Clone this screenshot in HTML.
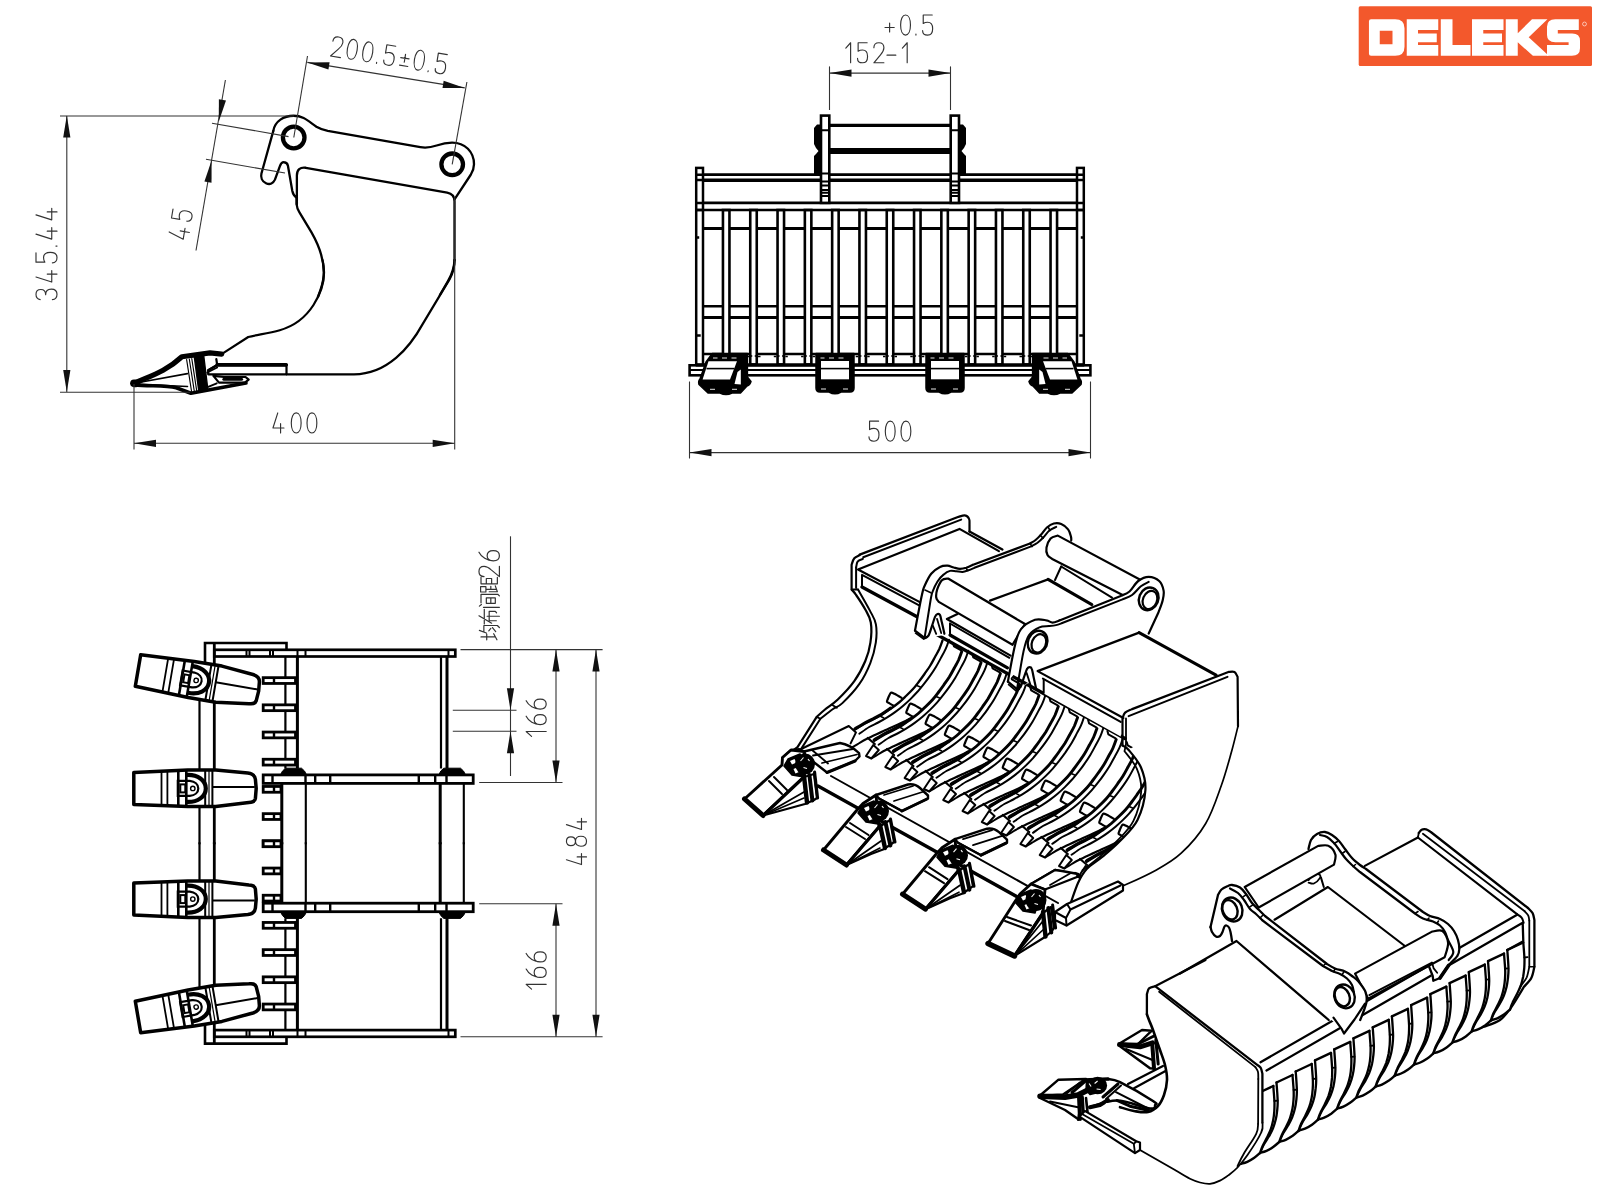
<!DOCTYPE html>
<html><head><meta charset="utf-8"><title>DELEKS drawing</title>
<style>html,body{margin:0;padding:0;background:#fff;font-family:"Liberation Sans",sans-serif;}
svg{display:block}</style></head>
<body><svg width="1600" height="1200" viewBox="0 0 1600 1200">
<rect width="1600" height="1200" fill="#fff"/>
<!-- logo -->
<g>
<rect x="1358.7" y="6.3" width="233.3" height="59.7" rx="1.5" fill="#f3582c"/>
<g transform="translate(1355,0) scale(0.15000)" fill="#fff">
<path d="M93,142 Q93,128 107,128 H268 Q330,128 330,188 V312 Q330,372 268,372 H107 Q93,372 93,358 Z M165,205 H250 V295 H165 Z" fill-rule="evenodd"/>
<path d="M345,128 H555 V200 H420 V223 H545 V281 H420 V300 H555 V372 H345 Z"/>
<path d="M572,128 H650 V300 H770 V372 H572 Z"/>
<path d="M780,128 H990 V200 H855 V223 H980 V281 H855 V300 H990 V372 H780 Z"/>
<path d="M1005,128 H1085 V222 L1180,128 H1283 L1158,248 L1292,372 H1186 L1085,282 V372 H1005 Z"/>
<path d="M1335,128 H1492 V200 H1352 V223 H1448 Q1500,223 1500,272 V322 Q1500,372 1446,372 H1280 V300 H1424 V282 H1335 Q1280,282 1280,234 V178 Q1280,128 1335,128 Z"/>
<circle cx="1530" cy="160" r="13" fill="none" stroke="#fff" stroke-width="4"/>
</g>
</g>
<!-- v1 -->
<g transform="translate(240,100) scale(0.162501)" fill="none" stroke="#000" stroke-width="14.154" stroke-linecap="round" stroke-linejoin="round" >
<path d="M205,190 C215,130 270,97 330,97 C390,97 420,130 470,165 C495,180 510,184 540,190 L1110,290 C1150,297 1180,290 1210,280 C1250,266 1280,262 1305,262 C1385,262 1440,320 1440,395 C1440,420 1432,440 1420,460 L1320,612"/>
<path d="M205,190 L132,452 C126,475 135,500 160,512 C185,524 205,512 215,490 L245,408 C252,388 262,382 272,383 C285,384 292,392 295,405 L322,560 C326,580 332,590 348,600"/>
<path d="M350,645 V465 C350,430 370,412 405,417 L1275,570 C1305,575 1320,590 1320,625 V985"/>
<path d="M348,600 V640 C350,660 355,675 365,690 L440,815 C500,920 520,1000 515,1080 C512,1120 500,1160 480,1210"/>
<path d="M1320,985 C1318,1040 1300,1080 1280,1115 L1230,1200"/>
</g>
<circle cx="293.7" cy="137.5" r="10.8" fill="none" stroke="#000" stroke-width="4.3"/>
<circle cx="452.2" cy="164.3" r="10.8" fill="none" stroke="#000" stroke-width="4.3"/>
<g transform="translate(120,260) scale(0.225002)" fill="none" stroke="#000" stroke-width="9.778" stroke-linecap="round" stroke-linejoin="round" >
<path d="M900,0 C915,60 905,130 860,200 C820,262 770,295 710,312 C660,326 610,332 570,342 L455,416"/>
<path d="M1487,0 C1487,30 1482,55 1465,85 L1345,285 C1290,385 1190,508 1040,508 H740"/>
<path d="M740,508 H392 V490 L432,467 H740 V508"/>
<path d="M432,466 H738" stroke-width="16"/>
<path d="M392,490 L432,467 L428,440"/>
<path d="M415,515 L440,545 H555 L572,532 L558,520 H462 Z"/>
<path d="M462,530 H540" stroke-width="14"/>
</g>
<circle cx="286.3" cy="364.8" r="1.6" fill="#000"/>
<g transform="translate(120,260) scale(0.225002)" fill="none" stroke="#000" stroke-width="9.778" stroke-linecap="round" stroke-linejoin="round" >
<path d="M65,548 C120,520 200,500 275,430 L400,413 L452,418" stroke-width="23"/>
<path d="M65,554 C120,562 200,556 250,568 L315,592 L560,547" stroke-width="16"/>
<path d="M65,548 L300,505 M75,552 L300,562" stroke-width="7"/>
<path d="M330,430 L372,424 L390,572 L350,582 Z" fill="#000" stroke-width="6"/>
<path d="M296,442 L318,584 M308,440 L330,582 M319,438 L341,582" stroke-width="5"/>
<path d="M388,500 L432,478 M392,564 L430,548" stroke-width="8"/>
<path d="M62,548 l10,0" stroke-width="34"/>
</g>
<g><line x1="60.00" y1="116.00" x2="294.00" y2="116.00" stroke="#333" stroke-width="1.1"/><line x1="60.00" y1="392.20" x2="190.00" y2="392.20" stroke="#333" stroke-width="1.1"/><line x1="66.80" y1="116.00" x2="66.80" y2="392.00" stroke="#333" stroke-width="1.1"/><polygon points="66.80,115.50 63.20,137.50 70.40,137.50" fill="#111"/><polygon points="66.80,392.00 70.40,370.00 63.20,370.00" fill="#111"/><line x1="134.00" y1="384.00" x2="134.00" y2="449.50" stroke="#333" stroke-width="1.1"/><line x1="454.70" y1="197.00" x2="454.70" y2="449.50" stroke="#333" stroke-width="1.1"/><line x1="134.00" y1="443.30" x2="454.70" y2="443.30" stroke="#333" stroke-width="1.1"/><polygon points="134.00,443.30 156.00,446.90 156.00,439.70" fill="#111"/><polygon points="454.70,443.30 432.70,439.70 432.70,446.90" fill="#111"/><line x1="293.80" y1="137.50" x2="307.50" y2="56.00" stroke="#333" stroke-width="1.1"/><line x1="452.20" y1="164.30" x2="466.90" y2="82.00" stroke="#333" stroke-width="1.1"/><line x1="307.30" y1="62.40" x2="464.80" y2="87.90" stroke="#333" stroke-width="1.1"/><polygon points="307.30,62.40 328.44,69.47 329.59,62.36" fill="#111"/><polygon points="464.80,87.90 443.66,80.83 442.51,87.94" fill="#111"/><line x1="212.00" y1="123.20" x2="288.50" y2="136.60" stroke="#333" stroke-width="1.1"/><line x1="206.00" y1="159.20" x2="285.00" y2="173.00" stroke="#333" stroke-width="1.1"/><line x1="225.40" y1="80.00" x2="196.00" y2="250.50" stroke="#333" stroke-width="1.1"/><polygon points="218.80,121.50 225.98,100.40 218.88,99.21" fill="#111"/><polygon points="211.60,160.50 204.42,181.60 211.52,182.79" fill="#111"/></g>
<g transform="translate(57.00,254.50) rotate(-90) scale(21.009999999999998)" fill="none" stroke="#333" stroke-width="0.0547" stroke-linecap="round" stroke-linejoin="round"><path transform="translate(-2.147,-1)" d="M0,.2 C.02,.07 .11,0 .25,0 C.4,0 .48,.08 .48,.23 C.48,.38 .4,.46 .23,.46 C.41,.46 .5,.56 .5,.73 C.5,.9 .41,1 .25,1 C.09,1 0,.92 0,.78"/><path transform="translate(-1.311,-1)" d="M.24,0 L0,.75 H.55 M.38,.535 V1"/><path transform="translate(-0.396,-1)" d="M.48,0 H.03 V.42 C.09,.38 .16,.36 .25,.36 C.42,.36 .5,.48 .5,.68 C.5,.88 .42,1 .25,1 C.09,1 0,.92 0,.78"/><path transform="translate(0.419,-1)" d="M-.02,.95 V1"/><path transform="translate(0.732,-1)" d="M.24,0 L0,.75 H.55 M.38,.535 V1"/><path transform="translate(1.647,-1)" d="M.24,0 L0,.75 H.55 M.38,.535 V1"/></g>
<g transform="translate(295.00,433.00) rotate(0) scale(20.055)" fill="none" stroke="#333" stroke-width="0.0573" stroke-linecap="round" stroke-linejoin="round"><path transform="translate(-1.099,-1)" d="M.24,0 L0,.75 H.55 M.38,.535 V1"/><path transform="translate(-0.185,-1)" d="M0,.5 C0,.2 .1,0 .245,0 C.39,0 .49,.2 .49,.5 C.49,.8 .39,1 .245,1 C.1,1 0,.8 0,.5 Z"/><path transform="translate(0.599,-1)" d="M0,.5 C0,.2 .1,0 .245,0 C.39,0 .49,.2 .49,.5 C.49,.8 .39,1 .245,1 C.1,1 0,.8 0,.5 Z"/></g>
<g transform="translate(387.50,65.20) rotate(9.2) scale(20.055)" fill="none" stroke="#333" stroke-width="0.0573" stroke-linecap="round" stroke-linejoin="round"><path transform="translate(-2.878,-1)" d="M0,.25 C0,.08 .09,0 .25,0 C.41,0 .5,.08 .5,.25 C.5,.4 .42,.5 .33,.6 L0,1 H.5"/><path transform="translate(-2.105,-1)" d="M0,.5 C0,.2 .1,0 .245,0 C.39,0 .49,.2 .49,.5 C.49,.8 .39,1 .245,1 C.1,1 0,.8 0,.5 Z"/><path transform="translate(-1.321,-1)" d="M0,.5 C0,.2 .1,0 .245,0 C.39,0 .49,.2 .49,.5 C.49,.8 .39,1 .245,1 C.1,1 0,.8 0,.5 Z"/><path transform="translate(-0.537,-1)" d="M-.02,.95 V1"/><path transform="translate(-0.224,-1)" d="M.48,0 H.03 V.42 C.09,.38 .16,.36 .25,.36 C.42,.36 .5,.48 .5,.68 C.5,.88 .42,1 .25,1 C.09,1 0,.92 0,.78"/><path transform="translate(0.591,-1)" d="M0,.52 H.42 M.21,.32 V.72 M0,.9 H.42"/><path transform="translate(1.281,-1)" d="M0,.5 C0,.2 .1,0 .245,0 C.39,0 .49,.2 .49,.5 C.49,.8 .39,1 .245,1 C.1,1 0,.8 0,.5 Z"/><path transform="translate(2.065,-1)" d="M-.02,.95 V1"/><path transform="translate(2.378,-1)" d="M.48,0 H.03 V.42 C.09,.38 .16,.36 .25,.36 C.42,.36 .5,.48 .5,.68 C.5,.88 .42,1 .25,1 C.09,1 0,.92 0,.78"/></g>
<g transform="translate(190.50,226.00) rotate(-80.5) scale(20.055)" fill="none" stroke="#333" stroke-width="0.0573" stroke-linecap="round" stroke-linejoin="round"><path transform="translate(-0.707,-1)" d="M.24,0 L0,.75 H.55 M.38,.535 V1"/><path transform="translate(0.207,-1)" d="M.48,0 H.03 V.42 C.09,.38 .16,.36 .25,.36 C.42,.36 .5,.48 .5,.68 C.5,.88 .42,1 .25,1 C.09,1 0,.92 0,.78"/></g>
<!-- v2 -->
<path d="M703,228.6 H1077 M703,317.5 H1077" stroke="#000" fill="none" stroke-width="3"/>
<path d="M703,306.2 H1077 M703,353.9 H1077" stroke="#000" fill="none" stroke-width="2.5"/>
<rect x="722.95" y="210" width="6.5" height="154.5" fill="#fff" stroke="#000" stroke-width="2.6"/>
<path d="M722.95,356 h2 M729.45,356 h-2 M719.20,356.5 h2.5 M733.20,356.5 h-2.5" stroke="#000" stroke-width="1.6"/>
<rect x="750.25" y="210" width="6.5" height="154.5" fill="#fff" stroke="#000" stroke-width="2.6"/>
<path d="M750.25,356 h2 M756.75,356 h-2 M746.50,356.5 h2.5 M760.50,356.5 h-2.5" stroke="#000" stroke-width="1.6"/>
<rect x="777.55" y="210" width="6.5" height="154.5" fill="#fff" stroke="#000" stroke-width="2.6"/>
<path d="M777.55,356 h2 M784.05,356 h-2 M773.80,356.5 h2.5 M787.80,356.5 h-2.5" stroke="#000" stroke-width="1.6"/>
<rect x="804.85" y="210" width="6.5" height="154.5" fill="#fff" stroke="#000" stroke-width="2.6"/>
<path d="M804.85,356 h2 M811.35,356 h-2 M801.10,356.5 h2.5 M815.10,356.5 h-2.5" stroke="#000" stroke-width="1.6"/>
<rect x="832.15" y="210" width="6.5" height="154.5" fill="#fff" stroke="#000" stroke-width="2.6"/>
<path d="M832.15,356 h2 M838.65,356 h-2 M828.40,356.5 h2.5 M842.40,356.5 h-2.5" stroke="#000" stroke-width="1.6"/>
<rect x="859.45" y="210" width="6.5" height="154.5" fill="#fff" stroke="#000" stroke-width="2.6"/>
<path d="M859.45,356 h2 M865.95,356 h-2 M855.70,356.5 h2.5 M869.70,356.5 h-2.5" stroke="#000" stroke-width="1.6"/>
<rect x="886.75" y="210" width="6.5" height="154.5" fill="#fff" stroke="#000" stroke-width="2.6"/>
<path d="M886.75,356 h2 M893.25,356 h-2 M883.00,356.5 h2.5 M897.00,356.5 h-2.5" stroke="#000" stroke-width="1.6"/>
<rect x="914.05" y="210" width="6.5" height="154.5" fill="#fff" stroke="#000" stroke-width="2.6"/>
<path d="M914.05,356 h2 M920.55,356 h-2 M910.30,356.5 h2.5 M924.30,356.5 h-2.5" stroke="#000" stroke-width="1.6"/>
<rect x="941.35" y="210" width="6.5" height="154.5" fill="#fff" stroke="#000" stroke-width="2.6"/>
<path d="M941.35,356 h2 M947.85,356 h-2 M937.60,356.5 h2.5 M951.60,356.5 h-2.5" stroke="#000" stroke-width="1.6"/>
<rect x="968.65" y="210" width="6.5" height="154.5" fill="#fff" stroke="#000" stroke-width="2.6"/>
<path d="M968.65,356 h2 M975.15,356 h-2 M964.90,356.5 h2.5 M978.90,356.5 h-2.5" stroke="#000" stroke-width="1.6"/>
<rect x="995.95" y="210" width="6.5" height="154.5" fill="#fff" stroke="#000" stroke-width="2.6"/>
<path d="M995.95,356 h2 M1002.45,356 h-2 M992.20,356.5 h2.5 M1006.20,356.5 h-2.5" stroke="#000" stroke-width="1.6"/>
<rect x="1023.25" y="210" width="6.5" height="154.5" fill="#fff" stroke="#000" stroke-width="2.6"/>
<path d="M1023.25,356 h2 M1029.75,356 h-2 M1019.50,356.5 h2.5 M1033.50,356.5 h-2.5" stroke="#000" stroke-width="1.6"/>
<rect x="1050.55" y="210" width="6.5" height="154.5" fill="#fff" stroke="#000" stroke-width="2.6"/>
<path d="M1050.55,356 h2 M1057.05,356 h-2 M1046.80,356.5 h2.5 M1060.80,356.5 h-2.5" stroke="#000" stroke-width="1.6"/>
<rect x="696.2" y="167.9" width="6.8" height="197" fill="#fff" stroke="#000" stroke-width="2.5"/>
<path d="M696.2,174.7 h6.8 M696.2,180 h6.8 M696.2,202.9 h6.8 M696.2,210 h6.8" stroke="#000" stroke-width="2.5"/>
<rect x="1077" y="167.9" width="6.8" height="197" fill="#fff" stroke="#000" stroke-width="2.5"/>
<path d="M1077,174.7 h6.8 M1077,180 h6.8 M1077,202.9 h6.8 M1077,210 h6.8" stroke="#000" stroke-width="2.5"/>
<path d="M696.2,237.5 h3 M696.2,335.5 h4.5 M1083.8,237.5 h-3 M1083.8,335.5 h-4.5" stroke="#000" stroke-width="2.4"/>
<path d="M703,174.7 H1077 M703,202.9 H1077 M696.2,210 H1083.8" stroke="#000" fill="none" stroke-width="2.7"/>
<path d="M703,180.2 H1077" stroke="#000" fill="none" stroke-width="3.4"/>
<path d="M829.3,125.4 H950.7" stroke="#000" fill="none" stroke-width="3.2"/>
<path d="M829.3,151 H950.7" stroke="#000" fill="none" stroke-width="6"/>
<rect x="821" y="115.6" width="8.3" height="87.3" fill="#fff" stroke="#000" stroke-width="2.6"/>
<path d="M821,130.3 h8.3 M821,173.6 h8.3 M821,181.5 h8.3 M821,185.5 h8.3 M821,190 h8.3 M821,192.8 h8.3 M821,196 h8.3" stroke="#000" stroke-width="2"/>
<path d="M821,124.6 L817,124.6 L814,128 V144 L816,148 L818.5,151 L816,154 L814,156 V174 H821 Z" fill="#000"/>
<rect x="950.7" y="115.6" width="8.3" height="87.3" fill="#fff" stroke="#000" stroke-width="2.6"/>
<path d="M950.7,130.3 h8.3 M950.7,173.6 h8.3 M950.7,181.5 h8.3 M950.7,185.5 h8.3 M950.7,190 h8.3 M950.7,192.8 h8.3 M950.7,196 h8.3" stroke="#000" stroke-width="2"/>
<path d="M959.0,124.6 L963.0,124.6 L966.0,128 V144 L964.0,148 L961.5,151 L964.0,154 L966.0,156 V174 H959.0 Z" fill="#000"/>
<path d="M696,364.9 H1084" stroke="#000" fill="none" stroke-width="3.2"/>
<rect x="689.6" y="365.3" width="400.8" height="10" fill="none" stroke="#000" stroke-width="2.6"/>
<path d="M689.6,370 H1090.4" stroke="#000" fill="none" stroke-width="2"/>
<path d="M712.3,353.5 H747.4 V377 L751,381.5 Q750,385 747,386 L740.5,393 H732 Q726,396 720,393 H708 L699,384.5 Q698,381 700,379 L706,362 Z" fill="#000" stroke="#000" stroke-width="1.5" stroke-linejoin="round"/><path d="M708.5,361.2 H737 L730,379.6 H702.6 Z" fill="#fff"/><path d="M737.5,372 L740.8,369.5 V384.5 L734.5,384 Z" fill="#fff"/><path d="M706.5,368.6 H734.5" stroke="#000" stroke-width="1.6"/><path d="M713,358 h4.5 m4.5,0 h5 m4.5,0 h5 M710,389.3 h5 m17,0 h5" stroke="#fff" stroke-width="0.9"/>
<g transform="translate(1780,0) scale(-1,1)"><path d="M712.3,353.5 H747.4 V377 L751,381.5 Q750,385 747,386 L740.5,393 H732 Q726,396 720,393 H708 L699,384.5 Q698,381 700,379 L706,362 Z" fill="#000" stroke="#000" stroke-width="1.5" stroke-linejoin="round"/><path d="M708.5,361.2 H737 L730,379.6 H702.6 Z" fill="#fff"/><path d="M737.5,372 L740.8,369.5 V384.5 L734.5,384 Z" fill="#fff"/><path d="M706.5,368.6 H734.5" stroke="#000" stroke-width="1.6"/><path d="M713,358 h4.5 m4.5,0 h5 m4.5,0 h5 M710,389.3 h5 m17,0 h5" stroke="#fff" stroke-width="0.9"/></g>
<path d="M816,353.5 H854 V388 Q854,392 850,392 H841 Q835,395.5 829,392 H820 Q816,392 816,388 Z" fill="#000" stroke="#000" stroke-width="1.5" stroke-linejoin="round"/><rect x="821" y="361" width="28" height="18.3" fill="#fff"/><path d="M821,368.6 H849" stroke="#000" stroke-width="1.6"/><path d="M820.5,358 h4 m4.5,0 h5 m4.5,0 h5 M821,389 h5 m17,0 h5 M827,362.3 h4 m8,0 h4" stroke="#fff" stroke-width="0.9"/>
<path d="M926,353.5 H964 V388 Q964,392 960,392 H951 Q945,395.5 939,392 H930 Q926,392 926,388 Z" fill="#000" stroke="#000" stroke-width="1.5" stroke-linejoin="round"/><rect x="931" y="361" width="28" height="18.3" fill="#fff"/><path d="M931,368.6 H959" stroke="#000" stroke-width="1.6"/><path d="M930.5,358 h4 m4.5,0 h5 m4.5,0 h5 M931,389 h5 m17,0 h5 M937,362.3 h4 m8,0 h4" stroke="#fff" stroke-width="0.9"/>
<line x1="689.50" y1="381.50" x2="689.50" y2="458.50" stroke="#333" stroke-width="1.1"/><line x1="1090.50" y1="381.50" x2="1090.50" y2="458.50" stroke="#333" stroke-width="1.1"/><line x1="689.50" y1="452.60" x2="1090.50" y2="452.60" stroke="#333" stroke-width="1.1"/><polygon points="689.50,452.60 711.50,456.20 711.50,449.00" fill="#111"/><polygon points="1090.50,452.60 1068.50,449.00 1068.50,456.20" fill="#111"/><line x1="829.50" y1="66.40" x2="829.50" y2="110.00" stroke="#333" stroke-width="1.1"/><line x1="950.50" y1="66.40" x2="950.50" y2="110.00" stroke="#333" stroke-width="1.1"/><line x1="829.50" y1="73.10" x2="950.50" y2="73.10" stroke="#333" stroke-width="1.1"/><polygon points="829.50,73.10 851.50,76.70 851.50,69.50" fill="#111"/><polygon points="950.50,73.10 928.50,69.50 928.50,76.70" fill="#111"/>
<g transform="translate(890.00,441.20) rotate(0) scale(20.055)" fill="none" stroke="#333" stroke-width="0.0573" stroke-linecap="round" stroke-linejoin="round"><path transform="translate(-1.049,-1)" d="M.48,0 H.03 V.42 C.09,.38 .16,.36 .25,.36 C.42,.36 .5,.48 .5,.68 C.5,.88 .42,1 .25,1 C.09,1 0,.92 0,.78"/><path transform="translate(-0.234,-1)" d="M0,.5 C0,.2 .1,0 .245,0 C.39,0 .49,.2 .49,.5 C.49,.8 .39,1 .245,1 C.1,1 0,.8 0,.5 Z"/><path transform="translate(0.549,-1)" d="M0,.5 C0,.2 .1,0 .245,0 C.39,0 .49,.2 .49,.5 C.49,.8 .39,1 .245,1 C.1,1 0,.8 0,.5 Z"/></g>
<g transform="translate(845.80,62.80) rotate(0) scale(20.055)" fill="none" stroke="#333" stroke-width="0.0573" stroke-linecap="round" stroke-linejoin="round"><path transform="translate(0.000,-1)" d="M0,.27 L.24,0 V1"/><path transform="translate(0.585,-1)" d="M.48,0 H.03 V.42 C.09,.38 .16,.36 .25,.36 C.42,.36 .5,.48 .5,.68 C.5,.88 .42,1 .25,1 C.09,1 0,.92 0,.78"/><path transform="translate(1.400,-1)" d="M0,.25 C0,.08 .09,0 .25,0 C.41,0 .5,.08 .5,.25 C.5,.4 .42,.5 .33,.6 L0,1 H.5"/><path transform="translate(2.174,-1)" d="M-.12,.62 H.32"/><path transform="translate(2.821,-1)" d="M0,.27 L.24,0 V1"/></g>
<g transform="translate(885.00,35.10) rotate(0) scale(20.055)" fill="none" stroke="#333" stroke-width="0.0573" stroke-linecap="round" stroke-linejoin="round"><path transform="translate(0.000,-1)" d="M0,.62 H.46 M.23,.4 V.84"/><path transform="translate(0.779,-1)" d="M0,.5 C0,.2 .1,0 .245,0 C.39,0 .49,.2 .49,.5 C.49,.8 .39,1 .245,1 C.1,1 0,.8 0,.5 Z"/><path transform="translate(1.562,-1)" d="M-.02,.95 V1"/><path transform="translate(1.876,-1)" d="M.48,0 H.03 V.42 C.09,.38 .16,.36 .25,.36 C.42,.36 .5,.48 .5,.68 C.5,.88 .42,1 .25,1 C.09,1 0,.92 0,.78"/></g>
<!-- v3 -->
<g transform="translate(0,1686.6) scale(1,-1)"><path d="M205,664 V643 H286.5 V649.8" fill="none" stroke="#000" stroke-width="2.6"/>
<path d="M214.3,643 V844.3" fill="none" stroke="#000" stroke-width="2.8"/>
<path d="M199.5,690 V844.3" fill="none" stroke="#000" stroke-width="2.2"/>
<rect x="214.3" y="649.8" width="241" height="6.7" fill="none" stroke="#000" stroke-width="2.7"/>
<path d="M448.5,649.8 v6.7 M246.5,649.8 v6.7 M249.5,649.8 v6.7 M270,649.8 v6.7 M273,649.8 v6.7 M297.5,649.8 v6.7 M305.5,649.8 v6.7" fill="none" stroke="#000" stroke-width="2"/>
<path d="M285.4,656.5 V768.4 M441,656.5 V768.4" fill="none" stroke="#000" stroke-width="2.2"/>
<path d="M297.4,656.5 V768.4 M447,656.5 V768.4" fill="none" stroke="#000" stroke-width="3"/>
<path d="M280.5,774.8 L282.5,771 L285.5,768.2 H301.5 L304.5,771 L306.5,774.8 Z M438.8,774.8 L440.8,771 L443.8,768.2 H460.5 L463.5,771 L465.5,774.8 Z" fill="#000" stroke="#000" stroke-width="1"/>
<rect x="263.2" y="774.9" width="210" height="8.5" fill="#fff" stroke="#000" stroke-width="2.8"/>
<path d="M272.5,775 v8.5 M305.5,775 v8.5 M315.2,775 v8.5 M330.2,775 v8.5 M418.8,775 v8.5 M435.2,775 v8.5 M446.5,775 v8.5" fill="none" stroke="#000" stroke-width="2.4"/>
<path d="M281.8,783.4 V844.3 M440.2,783.4 V844.3" fill="none" stroke="#000" stroke-width="3"/>
<path d="M305.8,783.4 V844.3 M463.8,783.4 V844.3" fill="none" stroke="#000" stroke-width="2.1"/></g>
<path d="M205,664 V643 H286.5 V649.8" fill="none" stroke="#000" stroke-width="2.6"/>
<path d="M214.3,643 V844.3" fill="none" stroke="#000" stroke-width="2.8"/>
<path d="M199.5,690 V844.3" fill="none" stroke="#000" stroke-width="2.2"/>
<rect x="214.3" y="649.8" width="241" height="6.7" fill="none" stroke="#000" stroke-width="2.7"/>
<path d="M448.5,649.8 v6.7 M246.5,649.8 v6.7 M249.5,649.8 v6.7 M270,649.8 v6.7 M273,649.8 v6.7 M297.5,649.8 v6.7 M305.5,649.8 v6.7" fill="none" stroke="#000" stroke-width="2"/>
<path d="M285.4,656.5 V768.4 M441,656.5 V768.4" fill="none" stroke="#000" stroke-width="2.2"/>
<path d="M297.4,656.5 V768.4 M447,656.5 V768.4" fill="none" stroke="#000" stroke-width="3"/>
<path d="M280.5,774.8 L282.5,771 L285.5,768.2 H301.5 L304.5,771 L306.5,774.8 Z M438.8,774.8 L440.8,771 L443.8,768.2 H460.5 L463.5,771 L465.5,774.8 Z" fill="#000" stroke="#000" stroke-width="1"/>
<rect x="263.2" y="774.9" width="210" height="8.5" fill="#fff" stroke="#000" stroke-width="2.8"/>
<path d="M272.5,775 v8.5 M305.5,775 v8.5 M315.2,775 v8.5 M330.2,775 v8.5 M418.8,775 v8.5 M435.2,775 v8.5 M446.5,775 v8.5" fill="none" stroke="#000" stroke-width="2.4"/>
<path d="M281.8,783.4 V844.3 M440.2,783.4 V844.3" fill="none" stroke="#000" stroke-width="3"/>
<path d="M305.8,783.4 V844.3 M463.8,783.4 V844.3" fill="none" stroke="#000" stroke-width="2.1"/>
<g transform="translate(0,1687.5) scale(1,-1)"><rect x="263.2" y="677.65" width="32.30" height="5.8" fill="#fff" stroke="#000" stroke-width="2.8"/>
<path d="M274,677.65 v5.8" fill="none" stroke="#000" stroke-width="2.4"/>
<rect x="263.2" y="704.85" width="32.30" height="5.8" fill="#fff" stroke="#000" stroke-width="2.8"/>
<path d="M274,704.85 v5.8" fill="none" stroke="#000" stroke-width="2.4"/>
<rect x="263.2" y="732.05" width="32.30" height="5.8" fill="#fff" stroke="#000" stroke-width="2.8"/>
<path d="M274,732.05 v5.8" fill="none" stroke="#000" stroke-width="2.4"/>
<rect x="263.2" y="759.25" width="32.30" height="5.8" fill="#fff" stroke="#000" stroke-width="2.8"/>
<path d="M274,759.25 v5.8" fill="none" stroke="#000" stroke-width="2.4"/>
<rect x="263.2" y="786.45" width="17.80" height="5.8" fill="#fff" stroke="#000" stroke-width="2.8"/>
<path d="M274,786.45 v5.8" fill="none" stroke="#000" stroke-width="2.4"/>
<rect x="263.2" y="813.65" width="17.80" height="5.8" fill="#fff" stroke="#000" stroke-width="2.8"/>
<path d="M274,813.65 v5.8" fill="none" stroke="#000" stroke-width="2.4"/>
<rect x="263.2" y="840.85" width="17.80" height="5.8" fill="#fff" stroke="#000" stroke-width="2.8"/>
<path d="M274,840.85 v5.8" fill="none" stroke="#000" stroke-width="2.4"/>
<g transform="translate(138,670.5) rotate(9.7)"><path d="M0,-16 L54,-18.3 L82,-18.5 L114,-15.4 Q121,-14.5 121.6,-9 L122.4,0 L121.6,10 Q121,13.8 115,14 L82,18.2 L54,18.2 L0,16 Z" fill="#fff" stroke="#000" stroke-width="3.5" stroke-linejoin="round" stroke-linecap="round"/><path d="M27.7,-17 V17 M33.6,-17 V17" fill="none" stroke="#000" stroke-width="1.8"/><path d="M71.4,-18 V18 M78.6,-18 V18" fill="none" stroke="#000" stroke-width="2"/><path d="M75.2,-18 V18" fill="none" stroke="#000" stroke-width="1.2"/><path d="M78.6,-1.5 H121" fill="none" stroke="#000" stroke-width="2"/><path d="M44.5,-17.5 V17.5 M52.5,-17.5 V17.5" fill="none" stroke="#000" stroke-width="2.6"/><path d="M53,-13.5 C64,-14 72,-8 72,0 C72,8 64,14 53,13.5" fill="none" stroke="#000" stroke-width="4.2"/><path d="M44,-7.5 H56 C61,-7 64.5,-4 64.5,0 C64.5,4 61,7 56,7.5 H44 Z" fill="none" stroke="#000" stroke-width="2.2"/><rect x="46.5" y="-4" width="5" height="8" fill="none" stroke="#000" stroke-width="2"/><circle cx="59" cy="0" r="2.2" fill="none" stroke="#000" stroke-width="1.4"/></g>
<g transform="translate(133.8,788.4)"><path d="M0,-16 L54,-18.3 L82,-18.5 L114,-15.4 Q121,-14.5 121.6,-9 L122.4,0 L121.6,10 Q121,13.8 115,14 L82,18.2 L54,18.2 L0,16 Z" fill="#fff" stroke="#000" stroke-width="3.5" stroke-linejoin="round" stroke-linecap="round"/><path d="M27.7,-17 V17 M33.6,-17 V17" fill="none" stroke="#000" stroke-width="1.8"/><path d="M71.4,-18 V18 M78.6,-18 V18" fill="none" stroke="#000" stroke-width="2"/><path d="M75.2,-18 V18" fill="none" stroke="#000" stroke-width="1.2"/><path d="M78.6,-1.5 H121" fill="none" stroke="#000" stroke-width="2"/><path d="M44.5,-17.5 V17.5 M52.5,-17.5 V17.5" fill="none" stroke="#000" stroke-width="2.6"/><path d="M53,-13.5 C64,-14 72,-8 72,0 C72,8 64,14 53,13.5" fill="none" stroke="#000" stroke-width="4.2"/><path d="M44,-7.5 H56 C61,-7 64.5,-4 64.5,0 C64.5,4 61,7 56,7.5 H44 Z" fill="none" stroke="#000" stroke-width="2.2"/><rect x="46.5" y="-4" width="5" height="8" fill="none" stroke="#000" stroke-width="2"/><circle cx="59" cy="0" r="2.2" fill="none" stroke="#000" stroke-width="1.4"/></g></g>
<rect x="263.2" y="677.65" width="32.30" height="5.8" fill="#fff" stroke="#000" stroke-width="2.8"/>
<path d="M274,677.65 v5.8" fill="none" stroke="#000" stroke-width="2.4"/>
<rect x="263.2" y="704.85" width="32.30" height="5.8" fill="#fff" stroke="#000" stroke-width="2.8"/>
<path d="M274,704.85 v5.8" fill="none" stroke="#000" stroke-width="2.4"/>
<rect x="263.2" y="732.05" width="32.30" height="5.8" fill="#fff" stroke="#000" stroke-width="2.8"/>
<path d="M274,732.05 v5.8" fill="none" stroke="#000" stroke-width="2.4"/>
<rect x="263.2" y="759.25" width="32.30" height="5.8" fill="#fff" stroke="#000" stroke-width="2.8"/>
<path d="M274,759.25 v5.8" fill="none" stroke="#000" stroke-width="2.4"/>
<rect x="263.2" y="786.45" width="17.80" height="5.8" fill="#fff" stroke="#000" stroke-width="2.8"/>
<path d="M274,786.45 v5.8" fill="none" stroke="#000" stroke-width="2.4"/>
<rect x="263.2" y="813.65" width="17.80" height="5.8" fill="#fff" stroke="#000" stroke-width="2.8"/>
<path d="M274,813.65 v5.8" fill="none" stroke="#000" stroke-width="2.4"/>
<rect x="263.2" y="840.85" width="17.80" height="5.8" fill="#fff" stroke="#000" stroke-width="2.8"/>
<path d="M274,840.85 v5.8" fill="none" stroke="#000" stroke-width="2.4"/>
<g transform="translate(138,670.5) rotate(9.7)"><path d="M0,-16 L54,-18.3 L82,-18.5 L114,-15.4 Q121,-14.5 121.6,-9 L122.4,0 L121.6,10 Q121,13.8 115,14 L82,18.2 L54,18.2 L0,16 Z" fill="#fff" stroke="#000" stroke-width="3.5" stroke-linejoin="round" stroke-linecap="round"/><path d="M27.7,-17 V17 M33.6,-17 V17" fill="none" stroke="#000" stroke-width="1.8"/><path d="M71.4,-18 V18 M78.6,-18 V18" fill="none" stroke="#000" stroke-width="2"/><path d="M75.2,-18 V18" fill="none" stroke="#000" stroke-width="1.2"/><path d="M78.6,-1.5 H121" fill="none" stroke="#000" stroke-width="2"/><path d="M44.5,-17.5 V17.5 M52.5,-17.5 V17.5" fill="none" stroke="#000" stroke-width="2.6"/><path d="M53,-13.5 C64,-14 72,-8 72,0 C72,8 64,14 53,13.5" fill="none" stroke="#000" stroke-width="4.2"/><path d="M44,-7.5 H56 C61,-7 64.5,-4 64.5,0 C64.5,4 61,7 56,7.5 H44 Z" fill="none" stroke="#000" stroke-width="2.2"/><rect x="46.5" y="-4" width="5" height="8" fill="none" stroke="#000" stroke-width="2"/><circle cx="59" cy="0" r="2.2" fill="none" stroke="#000" stroke-width="1.4"/></g>
<g transform="translate(133.8,788.4)"><path d="M0,-16 L54,-18.3 L82,-18.5 L114,-15.4 Q121,-14.5 121.6,-9 L122.4,0 L121.6,10 Q121,13.8 115,14 L82,18.2 L54,18.2 L0,16 Z" fill="#fff" stroke="#000" stroke-width="3.5" stroke-linejoin="round" stroke-linecap="round"/><path d="M27.7,-17 V17 M33.6,-17 V17" fill="none" stroke="#000" stroke-width="1.8"/><path d="M71.4,-18 V18 M78.6,-18 V18" fill="none" stroke="#000" stroke-width="2"/><path d="M75.2,-18 V18" fill="none" stroke="#000" stroke-width="1.2"/><path d="M78.6,-1.5 H121" fill="none" stroke="#000" stroke-width="2"/><path d="M44.5,-17.5 V17.5 M52.5,-17.5 V17.5" fill="none" stroke="#000" stroke-width="2.6"/><path d="M53,-13.5 C64,-14 72,-8 72,0 C72,8 64,14 53,13.5" fill="none" stroke="#000" stroke-width="4.2"/><path d="M44,-7.5 H56 C61,-7 64.5,-4 64.5,0 C64.5,4 61,7 56,7.5 H44 Z" fill="none" stroke="#000" stroke-width="2.2"/><rect x="46.5" y="-4" width="5" height="8" fill="none" stroke="#000" stroke-width="2"/><circle cx="59" cy="0" r="2.2" fill="none" stroke="#000" stroke-width="1.4"/></g>
<line x1="510.50" y1="536.30" x2="510.50" y2="776.00" stroke="#333" stroke-width="1.1"/><polygon points="510.50,710.20 514.10,688.20 506.90,688.20" fill="#111"/><polygon points="510.50,731.20 506.90,753.20 514.10,753.20" fill="#111"/><line x1="452.80" y1="710.20" x2="516.50" y2="710.20" stroke="#333" stroke-width="1.1"/><line x1="452.80" y1="731.20" x2="516.50" y2="731.20" stroke="#333" stroke-width="1.1"/><line x1="460.50" y1="649.60" x2="602.60" y2="649.60" stroke="#333" stroke-width="1.1"/><line x1="479.20" y1="782.50" x2="562.50" y2="782.50" stroke="#333" stroke-width="1.1"/><line x1="479.20" y1="903.80" x2="562.50" y2="903.80" stroke="#333" stroke-width="1.1"/><line x1="460.50" y1="1036.80" x2="602.60" y2="1036.80" stroke="#333" stroke-width="1.1"/><line x1="556.00" y1="649.60" x2="556.00" y2="782.50" stroke="#333" stroke-width="1.1"/><polygon points="556.00,649.60 552.40,671.60 559.60,671.60" fill="#111"/><polygon points="556.00,782.50 559.60,760.50 552.40,760.50" fill="#111"/><line x1="556.00" y1="903.80" x2="556.00" y2="1036.80" stroke="#333" stroke-width="1.1"/><polygon points="556.00,903.80 552.40,925.80 559.60,925.80" fill="#111"/><polygon points="556.00,1036.80 559.60,1014.80 552.40,1014.80" fill="#111"/><line x1="596.00" y1="649.60" x2="596.00" y2="1036.80" stroke="#333" stroke-width="1.1"/><polygon points="596.00,649.60 592.40,671.60 599.60,671.60" fill="#111"/><polygon points="596.00,1036.80 599.60,1014.80 592.40,1014.80" fill="#111"/>
<g transform="translate(546.20,717.70) rotate(-90) scale(20.055)" fill="none" stroke="#333" stroke-width="0.0573" stroke-linecap="round" stroke-linejoin="round"><path transform="translate(-0.929,-1)" d="M0,.27 L.24,0 V1"/><path transform="translate(-0.344,-1)" d="M.42,0 C.18,.12 0,.4 0,.7 C0,.9 .09,1 .25,1 C.41,1 .5,.9 .5,.7 C.5,.5 .41,.4 .25,.4 C.09,.4 0,.52 0,.7"/><path transform="translate(0.429,-1)" d="M.42,0 C.18,.12 0,.4 0,.7 C0,.9 .09,1 .25,1 C.41,1 .5,.9 .5,.7 C.5,.5 .41,.4 .25,.4 C.09,.4 0,.52 0,.7"/></g>
<g transform="translate(546.20,970.50) rotate(-90) scale(20.055)" fill="none" stroke="#333" stroke-width="0.0573" stroke-linecap="round" stroke-linejoin="round"><path transform="translate(-0.929,-1)" d="M0,.27 L.24,0 V1"/><path transform="translate(-0.344,-1)" d="M.42,0 C.18,.12 0,.4 0,.7 C0,.9 .09,1 .25,1 C.41,1 .5,.9 .5,.7 C.5,.5 .41,.4 .25,.4 C.09,.4 0,.52 0,.7"/><path transform="translate(0.429,-1)" d="M.42,0 C.18,.12 0,.4 0,.7 C0,.9 .09,1 .25,1 C.41,1 .5,.9 .5,.7 C.5,.5 .41,.4 .25,.4 C.09,.4 0,.52 0,.7"/></g>
<g transform="translate(586.50,842.00) rotate(-90) scale(20.055)" fill="none" stroke="#333" stroke-width="0.0573" stroke-linecap="round" stroke-linejoin="round"><path transform="translate(-1.125,-1)" d="M.24,0 L0,.75 H.55 M.38,.535 V1"/><path transform="translate(-0.211,-1)" d="M.25,0 C.39,0 .47,.08 .47,.22 C.47,.36 .39,.45 .25,.45 C.11,.45 .03,.36 .03,.22 C.03,.08 .11,0 .25,0 Z M.25,.45 C.41,.45 .5,.56 .5,.72 C.5,.9 .41,1 .25,1 C.09,1 0,.9 0,.72 C0,.56 .09,.45 .25,.45 Z"/><path transform="translate(0.625,-1)" d="M.24,0 L0,.75 H.55 M.38,.535 V1"/></g>
<g transform="translate(499.40,639.80) rotate(-90) scale(20.436999999999998)" fill="none" stroke="#333" stroke-width="0.0587" stroke-linecap="round" stroke-linejoin="round"><path transform="translate(0.000,-1)" d="M0,.38 H.28 M.14,.1 V.78 M0,.88 L.3,.72 M.46,.02 L.33,.36 M.4,.24 H.7 V.9 L.6,1 M.44,.48 L.56,.58 M.4,.82 L.6,.66"/><path transform="translate(0.773,-1)" d="M0,.26 H.72 M.4,0 L.04,.62 M.38,.4 V1 M.16,.85 V.5 H.62 V.8 L.55,.86"/><path transform="translate(1.547,-1)" d="M.1,.02 L.18,.12 M.04,.22 V1 M.26,.1 H.68 V.92 L.6,1 M.24,.36 H.5 V.8 H.24 Z M.24,.58 H.5"/><path transform="translate(2.320,-1)" d="M.02,.08 H.28 V.34 H.02 Z M.15,.34 V.86 M.15,.58 H.3 M.03,.5 V.9 L.32,.8 M.42,.1 H.74 M.42,.1 V.9 H.74 M.42,.36 H.68 V.62 H.42"/><path transform="translate(3.093,-1)" d="M0,.25 C0,.08 .09,0 .25,0 C.41,0 .5,.08 .5,.25 C.5,.4 .42,.5 .33,.6 L0,1 H.5"/><path transform="translate(3.866,-1)" d="M.42,0 C.18,.12 0,.4 0,.7 C0,.9 .09,1 .25,1 C.41,1 .5,.9 .5,.7 C.5,.5 .41,.4 .25,.4 C.09,.4 0,.52 0,.7"/></g>
<!-- v4 -->
<path d="M859.8,555.0 L859.8,555.0 M859.8,555.0 C858.9,555.6 855.7,556.7 854.3,558.3 C852.9,559.9 852.0,563.7 851.6,564.7 M851.6,564.7 L851.6,589.5 M851.6,589.5 C852.3,590.4 853.9,591.6 856.1,595.0 C858.4,598.3 862.9,605.1 865.3,609.6 C867.8,614.2 870.0,617.0 870.8,622.5 C871.7,628.0 871.4,636.2 870.4,642.6 C869.5,649.1 868.0,654.6 865.3,661.0 C862.6,667.4 858.9,674.7 854.3,681.1 C849.7,687.5 842.7,694.7 837.8,699.5 C832.9,704.2 828.5,706.6 825.0,709.5 C821.5,712.4 818.1,715.6 816.7,716.9 M816.7,716.9 L797.5,747.1 L790.2,752.6" fill="none" stroke="#000" stroke-width="2.2" stroke-linecap="round" stroke-linejoin="round" /><path d="M858.0,589.5 C860.0,593.0 866.9,604.8 869.9,610.6 C872.9,616.4 875.0,619.0 875.9,624.3 C876.9,629.7 876.7,636.2 875.8,642.6 C874.8,649.1 873.2,655.9 870.4,662.8 C867.7,669.7 864.1,677.2 859.4,683.9 C854.8,690.6 846.9,698.8 842.4,703.1 C837.9,707.4 836.0,706.9 832.3,709.5 C828.7,712.1 822.4,717.2 820.4,718.7 M820.4,718.7 L801.2,748.9" fill="none" stroke="#000" stroke-width="2.0" stroke-linecap="round" stroke-linejoin="round" /><path d="M856.1,588.0 L856.1,567.5" fill="none" stroke="#000" stroke-width="2.0" stroke-linecap="round" stroke-linejoin="round" /><path d="M856.1,567.5 C856.4,566.5 856.5,563.1 857.6,561.6 C858.7,560.2 862.0,559.3 862.9,558.9" fill="none" stroke="#000" stroke-width="2.0" stroke-linecap="round" stroke-linejoin="round" /><path d="M832.3,705.0 L836.9,707.7" fill="none" stroke="#000" stroke-width="1.8" stroke-linecap="round" stroke-linejoin="round" /><path d="M816.7,716.9 L820.4,718.7" fill="none" stroke="#000" stroke-width="1.8" stroke-linecap="round" stroke-linejoin="round" /><path d="M851.6,589.5 L858.0,589.5" fill="none" stroke="#000" stroke-width="1.8" stroke-linecap="round" stroke-linejoin="round" /><path d="M859.7,554.6 L958.6,516.8 M958.6,516.8 C959.7,516.6 963.3,515.0 965.1,515.4 C966.8,515.7 968.4,517.4 969.1,518.9 C969.9,520.4 969.4,523.6 969.5,524.5 L969.5,531.5" fill="none" stroke="#000" stroke-width="2.2" stroke-linecap="round" stroke-linejoin="round" /><path d="M863.2,557.2 L961.2,519.6" fill="none" stroke="#000" stroke-width="2.0" stroke-linecap="round" stroke-linejoin="round" />
<path d="M922.7,603.6 L858.0,569.5 L959.5,528.9 L998.9,551.1" fill="none" stroke="#000" stroke-width="2.2" stroke-linecap="round" stroke-linejoin="round" /><path d="M969.5,531.5 L1002.4,549.5" fill="none" stroke="#000" stroke-width="2.4" stroke-linecap="round" stroke-linejoin="round" /><path d="M920.1,605.9 L862.0,574.9 L862.0,587.1" fill="none" stroke="#000" stroke-width="2.0" stroke-linecap="round" stroke-linejoin="round" /><path d="M862.0,587.1 L917.5,616.9" fill="none" stroke="#000" stroke-width="3.4" stroke-linecap="round" stroke-linejoin="round" />
<path d="M942.5,640.5 C942.0,641.9 940.5,646.2 939.3,649.0 C938.0,651.8 936.5,654.2 935.0,657.0 C933.5,659.8 931.8,663.2 930.0,666.0 C928.2,668.8 926.3,671.4 924.5,674.0 C922.7,676.6 920.9,679.0 919.0,681.5 C917.1,684.0 915.2,686.6 913.0,689.0 C910.8,691.4 908.3,693.8 906.0,696.0 C903.7,698.2 901.5,700.4 899.0,702.5 C896.5,704.6 893.7,706.6 891.0,708.5 C888.3,710.4 885.8,712.2 883.0,714.0 C880.2,715.8 877.0,717.4 874.0,719.0 C871.0,720.6 868.2,721.8 865.0,723.5 C861.8,725.2 856.7,728.5 855.0,729.5 L854.0,734.0 L846.7,745.0 L852.0,747.5 L852.5,747.2 C853.7,746.5 857.2,744.4 859.5,743.0 C861.8,741.6 862.5,741.0 866.5,739.0 C870.5,737.0 876.7,734.2 883.5,731.0 C890.3,727.8 900.8,723.5 907.5,720.0 C914.2,716.5 919.4,713.3 923.5,710.0 C927.6,706.7 929.8,702.9 932.3,700.0 C934.8,697.1 936.4,695.0 938.3,692.5 C940.2,690.0 942.0,687.6 943.8,685.0 C945.6,682.4 947.5,679.8 949.3,677.0 C951.0,674.2 952.8,670.8 954.3,668.0 C955.8,665.2 957.3,662.8 958.6,660.0 C959.8,657.2 961.3,652.9 961.8,651.5 Z" fill="#fff" stroke="none" stroke-width="0" stroke-linecap="round" stroke-linejoin="round" /><path d="M901.5,697.8 C900.3,697.1 896.2,694.7 894.5,693.8 C892.8,692.9 892.1,692.4 891.2,692.6 C890.4,692.8 890.0,694.1 889.4,695.2 C888.8,696.3 888.2,697.9 887.8,699.0 C887.4,700.1 886.7,701.1 887.0,701.8 C887.3,702.5 888.3,702.7 889.5,703.4 C890.7,704.1 893.4,705.5 894.2,705.9" fill="#fff" stroke="#000" stroke-width="2.2" stroke-linecap="round" stroke-linejoin="round" /><path d="M942.5,640.5 C942.0,641.9 940.5,646.2 939.3,649.0 C938.0,651.8 936.5,654.2 935.0,657.0 C933.5,659.8 931.8,663.2 930.0,666.0 C928.2,668.8 926.3,671.4 924.5,674.0 C922.7,676.6 920.9,679.0 919.0,681.5 C917.1,684.0 915.2,686.6 913.0,689.0 C910.8,691.4 908.3,693.8 906.0,696.0 C903.7,698.2 901.5,700.4 899.0,702.5 C896.5,704.6 893.7,706.6 891.0,708.5 C888.3,710.4 885.8,712.2 883.0,714.0 C880.2,715.8 877.0,717.4 874.0,719.0 C871.0,720.6 868.2,721.8 865.0,723.5 C861.8,725.2 856.7,728.5 855.0,729.5" fill="none" stroke="#000" stroke-width="2.3" stroke-linecap="round" stroke-linejoin="round" /><path d="M890.7,708.0 C889.4,708.9 885.5,711.8 882.7,713.5 C879.9,715.2 876.7,716.9 873.7,718.5 C870.7,720.1 867.9,721.2 864.7,723.0 C861.5,724.8 856.4,728.0 854.7,729.0" fill="none" stroke="#000" stroke-width="3.0" stroke-linecap="round" stroke-linejoin="round" /><path d="M949.0,639.8 C948.5,641.3 947.1,645.8 945.8,648.7 C944.5,651.6 942.9,654.4 941.2,657.4 C939.6,660.4 937.7,664.0 935.9,667.0 C934.1,670.0 932.2,672.8 930.2,675.6 C928.2,678.4 926.2,681.1 924.2,683.7 C922.2,686.3 920.1,688.8 917.9,691.3 C915.6,693.8 913.1,696.5 910.7,698.9 C908.3,701.3 906.0,703.3 903.5,705.5 C901.0,707.7 898.1,709.9 895.4,711.9 C892.7,713.9 890.1,715.6 887.2,717.4 C884.3,719.2 881.2,720.9 878.2,722.5 C875.2,724.1 872.4,725.1 869.2,727.0 C866.1,728.9 860.9,732.7 859.3,733.8" fill="none" stroke="#000" stroke-width="2.0" stroke-linecap="round" stroke-linejoin="round" /><path d="M932.3,700.0 C930.8,701.7 927.6,706.7 923.5,710.0 C919.4,713.3 914.2,716.5 907.5,720.0 C900.8,723.5 890.3,727.8 883.5,731.0 C876.7,734.2 870.5,737.0 866.5,739.0 C862.5,741.0 861.8,741.6 859.5,743.0 C857.2,744.4 853.7,746.5 852.5,747.2" fill="none" stroke="#000" stroke-width="2.0" stroke-linecap="round" stroke-linejoin="round" /><path d="M916.2,685.2 L920.3,687.0" fill="none" stroke="#000" stroke-width="1.5" stroke-linecap="round" stroke-linejoin="round" /><path d="M880.0,716.0 L883.8,718.0" fill="none" stroke="#000" stroke-width="1.5" stroke-linecap="round" stroke-linejoin="round" /><path d="M801.2,749.0 L848.8,726.0 L856.0,732.4 L850.6,743.4" fill="none" stroke="#000" stroke-width="2.0" stroke-linecap="round" stroke-linejoin="round" /><path d="M953.0,643.0 L954.0,646.4 L961.2,650.4" fill="none" stroke="#000" stroke-width="2.0" stroke-linecap="round" stroke-linejoin="round" />
<path d="M961.8,651.5 C961.3,652.9 959.8,657.2 958.6,660.0 C957.3,662.8 955.8,665.2 954.3,668.0 C952.8,670.8 951.0,674.2 949.3,677.0 C947.5,679.8 945.6,682.4 943.8,685.0 C942.0,687.6 940.2,690.0 938.3,692.5 C936.4,695.0 934.5,697.6 932.3,700.0 C930.1,702.4 927.6,704.8 925.3,707.0 C923.0,709.2 920.8,711.4 918.3,713.5 C915.8,715.6 913.0,717.6 910.3,719.5 C907.6,721.4 905.1,723.2 902.3,725.0 C899.5,726.8 896.3,728.4 893.3,730.0 C890.3,731.6 887.5,732.8 884.3,734.5 C881.1,736.2 876.0,739.5 874.3,740.5 L873.3,745.0 L866.0,756.0 L871.3,758.5 L871.8,758.2 C873.0,757.5 876.5,755.4 878.8,754.0 C881.1,752.6 881.8,752.0 885.8,750.0 C889.8,748.0 896.0,745.2 902.8,742.0 C909.6,738.8 920.1,734.5 926.8,731.0 C933.5,727.5 938.7,724.3 942.8,721.0 C946.9,717.7 949.1,713.9 951.6,711.0 C954.1,708.1 955.7,706.0 957.6,703.5 C959.5,701.0 961.3,698.6 963.1,696.0 C964.9,693.4 966.9,690.8 968.6,688.0 C970.4,685.2 972.1,681.8 973.6,679.0 C975.1,676.2 976.6,673.8 977.9,671.0 C979.1,668.2 980.6,663.9 981.1,662.5 Z" fill="#fff" stroke="none" stroke-width="0" stroke-linecap="round" stroke-linejoin="round" /><path d="M920.8,708.8 C919.6,708.1 915.5,705.7 913.8,704.8 C912.1,703.9 911.4,703.4 910.5,703.6 C909.6,703.8 909.3,705.1 908.7,706.2 C908.1,707.3 907.5,708.9 907.1,710.0 C906.7,711.1 906.0,712.1 906.3,712.8 C906.6,713.5 907.6,713.7 908.8,714.4 C910.0,715.1 912.7,716.5 913.5,716.9" fill="#fff" stroke="#000" stroke-width="2.2" stroke-linecap="round" stroke-linejoin="round" /><path d="M961.8,651.5 C961.3,652.9 959.8,657.2 958.6,660.0 C957.3,662.8 955.8,665.2 954.3,668.0 C952.8,670.8 951.0,674.2 949.3,677.0 C947.5,679.8 945.6,682.4 943.8,685.0 C942.0,687.6 940.2,690.0 938.3,692.5 C936.4,695.0 934.5,697.6 932.3,700.0 C930.1,702.4 927.6,704.8 925.3,707.0 C923.0,709.2 920.8,711.4 918.3,713.5 C915.8,715.6 913.0,717.6 910.3,719.5 C907.6,721.4 905.1,723.2 902.3,725.0 C899.5,726.8 896.3,728.4 893.3,730.0 C890.3,731.6 887.5,732.8 884.3,734.5 C881.1,736.2 876.0,739.5 874.3,740.5" fill="none" stroke="#000" stroke-width="2.9" stroke-linecap="round" stroke-linejoin="round" /><path d="M910.0,719.0 C908.7,719.9 904.8,722.8 902.0,724.5 C899.2,726.2 896.0,727.9 893.0,729.5 C890.0,731.1 887.2,732.2 884.0,734.0 C880.8,735.8 875.7,739.0 874.0,740.0" fill="none" stroke="#000" stroke-width="3.0" stroke-linecap="round" stroke-linejoin="round" /><path d="M968.3,650.8 C967.8,652.3 966.4,656.8 965.1,659.7 C963.8,662.6 962.1,665.4 960.5,668.4 C958.9,671.4 957.0,675.0 955.2,678.0 C953.4,681.0 951.5,683.8 949.5,686.6 C947.5,689.4 945.5,692.1 943.5,694.7 C941.5,697.3 939.4,699.8 937.2,702.3 C934.9,704.8 932.4,707.5 930.0,709.9 C927.6,712.3 925.3,714.3 922.8,716.5 C920.2,718.7 917.4,720.9 914.7,722.9 C912.0,724.9 909.4,726.6 906.5,728.4 C903.6,730.2 900.5,731.9 897.5,733.5 C894.5,735.1 891.6,736.1 888.5,738.0 C885.4,739.9 880.2,743.7 878.6,744.8" fill="none" stroke="#000" stroke-width="2.0" stroke-linecap="round" stroke-linejoin="round" /><path d="M951.6,711.0 C950.1,712.7 946.9,717.7 942.8,721.0 C938.7,724.3 933.5,727.5 926.8,731.0 C920.1,734.5 909.6,738.8 902.8,742.0 C896.0,745.2 889.8,748.0 885.8,750.0 C881.8,752.0 881.1,752.6 878.8,754.0 C876.5,755.4 873.0,757.5 871.8,758.2" fill="none" stroke="#000" stroke-width="2.0" stroke-linecap="round" stroke-linejoin="round" /><path d="M935.5,696.2 L939.6,698.0" fill="none" stroke="#000" stroke-width="1.5" stroke-linecap="round" stroke-linejoin="round" /><path d="M899.3,727.0 L903.1,729.0" fill="none" stroke="#000" stroke-width="1.5" stroke-linecap="round" stroke-linejoin="round" /><path d="M873.3,745.0 L866.0,756.0 L871.3,758.5 L878.8,750.0 Z" fill="#fff" stroke="#000" stroke-width="2.0" stroke-linecap="round" stroke-linejoin="round" /><path d="M867.8,738.0 L874.8,744.0" fill="none" stroke="#000" stroke-width="2.2" stroke-linecap="round" stroke-linejoin="round" /><path d="M972.3,654.0 L973.3,657.4 L980.5,661.4" fill="none" stroke="#000" stroke-width="2.0" stroke-linecap="round" stroke-linejoin="round" />
<path d="M981.1,662.5 C980.6,663.9 979.1,668.2 977.9,671.0 C976.6,673.8 975.1,676.2 973.6,679.0 C972.1,681.8 970.4,685.2 968.6,688.0 C966.9,690.8 964.9,693.4 963.1,696.0 C961.3,698.6 959.5,701.0 957.6,703.5 C955.7,706.0 953.8,708.6 951.6,711.0 C949.4,713.4 946.9,715.8 944.6,718.0 C942.3,720.2 940.1,722.4 937.6,724.5 C935.1,726.6 932.3,728.6 929.6,730.5 C926.9,732.4 924.4,734.2 921.6,736.0 C918.8,737.8 915.6,739.4 912.6,741.0 C909.6,742.6 906.8,743.8 903.6,745.5 C900.4,747.2 895.3,750.5 893.6,751.5 L892.6,756.0 L885.3,767.0 L890.6,769.5 L891.1,769.2 C892.3,768.5 895.8,766.4 898.1,765.0 C900.4,763.6 901.1,763.0 905.1,761.0 C909.1,759.0 915.3,756.2 922.1,753.0 C928.9,749.8 939.4,745.5 946.1,742.0 C952.8,738.5 958.0,735.3 962.1,732.0 C966.2,728.7 968.4,724.9 970.9,722.0 C973.4,719.1 975.0,717.0 976.9,714.5 C978.8,712.0 980.6,709.6 982.4,707.0 C984.2,704.4 986.1,701.8 987.9,699.0 C989.6,696.2 991.4,692.8 992.9,690.0 C994.4,687.2 995.9,684.8 997.2,682.0 C998.4,679.2 999.9,674.9 1000.4,673.5 Z" fill="#fff" stroke="none" stroke-width="0" stroke-linecap="round" stroke-linejoin="round" /><path d="M940.1,719.8 C938.9,719.1 934.8,716.7 933.1,715.8 C931.4,714.9 930.7,714.4 929.8,714.6 C929.0,714.8 928.6,716.1 928.0,717.2 C927.4,718.3 926.8,719.9 926.4,721.0 C926.0,722.1 925.3,723.1 925.6,723.8 C925.9,724.5 926.9,724.7 928.1,725.4 C929.3,726.1 932.0,727.5 932.8,727.9" fill="#fff" stroke="#000" stroke-width="2.2" stroke-linecap="round" stroke-linejoin="round" /><path d="M981.1,662.5 C980.6,663.9 979.1,668.2 977.9,671.0 C976.6,673.8 975.1,676.2 973.6,679.0 C972.1,681.8 970.4,685.2 968.6,688.0 C966.9,690.8 964.9,693.4 963.1,696.0 C961.3,698.6 959.5,701.0 957.6,703.5 C955.7,706.0 953.8,708.6 951.6,711.0 C949.4,713.4 946.9,715.8 944.6,718.0 C942.3,720.2 940.1,722.4 937.6,724.5 C935.1,726.6 932.3,728.6 929.6,730.5 C926.9,732.4 924.4,734.2 921.6,736.0 C918.8,737.8 915.6,739.4 912.6,741.0 C909.6,742.6 906.8,743.8 903.6,745.5 C900.4,747.2 895.3,750.5 893.6,751.5" fill="none" stroke="#000" stroke-width="2.9" stroke-linecap="round" stroke-linejoin="round" /><path d="M929.3,730.0 C928.0,730.9 924.1,733.8 921.3,735.5 C918.5,737.2 915.3,738.9 912.3,740.5 C909.3,742.1 906.5,743.2 903.3,745.0 C900.1,746.8 895.0,750.0 893.3,751.0" fill="none" stroke="#000" stroke-width="3.0" stroke-linecap="round" stroke-linejoin="round" /><path d="M987.6,661.8 C987.1,663.3 985.7,667.8 984.4,670.7 C983.1,673.6 981.5,676.4 979.8,679.4 C978.2,682.4 976.3,686.0 974.5,689.0 C972.7,692.0 970.8,694.8 968.8,697.6 C966.9,700.4 964.9,703.1 962.8,705.7 C960.8,708.3 958.8,710.8 956.5,713.3 C954.2,715.8 951.7,718.5 949.3,720.9 C946.9,723.3 944.7,725.3 942.1,727.5 C939.5,729.7 936.7,731.9 934.0,733.9 C931.3,735.9 928.7,737.6 925.8,739.4 C922.9,741.2 919.8,742.9 916.8,744.5 C913.8,746.1 911.0,747.1 907.8,749.0 C904.7,750.9 899.5,754.7 897.9,755.8" fill="none" stroke="#000" stroke-width="2.0" stroke-linecap="round" stroke-linejoin="round" /><path d="M970.9,722.0 C969.4,723.7 966.2,728.7 962.1,732.0 C958.0,735.3 952.8,738.5 946.1,742.0 C939.4,745.5 928.9,749.8 922.1,753.0 C915.3,756.2 909.1,759.0 905.1,761.0 C901.1,763.0 900.4,763.6 898.1,765.0 C895.8,766.4 892.3,768.5 891.1,769.2" fill="none" stroke="#000" stroke-width="2.0" stroke-linecap="round" stroke-linejoin="round" /><path d="M954.8,707.2 L958.9,709.0" fill="none" stroke="#000" stroke-width="1.5" stroke-linecap="round" stroke-linejoin="round" /><path d="M918.6,738.0 L922.4,740.0" fill="none" stroke="#000" stroke-width="1.5" stroke-linecap="round" stroke-linejoin="round" /><path d="M892.6,756.0 L885.3,767.0 L890.6,769.5 L898.1,761.0 Z" fill="#fff" stroke="#000" stroke-width="2.0" stroke-linecap="round" stroke-linejoin="round" /><path d="M887.1,749.0 L894.1,755.0" fill="none" stroke="#000" stroke-width="2.2" stroke-linecap="round" stroke-linejoin="round" /><path d="M991.6,665.0 L992.6,668.4 L999.8,672.4" fill="none" stroke="#000" stroke-width="2.0" stroke-linecap="round" stroke-linejoin="round" />
<path d="M1000.4,673.5 C999.9,674.9 998.4,679.2 997.2,682.0 C995.9,684.8 994.4,687.2 992.9,690.0 C991.4,692.8 989.6,696.2 987.9,699.0 C986.1,701.8 984.2,704.4 982.4,707.0 C980.6,709.6 978.8,712.0 976.9,714.5 C975.0,717.0 973.1,719.6 970.9,722.0 C968.7,724.4 966.2,726.8 963.9,729.0 C961.6,731.2 959.4,733.4 956.9,735.5 C954.4,737.6 951.6,739.6 948.9,741.5 C946.2,743.4 943.7,745.2 940.9,747.0 C938.1,748.8 934.9,750.4 931.9,752.0 C928.9,753.6 926.1,754.8 922.9,756.5 C919.7,758.2 914.6,761.5 912.9,762.5 L911.9,767.0 L904.6,778.0 L909.9,780.5 L910.4,780.2 C911.6,779.5 915.1,777.4 917.4,776.0 C919.7,774.6 920.4,774.0 924.4,772.0 C928.4,770.0 934.6,767.2 941.4,764.0 C948.2,760.8 958.7,756.5 965.4,753.0 C972.1,749.5 977.3,746.3 981.4,743.0 C985.5,739.7 987.7,735.9 990.2,733.0 C992.7,730.1 994.3,728.0 996.2,725.5 C998.1,723.0 999.9,720.6 1001.7,718.0 C1003.5,715.4 1005.5,712.8 1007.2,710.0 C1009.0,707.2 1010.7,703.8 1012.2,701.0 C1013.8,698.2 1015.2,695.8 1016.5,693.0 C1017.8,690.2 1019.2,685.9 1019.7,684.5 Z" fill="#fff" stroke="none" stroke-width="0" stroke-linecap="round" stroke-linejoin="round" /><path d="M959.4,730.8 C958.2,730.1 954.1,727.7 952.4,726.8 C950.7,725.9 950.0,725.4 949.1,725.6 C948.2,725.8 947.9,727.1 947.3,728.2 C946.7,729.3 946.1,730.9 945.7,732.0 C945.3,733.1 944.6,734.1 944.9,734.8 C945.2,735.5 946.2,735.7 947.4,736.4 C948.6,737.1 951.3,738.5 952.1,738.9" fill="#fff" stroke="#000" stroke-width="2.2" stroke-linecap="round" stroke-linejoin="round" /><path d="M1000.4,673.5 C999.9,674.9 998.4,679.2 997.2,682.0 C995.9,684.8 994.4,687.2 992.9,690.0 C991.4,692.8 989.6,696.2 987.9,699.0 C986.1,701.8 984.2,704.4 982.4,707.0 C980.6,709.6 978.8,712.0 976.9,714.5 C975.0,717.0 973.1,719.6 970.9,722.0 C968.7,724.4 966.2,726.8 963.9,729.0 C961.6,731.2 959.4,733.4 956.9,735.5 C954.4,737.6 951.6,739.6 948.9,741.5 C946.2,743.4 943.7,745.2 940.9,747.0 C938.1,748.8 934.9,750.4 931.9,752.0 C928.9,753.6 926.1,754.8 922.9,756.5 C919.7,758.2 914.6,761.5 912.9,762.5" fill="none" stroke="#000" stroke-width="2.9" stroke-linecap="round" stroke-linejoin="round" /><path d="M948.6,741.0 C947.3,741.9 943.4,744.8 940.6,746.5 C937.8,748.2 934.6,749.9 931.6,751.5 C928.6,753.1 925.8,754.2 922.6,756.0 C919.4,757.8 914.3,761.0 912.6,762.0" fill="none" stroke="#000" stroke-width="3.0" stroke-linecap="round" stroke-linejoin="round" /><path d="M1006.9,672.8 C1006.4,674.3 1005.0,678.8 1003.7,681.7 C1002.4,684.6 1000.8,687.4 999.1,690.4 C997.5,693.4 995.6,697.0 993.8,700.0 C992.0,703.0 990.0,705.8 988.1,708.6 C986.2,711.4 984.2,714.1 982.1,716.7 C980.0,719.3 978.0,721.8 975.8,724.3 C973.5,726.8 971.0,729.5 968.6,731.9 C966.2,734.3 964.0,736.3 961.4,738.5 C958.8,740.7 956.0,742.9 953.3,744.9 C950.6,746.9 948.0,748.6 945.1,750.4 C942.2,752.2 939.1,753.9 936.1,755.5 C933.1,757.1 930.2,758.1 927.1,760.0 C924.0,761.9 918.8,765.7 917.2,766.8" fill="none" stroke="#000" stroke-width="2.0" stroke-linecap="round" stroke-linejoin="round" /><path d="M990.2,733.0 C988.7,734.7 985.5,739.7 981.4,743.0 C977.3,746.3 972.1,749.5 965.4,753.0 C958.7,756.5 948.2,760.8 941.4,764.0 C934.6,767.2 928.4,770.0 924.4,772.0 C920.4,774.0 919.7,774.6 917.4,776.0 C915.1,777.4 911.6,779.5 910.4,780.2" fill="none" stroke="#000" stroke-width="2.0" stroke-linecap="round" stroke-linejoin="round" /><path d="M974.1,718.2 L978.2,720.0" fill="none" stroke="#000" stroke-width="1.5" stroke-linecap="round" stroke-linejoin="round" /><path d="M937.9,749.0 L941.7,751.0" fill="none" stroke="#000" stroke-width="1.5" stroke-linecap="round" stroke-linejoin="round" /><path d="M911.9,767.0 L904.6,778.0 L909.9,780.5 L917.4,772.0 Z" fill="#fff" stroke="#000" stroke-width="2.0" stroke-linecap="round" stroke-linejoin="round" /><path d="M906.4,760.0 L913.4,766.0" fill="none" stroke="#000" stroke-width="2.2" stroke-linecap="round" stroke-linejoin="round" /><path d="M1010.9,676.0 L1011.9,679.4 L1019.1,683.4" fill="none" stroke="#000" stroke-width="2.0" stroke-linecap="round" stroke-linejoin="round" />
<path d="M1019.7,684.5 C1019.2,685.9 1017.8,690.2 1016.5,693.0 C1015.2,695.8 1013.8,698.2 1012.2,701.0 C1010.7,703.8 1009.0,707.2 1007.2,710.0 C1005.5,712.8 1003.5,715.4 1001.7,718.0 C999.9,720.6 998.1,723.0 996.2,725.5 C994.3,728.0 992.4,730.6 990.2,733.0 C988.0,735.4 985.5,737.8 983.2,740.0 C980.9,742.2 978.7,744.4 976.2,746.5 C973.7,748.6 970.9,750.6 968.2,752.5 C965.5,754.4 963.0,756.2 960.2,758.0 C957.4,759.8 954.2,761.4 951.2,763.0 C948.2,764.6 945.4,765.8 942.2,767.5 C939.0,769.2 933.9,772.5 932.2,773.5 L931.2,778.0 L923.9,789.0 L929.2,791.5 L929.7,791.2 C930.9,790.5 934.4,788.4 936.7,787.0 C939.0,785.6 939.7,785.0 943.7,783.0 C947.7,781.0 953.9,778.2 960.7,775.0 C967.5,771.8 978.0,767.5 984.7,764.0 C991.4,760.5 996.6,757.3 1000.7,754.0 C1004.8,750.7 1007.0,746.9 1009.5,744.0 C1012.0,741.1 1013.6,739.0 1015.5,736.5 C1017.4,734.0 1019.2,731.6 1021.0,729.0 C1022.8,726.4 1024.8,723.8 1026.5,721.0 C1028.2,718.2 1030.0,714.8 1031.5,712.0 C1033.0,709.2 1034.5,706.8 1035.8,704.0 C1037.0,701.2 1038.5,696.9 1039.0,695.5 Z" fill="#fff" stroke="none" stroke-width="0" stroke-linecap="round" stroke-linejoin="round" /><path d="M978.7,741.8 C977.5,741.1 973.4,738.7 971.7,737.8 C970.0,736.9 969.3,736.4 968.4,736.6 C967.6,736.8 967.2,738.1 966.6,739.2 C966.0,740.3 965.4,741.9 965.0,743.0 C964.6,744.1 963.9,745.1 964.2,745.8 C964.5,746.5 965.5,746.7 966.7,747.4 C967.9,748.1 970.6,749.5 971.4,749.9" fill="#fff" stroke="#000" stroke-width="2.2" stroke-linecap="round" stroke-linejoin="round" /><path d="M1019.7,684.5 C1019.2,685.9 1017.8,690.2 1016.5,693.0 C1015.2,695.8 1013.8,698.2 1012.2,701.0 C1010.7,703.8 1009.0,707.2 1007.2,710.0 C1005.5,712.8 1003.5,715.4 1001.7,718.0 C999.9,720.6 998.1,723.0 996.2,725.5 C994.3,728.0 992.4,730.6 990.2,733.0 C988.0,735.4 985.5,737.8 983.2,740.0 C980.9,742.2 978.7,744.4 976.2,746.5 C973.7,748.6 970.9,750.6 968.2,752.5 C965.5,754.4 963.0,756.2 960.2,758.0 C957.4,759.8 954.2,761.4 951.2,763.0 C948.2,764.6 945.4,765.8 942.2,767.5 C939.0,769.2 933.9,772.5 932.2,773.5" fill="none" stroke="#000" stroke-width="2.9" stroke-linecap="round" stroke-linejoin="round" /><path d="M967.9,752.0 C966.6,752.9 962.7,755.8 959.9,757.5 C957.1,759.2 953.9,760.9 950.9,762.5 C947.9,764.1 945.1,765.2 941.9,767.0 C938.7,768.8 933.6,772.0 931.9,773.0" fill="none" stroke="#000" stroke-width="3.0" stroke-linecap="round" stroke-linejoin="round" /><path d="M1026.2,683.8 C1025.7,685.3 1024.3,689.8 1023.0,692.7 C1021.7,695.6 1020.1,698.4 1018.4,701.4 C1016.8,704.4 1014.9,708.0 1013.1,711.0 C1011.3,714.0 1009.4,716.8 1007.4,719.6 C1005.5,722.4 1003.5,725.1 1001.4,727.7 C999.4,730.3 997.4,732.8 995.1,735.3 C992.9,737.8 990.3,740.5 987.9,742.9 C985.5,745.3 983.2,747.3 980.7,749.5 C978.2,751.7 975.3,753.9 972.6,755.9 C969.9,757.9 967.3,759.6 964.4,761.4 C961.5,763.2 958.4,764.9 955.4,766.5 C952.4,768.1 949.6,769.1 946.4,771.0 C943.3,772.9 938.1,776.7 936.5,777.8" fill="none" stroke="#000" stroke-width="2.0" stroke-linecap="round" stroke-linejoin="round" /><path d="M1009.5,744.0 C1008.0,745.7 1004.8,750.7 1000.7,754.0 C996.6,757.3 991.4,760.5 984.7,764.0 C978.0,767.5 967.5,771.8 960.7,775.0 C953.9,778.2 947.7,781.0 943.7,783.0 C939.7,785.0 939.0,785.6 936.7,787.0 C934.4,788.4 930.9,790.5 929.7,791.2" fill="none" stroke="#000" stroke-width="2.0" stroke-linecap="round" stroke-linejoin="round" /><path d="M993.4,729.2 L997.5,731.0" fill="none" stroke="#000" stroke-width="1.5" stroke-linecap="round" stroke-linejoin="round" /><path d="M957.2,760.0 L961.0,762.0" fill="none" stroke="#000" stroke-width="1.5" stroke-linecap="round" stroke-linejoin="round" /><path d="M931.2,778.0 L923.9,789.0 L929.2,791.5 L936.7,783.0 Z" fill="#fff" stroke="#000" stroke-width="2.0" stroke-linecap="round" stroke-linejoin="round" /><path d="M925.7,771.0 L932.7,777.0" fill="none" stroke="#000" stroke-width="2.2" stroke-linecap="round" stroke-linejoin="round" /><path d="M1030.2,687.0 L1031.2,690.4 L1038.4,694.4" fill="none" stroke="#000" stroke-width="2.0" stroke-linecap="round" stroke-linejoin="round" />
<path d="M1039.0,695.5 C1038.5,696.9 1037.0,701.2 1035.8,704.0 C1034.5,706.8 1033.0,709.2 1031.5,712.0 C1030.0,714.8 1028.2,718.2 1026.5,721.0 C1024.8,723.8 1022.8,726.4 1021.0,729.0 C1019.2,731.6 1017.4,734.0 1015.5,736.5 C1013.6,739.0 1011.7,741.6 1009.5,744.0 C1007.3,746.4 1004.8,748.8 1002.5,751.0 C1000.2,753.2 998.0,755.4 995.5,757.5 C993.0,759.6 990.2,761.6 987.5,763.5 C984.8,765.4 982.3,767.2 979.5,769.0 C976.7,770.8 973.5,772.4 970.5,774.0 C967.5,775.6 964.7,776.8 961.5,778.5 C958.3,780.2 953.2,783.5 951.5,784.5 L950.5,789.0 L943.2,800.0 L948.5,802.5 L949.0,802.2 C950.2,801.5 953.7,799.4 956.0,798.0 C958.3,796.6 959.0,796.0 963.0,794.0 C967.0,792.0 973.2,789.2 980.0,786.0 C986.8,782.8 997.3,778.5 1004.0,775.0 C1010.7,771.5 1015.9,768.3 1020.0,765.0 C1024.1,761.7 1026.3,757.9 1028.8,755.0 C1031.3,752.1 1032.9,750.0 1034.8,747.5 C1036.7,745.0 1038.5,742.6 1040.3,740.0 C1042.1,737.4 1044.0,734.8 1045.8,732.0 C1047.5,729.2 1049.2,725.8 1050.8,723.0 C1052.3,720.2 1053.8,717.8 1055.1,715.0 C1056.3,712.2 1057.8,707.9 1058.3,706.5 Z" fill="#fff" stroke="none" stroke-width="0" stroke-linecap="round" stroke-linejoin="round" /><path d="M998.0,752.8 C996.8,752.1 992.7,749.7 991.0,748.8 C989.3,747.9 988.6,747.4 987.7,747.6 C986.9,747.8 986.5,749.1 985.9,750.2 C985.3,751.3 984.7,752.9 984.3,754.0 C983.9,755.1 983.2,756.1 983.5,756.8 C983.8,757.5 984.8,757.7 986.0,758.4 C987.2,759.1 989.9,760.5 990.7,760.9" fill="#fff" stroke="#000" stroke-width="2.2" stroke-linecap="round" stroke-linejoin="round" /><path d="M1039.0,695.5 C1038.5,696.9 1037.0,701.2 1035.8,704.0 C1034.5,706.8 1033.0,709.2 1031.5,712.0 C1030.0,714.8 1028.2,718.2 1026.5,721.0 C1024.8,723.8 1022.8,726.4 1021.0,729.0 C1019.2,731.6 1017.4,734.0 1015.5,736.5 C1013.6,739.0 1011.7,741.6 1009.5,744.0 C1007.3,746.4 1004.8,748.8 1002.5,751.0 C1000.2,753.2 998.0,755.4 995.5,757.5 C993.0,759.6 990.2,761.6 987.5,763.5 C984.8,765.4 982.3,767.2 979.5,769.0 C976.7,770.8 973.5,772.4 970.5,774.0 C967.5,775.6 964.7,776.8 961.5,778.5 C958.3,780.2 953.2,783.5 951.5,784.5" fill="none" stroke="#000" stroke-width="2.9" stroke-linecap="round" stroke-linejoin="round" /><path d="M987.2,763.0 C985.9,763.9 982.0,766.8 979.2,768.5 C976.4,770.2 973.2,771.9 970.2,773.5 C967.2,775.1 964.4,776.2 961.2,778.0 C958.0,779.8 952.9,783.0 951.2,784.0" fill="none" stroke="#000" stroke-width="3.0" stroke-linecap="round" stroke-linejoin="round" /><path d="M1045.5,694.8 C1045.0,696.3 1043.6,700.8 1042.3,703.7 C1041.0,706.6 1039.3,709.4 1037.7,712.4 C1036.1,715.4 1034.2,719.0 1032.4,722.0 C1030.6,725.0 1028.7,727.8 1026.7,730.6 C1024.8,733.4 1022.8,736.1 1020.7,738.7 C1018.7,741.3 1016.6,743.8 1014.4,746.3 C1012.1,748.8 1009.6,751.5 1007.2,753.9 C1004.8,756.3 1002.5,758.3 1000.0,760.5 C997.5,762.7 994.6,764.9 991.9,766.9 C989.2,768.9 986.6,770.6 983.7,772.4 C980.8,774.2 977.7,775.9 974.7,777.5 C971.7,779.1 968.9,780.1 965.7,782.0 C962.6,783.9 957.4,787.7 955.8,788.8" fill="none" stroke="#000" stroke-width="2.0" stroke-linecap="round" stroke-linejoin="round" /><path d="M1028.8,755.0 C1027.3,756.7 1024.1,761.7 1020.0,765.0 C1015.9,768.3 1010.7,771.5 1004.0,775.0 C997.3,778.5 986.8,782.8 980.0,786.0 C973.2,789.2 967.0,792.0 963.0,794.0 C959.0,796.0 958.3,796.6 956.0,798.0 C953.7,799.4 950.2,801.5 949.0,802.2" fill="none" stroke="#000" stroke-width="2.0" stroke-linecap="round" stroke-linejoin="round" /><path d="M1012.7,740.2 L1016.8,742.0" fill="none" stroke="#000" stroke-width="1.5" stroke-linecap="round" stroke-linejoin="round" /><path d="M976.5,771.0 L980.3,773.0" fill="none" stroke="#000" stroke-width="1.5" stroke-linecap="round" stroke-linejoin="round" /><path d="M950.5,789.0 L943.2,800.0 L948.5,802.5 L956.0,794.0 Z" fill="#fff" stroke="#000" stroke-width="2.0" stroke-linecap="round" stroke-linejoin="round" /><path d="M945.0,782.0 L952.0,788.0" fill="none" stroke="#000" stroke-width="2.2" stroke-linecap="round" stroke-linejoin="round" /><path d="M1049.5,698.0 L1050.5,701.4 L1057.7,705.4" fill="none" stroke="#000" stroke-width="2.0" stroke-linecap="round" stroke-linejoin="round" />
<path d="M1058.3,706.5 C1057.8,707.9 1056.3,712.2 1055.1,715.0 C1053.8,717.8 1052.3,720.2 1050.8,723.0 C1049.2,725.8 1047.5,729.2 1045.8,732.0 C1044.0,734.8 1042.1,737.4 1040.3,740.0 C1038.5,742.6 1036.7,745.0 1034.8,747.5 C1032.9,750.0 1031.0,752.6 1028.8,755.0 C1026.6,757.4 1024.1,759.8 1021.8,762.0 C1019.5,764.2 1017.3,766.4 1014.8,768.5 C1012.3,770.6 1009.5,772.6 1006.8,774.5 C1004.1,776.4 1001.6,778.2 998.8,780.0 C996.0,781.8 992.8,783.4 989.8,785.0 C986.8,786.6 984.0,787.8 980.8,789.5 C977.6,791.2 972.5,794.5 970.8,795.5 L969.8,800.0 L962.5,811.0 L967.8,813.5 L968.3,813.2 C969.5,812.5 973.0,810.4 975.3,809.0 C977.6,807.6 978.3,807.0 982.3,805.0 C986.3,803.0 992.5,800.2 999.3,797.0 C1006.1,793.8 1016.6,789.5 1023.3,786.0 C1030.0,782.5 1035.2,779.3 1039.3,776.0 C1043.4,772.7 1045.6,768.9 1048.1,766.0 C1050.6,763.1 1052.2,761.0 1054.1,758.5 C1056.0,756.0 1057.8,753.6 1059.6,751.0 C1061.4,748.4 1063.3,745.8 1065.1,743.0 C1066.8,740.2 1068.5,736.8 1070.1,734.0 C1071.6,731.2 1073.1,728.8 1074.4,726.0 C1075.6,723.2 1077.1,718.9 1077.6,717.5 Z" fill="#fff" stroke="none" stroke-width="0" stroke-linecap="round" stroke-linejoin="round" /><path d="M1017.3,763.8 C1016.1,763.1 1012.0,760.7 1010.3,759.8 C1008.6,758.9 1007.9,758.4 1007.0,758.6 C1006.1,758.8 1005.8,760.1 1005.2,761.2 C1004.6,762.3 1004.0,763.9 1003.6,765.0 C1003.2,766.1 1002.5,767.1 1002.8,767.8 C1003.1,768.5 1004.1,768.7 1005.3,769.4 C1006.5,770.1 1009.2,771.5 1010.0,771.9" fill="#fff" stroke="#000" stroke-width="2.2" stroke-linecap="round" stroke-linejoin="round" /><path d="M1058.3,706.5 C1057.8,707.9 1056.3,712.2 1055.1,715.0 C1053.8,717.8 1052.3,720.2 1050.8,723.0 C1049.2,725.8 1047.5,729.2 1045.8,732.0 C1044.0,734.8 1042.1,737.4 1040.3,740.0 C1038.5,742.6 1036.7,745.0 1034.8,747.5 C1032.9,750.0 1031.0,752.6 1028.8,755.0 C1026.6,757.4 1024.1,759.8 1021.8,762.0 C1019.5,764.2 1017.3,766.4 1014.8,768.5 C1012.3,770.6 1009.5,772.6 1006.8,774.5 C1004.1,776.4 1001.6,778.2 998.8,780.0 C996.0,781.8 992.8,783.4 989.8,785.0 C986.8,786.6 984.0,787.8 980.8,789.5 C977.6,791.2 972.5,794.5 970.8,795.5" fill="none" stroke="#000" stroke-width="2.9" stroke-linecap="round" stroke-linejoin="round" /><path d="M1006.5,774.0 C1005.2,774.9 1001.3,777.8 998.5,779.5 C995.7,781.2 992.5,782.9 989.5,784.5 C986.5,786.1 983.7,787.2 980.5,789.0 C977.3,790.8 972.2,794.0 970.5,795.0" fill="none" stroke="#000" stroke-width="3.0" stroke-linecap="round" stroke-linejoin="round" /><path d="M1064.8,705.8 C1064.3,707.3 1062.9,711.8 1061.6,714.7 C1060.3,717.6 1058.7,720.4 1057.0,723.4 C1055.3,726.4 1053.5,730.0 1051.7,733.0 C1049.9,736.0 1048.0,738.8 1046.0,741.6 C1044.0,744.4 1042.0,747.1 1040.0,749.7 C1038.0,752.3 1036.0,754.8 1033.7,757.3 C1031.5,759.8 1028.9,762.5 1026.5,764.9 C1024.1,767.3 1021.8,769.3 1019.3,771.5 C1016.8,773.7 1013.9,775.9 1011.2,777.9 C1008.5,779.9 1005.9,781.6 1003.0,783.4 C1000.1,785.2 997.0,786.9 994.0,788.5 C991.0,790.1 988.1,791.1 985.0,793.0 C981.9,794.9 976.7,798.7 975.1,799.8" fill="none" stroke="#000" stroke-width="2.0" stroke-linecap="round" stroke-linejoin="round" /><path d="M1048.1,766.0 C1046.6,767.7 1043.4,772.7 1039.3,776.0 C1035.2,779.3 1030.0,782.5 1023.3,786.0 C1016.6,789.5 1006.1,793.8 999.3,797.0 C992.5,800.2 986.3,803.0 982.3,805.0 C978.3,807.0 977.6,807.6 975.3,809.0 C973.0,810.4 969.5,812.5 968.3,813.2" fill="none" stroke="#000" stroke-width="2.0" stroke-linecap="round" stroke-linejoin="round" /><path d="M1032.0,751.2 L1036.1,753.0" fill="none" stroke="#000" stroke-width="1.5" stroke-linecap="round" stroke-linejoin="round" /><path d="M995.8,782.0 L999.6,784.0" fill="none" stroke="#000" stroke-width="1.5" stroke-linecap="round" stroke-linejoin="round" /><path d="M969.8,800.0 L962.5,811.0 L967.8,813.5 L975.3,805.0 Z" fill="#fff" stroke="#000" stroke-width="2.0" stroke-linecap="round" stroke-linejoin="round" /><path d="M964.3,793.0 L971.3,799.0" fill="none" stroke="#000" stroke-width="2.2" stroke-linecap="round" stroke-linejoin="round" /><path d="M1068.8,709.0 L1069.8,712.4 L1077.0,716.4" fill="none" stroke="#000" stroke-width="2.0" stroke-linecap="round" stroke-linejoin="round" />
<path d="M1077.6,717.5 C1077.1,718.9 1075.6,723.2 1074.4,726.0 C1073.1,728.8 1071.6,731.2 1070.1,734.0 C1068.5,736.8 1066.8,740.2 1065.1,743.0 C1063.3,745.8 1061.4,748.4 1059.6,751.0 C1057.8,753.6 1056.0,756.0 1054.1,758.5 C1052.2,761.0 1050.3,763.6 1048.1,766.0 C1045.9,768.4 1043.4,770.8 1041.1,773.0 C1038.8,775.2 1036.6,777.4 1034.1,779.5 C1031.6,781.6 1028.8,783.6 1026.1,785.5 C1023.4,787.4 1020.9,789.2 1018.1,791.0 C1015.3,792.8 1012.1,794.4 1009.1,796.0 C1006.1,797.6 1003.3,798.8 1000.1,800.5 C996.9,802.2 991.8,805.5 990.1,806.5 L989.1,811.0 L981.8,822.0 L987.1,824.5 L987.6,824.2 C988.8,823.5 992.3,821.4 994.6,820.0 C996.9,818.6 997.6,818.0 1001.6,816.0 C1005.6,814.0 1011.8,811.2 1018.6,808.0 C1025.4,804.8 1035.9,800.5 1042.6,797.0 C1049.3,793.5 1054.5,790.3 1058.6,787.0 C1062.7,783.7 1064.9,779.9 1067.4,777.0 C1069.9,774.1 1071.5,772.0 1073.4,769.5 C1075.3,767.0 1077.1,764.6 1078.9,762.0 C1080.7,759.4 1082.7,756.8 1084.4,754.0 C1086.2,751.2 1087.9,747.8 1089.4,745.0 C1091.0,742.2 1092.5,739.8 1093.7,737.0 C1095.0,734.2 1096.4,729.9 1096.9,728.5 Z" fill="#fff" stroke="none" stroke-width="0" stroke-linecap="round" stroke-linejoin="round" /><path d="M1036.6,774.8 C1035.4,774.1 1031.3,771.7 1029.6,770.8 C1027.9,769.9 1027.1,769.4 1026.3,769.6 C1025.5,769.8 1025.1,771.1 1024.5,772.2 C1023.9,773.3 1023.3,774.9 1022.9,776.0 C1022.5,777.1 1021.8,778.1 1022.1,778.8 C1022.4,779.5 1023.4,779.7 1024.6,780.4 C1025.8,781.1 1028.5,782.5 1029.3,782.9" fill="#fff" stroke="#000" stroke-width="2.2" stroke-linecap="round" stroke-linejoin="round" /><path d="M1077.6,717.5 C1077.1,718.9 1075.6,723.2 1074.4,726.0 C1073.1,728.8 1071.6,731.2 1070.1,734.0 C1068.5,736.8 1066.8,740.2 1065.1,743.0 C1063.3,745.8 1061.4,748.4 1059.6,751.0 C1057.8,753.6 1056.0,756.0 1054.1,758.5 C1052.2,761.0 1050.3,763.6 1048.1,766.0 C1045.9,768.4 1043.4,770.8 1041.1,773.0 C1038.8,775.2 1036.6,777.4 1034.1,779.5 C1031.6,781.6 1028.8,783.6 1026.1,785.5 C1023.4,787.4 1020.9,789.2 1018.1,791.0 C1015.3,792.8 1012.1,794.4 1009.1,796.0 C1006.1,797.6 1003.3,798.8 1000.1,800.5 C996.9,802.2 991.8,805.5 990.1,806.5" fill="none" stroke="#000" stroke-width="2.9" stroke-linecap="round" stroke-linejoin="round" /><path d="M1025.8,785.0 C1024.5,785.9 1020.6,788.8 1017.8,790.5 C1015.0,792.2 1011.8,793.9 1008.8,795.5 C1005.8,797.1 1003.0,798.2 999.8,800.0 C996.6,801.8 991.5,805.0 989.8,806.0" fill="none" stroke="#000" stroke-width="3.0" stroke-linecap="round" stroke-linejoin="round" /><path d="M1084.1,716.8 C1083.6,718.3 1082.2,722.8 1080.9,725.7 C1079.6,728.6 1077.9,731.4 1076.3,734.4 C1074.7,737.4 1072.8,741.0 1071.0,744.0 C1069.2,747.0 1067.2,749.8 1065.3,752.6 C1063.3,755.4 1061.3,758.1 1059.3,760.7 C1057.2,763.3 1055.2,765.8 1053.0,768.3 C1050.8,770.8 1048.2,773.5 1045.8,775.9 C1043.4,778.3 1041.1,780.3 1038.6,782.5 C1036.0,784.7 1033.2,786.9 1030.5,788.9 C1027.8,790.9 1025.2,792.6 1022.3,794.4 C1019.4,796.2 1016.3,797.9 1013.3,799.5 C1010.3,801.1 1007.5,802.1 1004.3,804.0 C1001.2,805.9 996.0,809.7 994.4,810.8" fill="none" stroke="#000" stroke-width="2.0" stroke-linecap="round" stroke-linejoin="round" /><path d="M1067.4,777.0 C1065.9,778.7 1062.7,783.7 1058.6,787.0 C1054.5,790.3 1049.3,793.5 1042.6,797.0 C1035.9,800.5 1025.4,804.8 1018.6,808.0 C1011.8,811.2 1005.6,814.0 1001.6,816.0 C997.6,818.0 996.9,818.6 994.6,820.0 C992.3,821.4 988.8,823.5 987.6,824.2" fill="none" stroke="#000" stroke-width="2.0" stroke-linecap="round" stroke-linejoin="round" /><path d="M1051.3,762.2 L1055.4,764.0" fill="none" stroke="#000" stroke-width="1.5" stroke-linecap="round" stroke-linejoin="round" /><path d="M1015.1,793.0 L1018.9,795.0" fill="none" stroke="#000" stroke-width="1.5" stroke-linecap="round" stroke-linejoin="round" /><path d="M989.1,811.0 L981.8,822.0 L987.1,824.5 L994.6,816.0 Z" fill="#fff" stroke="#000" stroke-width="2.0" stroke-linecap="round" stroke-linejoin="round" /><path d="M983.6,804.0 L990.6,810.0" fill="none" stroke="#000" stroke-width="2.2" stroke-linecap="round" stroke-linejoin="round" /><path d="M1088.1,720.0 L1089.1,723.4 L1096.3,727.4" fill="none" stroke="#000" stroke-width="2.0" stroke-linecap="round" stroke-linejoin="round" />
<path d="M1096.9,728.5 C1096.4,729.9 1095.0,734.2 1093.7,737.0 C1092.5,739.8 1091.0,742.2 1089.4,745.0 C1087.9,747.8 1086.2,751.2 1084.4,754.0 C1082.7,756.8 1080.7,759.4 1078.9,762.0 C1077.1,764.6 1075.3,767.0 1073.4,769.5 C1071.5,772.0 1069.6,774.6 1067.4,777.0 C1065.2,779.4 1062.7,781.8 1060.4,784.0 C1058.1,786.2 1055.9,788.4 1053.4,790.5 C1050.9,792.6 1048.1,794.6 1045.4,796.5 C1042.7,798.4 1040.2,800.2 1037.4,802.0 C1034.6,803.8 1031.4,805.4 1028.4,807.0 C1025.4,808.6 1022.6,809.8 1019.4,811.5 C1016.2,813.2 1011.1,816.5 1009.4,817.5 L1008.4,822.0 L1001.1,833.0 L1006.4,835.5 L1006.9,835.2 C1008.1,834.5 1011.6,832.4 1013.9,831.0 C1016.2,829.6 1016.9,829.0 1020.9,827.0 C1024.9,825.0 1031.1,822.2 1037.9,819.0 C1044.7,815.8 1055.2,811.5 1061.9,808.0 C1068.6,804.5 1073.8,801.3 1077.9,798.0 C1082.0,794.7 1084.2,790.9 1086.7,788.0 C1089.2,785.1 1090.8,783.0 1092.7,780.5 C1094.6,778.0 1096.4,775.6 1098.2,773.0 C1100.0,770.4 1102.0,767.8 1103.7,765.0 C1105.5,762.2 1107.2,758.8 1108.7,756.0 C1110.2,753.2 1111.8,750.8 1113.0,748.0 C1114.2,745.2 1115.7,740.9 1116.2,739.5 Z" fill="#fff" stroke="none" stroke-width="0" stroke-linecap="round" stroke-linejoin="round" /><path d="M1055.9,785.8 C1054.7,785.1 1050.6,782.7 1048.9,781.8 C1047.2,780.9 1046.5,780.4 1045.6,780.6 C1044.8,780.8 1044.4,782.1 1043.8,783.2 C1043.2,784.3 1042.6,785.9 1042.2,787.0 C1041.8,788.1 1041.1,789.1 1041.4,789.8 C1041.7,790.5 1042.7,790.7 1043.9,791.4 C1045.1,792.1 1047.8,793.5 1048.6,793.9" fill="#fff" stroke="#000" stroke-width="2.2" stroke-linecap="round" stroke-linejoin="round" /><path d="M1096.9,728.5 C1096.4,729.9 1095.0,734.2 1093.7,737.0 C1092.5,739.8 1091.0,742.2 1089.4,745.0 C1087.9,747.8 1086.2,751.2 1084.4,754.0 C1082.7,756.8 1080.7,759.4 1078.9,762.0 C1077.1,764.6 1075.3,767.0 1073.4,769.5 C1071.5,772.0 1069.6,774.6 1067.4,777.0 C1065.2,779.4 1062.7,781.8 1060.4,784.0 C1058.1,786.2 1055.9,788.4 1053.4,790.5 C1050.9,792.6 1048.1,794.6 1045.4,796.5 C1042.7,798.4 1040.2,800.2 1037.4,802.0 C1034.6,803.8 1031.4,805.4 1028.4,807.0 C1025.4,808.6 1022.6,809.8 1019.4,811.5 C1016.2,813.2 1011.1,816.5 1009.4,817.5" fill="none" stroke="#000" stroke-width="2.9" stroke-linecap="round" stroke-linejoin="round" /><path d="M1045.1,796.0 C1043.8,796.9 1039.9,799.8 1037.1,801.5 C1034.3,803.2 1031.1,804.9 1028.1,806.5 C1025.1,808.1 1022.3,809.2 1019.1,811.0 C1015.9,812.8 1010.8,816.0 1009.1,817.0" fill="none" stroke="#000" stroke-width="3.0" stroke-linecap="round" stroke-linejoin="round" /><path d="M1103.4,727.8 C1102.9,729.3 1101.5,733.8 1100.2,736.7 C1098.9,739.6 1097.3,742.4 1095.6,745.4 C1094.0,748.4 1092.1,752.0 1090.3,755.0 C1088.5,758.0 1086.6,760.8 1084.6,763.6 C1082.7,766.4 1080.7,769.1 1078.6,771.7 C1076.6,774.3 1074.5,776.8 1072.3,779.3 C1070.0,781.8 1067.5,784.5 1065.1,786.9 C1062.7,789.3 1060.5,791.3 1057.9,793.5 C1055.4,795.7 1052.5,797.9 1049.8,799.9 C1047.1,801.9 1044.5,803.6 1041.6,805.4 C1038.7,807.2 1035.6,808.9 1032.6,810.5 C1029.6,812.1 1026.8,813.1 1023.6,815.0 C1020.5,816.9 1015.3,820.7 1013.7,821.8" fill="none" stroke="#000" stroke-width="2.0" stroke-linecap="round" stroke-linejoin="round" /><path d="M1086.7,788.0 C1085.2,789.7 1082.0,794.7 1077.9,798.0 C1073.8,801.3 1068.6,804.5 1061.9,808.0 C1055.2,811.5 1044.7,815.8 1037.9,819.0 C1031.1,822.2 1024.9,825.0 1020.9,827.0 C1016.9,829.0 1016.2,829.6 1013.9,831.0 C1011.6,832.4 1008.1,834.5 1006.9,835.2" fill="none" stroke="#000" stroke-width="2.0" stroke-linecap="round" stroke-linejoin="round" /><path d="M1070.6,773.2 L1074.7,775.0" fill="none" stroke="#000" stroke-width="1.5" stroke-linecap="round" stroke-linejoin="round" /><path d="M1034.4,804.0 L1038.2,806.0" fill="none" stroke="#000" stroke-width="1.5" stroke-linecap="round" stroke-linejoin="round" /><path d="M1008.4,822.0 L1001.1,833.0 L1006.4,835.5 L1013.9,827.0 Z" fill="#fff" stroke="#000" stroke-width="2.0" stroke-linecap="round" stroke-linejoin="round" /><path d="M1002.9,815.0 L1009.9,821.0" fill="none" stroke="#000" stroke-width="2.2" stroke-linecap="round" stroke-linejoin="round" /><path d="M1107.4,731.0 L1108.4,734.4 L1115.6,738.4" fill="none" stroke="#000" stroke-width="2.0" stroke-linecap="round" stroke-linejoin="round" />
<path d="M1116.2,739.5 C1115.7,740.9 1114.2,745.2 1113.0,748.0 C1111.8,750.8 1110.2,753.2 1108.7,756.0 C1107.2,758.8 1105.5,762.2 1103.7,765.0 C1102.0,767.8 1100.0,770.4 1098.2,773.0 C1096.4,775.6 1094.6,778.0 1092.7,780.5 C1090.8,783.0 1088.9,785.6 1086.7,788.0 C1084.5,790.4 1082.0,792.8 1079.7,795.0 C1077.4,797.2 1075.2,799.4 1072.7,801.5 C1070.2,803.6 1067.4,805.6 1064.7,807.5 C1062.0,809.4 1059.5,811.2 1056.7,813.0 C1053.9,814.8 1050.7,816.4 1047.7,818.0 C1044.7,819.6 1041.9,820.8 1038.7,822.5 C1035.5,824.2 1030.4,827.5 1028.7,828.5 L1027.7,833.0 L1020.4,844.0 L1025.7,846.5 L1026.2,846.2 C1027.4,845.5 1030.9,843.4 1033.2,842.0 C1035.5,840.6 1036.2,840.0 1040.2,838.0 C1044.2,836.0 1050.4,833.2 1057.2,830.0 C1064.0,826.8 1074.5,822.5 1081.2,819.0 C1087.9,815.5 1093.1,812.3 1097.2,809.0 C1101.3,805.7 1103.5,801.9 1106.0,799.0 C1108.5,796.1 1110.1,794.0 1112.0,791.5 C1113.9,789.0 1115.7,786.6 1117.5,784.0 C1119.3,781.4 1121.2,778.8 1123.0,776.0 C1124.8,773.2 1126.5,769.8 1128.0,767.0 C1129.5,764.2 1131.0,761.8 1132.3,759.0 C1133.5,756.2 1135.0,751.9 1135.5,750.5 Z" fill="#fff" stroke="none" stroke-width="0" stroke-linecap="round" stroke-linejoin="round" /><path d="M1075.2,796.8 C1074.0,796.1 1069.9,793.7 1068.2,792.8 C1066.5,791.9 1065.8,791.4 1064.9,791.6 C1064.1,791.8 1063.7,793.1 1063.1,794.2 C1062.5,795.3 1061.9,796.9 1061.5,798.0 C1061.1,799.1 1060.4,800.1 1060.7,800.8 C1061.0,801.5 1062.0,801.7 1063.2,802.4 C1064.4,803.1 1067.1,804.5 1067.9,804.9" fill="#fff" stroke="#000" stroke-width="2.2" stroke-linecap="round" stroke-linejoin="round" /><path d="M1116.2,739.5 C1115.7,740.9 1114.2,745.2 1113.0,748.0 C1111.8,750.8 1110.2,753.2 1108.7,756.0 C1107.2,758.8 1105.5,762.2 1103.7,765.0 C1102.0,767.8 1100.0,770.4 1098.2,773.0 C1096.4,775.6 1094.6,778.0 1092.7,780.5 C1090.8,783.0 1088.9,785.6 1086.7,788.0 C1084.5,790.4 1082.0,792.8 1079.7,795.0 C1077.4,797.2 1075.2,799.4 1072.7,801.5 C1070.2,803.6 1067.4,805.6 1064.7,807.5 C1062.0,809.4 1059.5,811.2 1056.7,813.0 C1053.9,814.8 1050.7,816.4 1047.7,818.0 C1044.7,819.6 1041.9,820.8 1038.7,822.5 C1035.5,824.2 1030.4,827.5 1028.7,828.5" fill="none" stroke="#000" stroke-width="2.9" stroke-linecap="round" stroke-linejoin="round" /><path d="M1064.4,807.0 C1063.1,807.9 1059.2,810.8 1056.4,812.5 C1053.6,814.2 1050.4,815.9 1047.4,817.5 C1044.4,819.1 1041.6,820.2 1038.4,822.0 C1035.2,823.8 1030.1,827.0 1028.4,828.0" fill="none" stroke="#000" stroke-width="3.0" stroke-linecap="round" stroke-linejoin="round" /><path d="M1122.7,738.8 C1122.2,740.3 1120.8,744.8 1119.5,747.7 C1118.2,750.6 1116.6,753.4 1114.9,756.4 C1113.2,759.4 1111.4,763.0 1109.6,766.0 C1107.8,769.0 1105.9,771.8 1103.9,774.6 C1102.0,777.4 1100.0,780.1 1097.9,782.7 C1095.9,785.3 1093.8,787.8 1091.6,790.3 C1089.3,792.8 1086.8,795.5 1084.4,797.9 C1082.0,800.3 1079.8,802.3 1077.2,804.5 C1074.7,806.7 1071.8,808.9 1069.1,810.9 C1066.4,812.9 1063.8,814.6 1060.9,816.4 C1058.0,818.2 1054.9,819.9 1051.9,821.5 C1048.9,823.1 1046.1,824.1 1042.9,826.0 C1039.8,827.9 1034.7,831.7 1033.0,832.8" fill="none" stroke="#000" stroke-width="2.0" stroke-linecap="round" stroke-linejoin="round" /><path d="M1106.0,799.0 C1104.5,800.7 1101.3,805.7 1097.2,809.0 C1093.1,812.3 1087.9,815.5 1081.2,819.0 C1074.5,822.5 1064.0,826.8 1057.2,830.0 C1050.4,833.2 1044.2,836.0 1040.2,838.0 C1036.2,840.0 1035.5,840.6 1033.2,842.0 C1030.9,843.4 1027.4,845.5 1026.2,846.2" fill="none" stroke="#000" stroke-width="2.0" stroke-linecap="round" stroke-linejoin="round" /><path d="M1089.9,784.2 L1094.0,786.0" fill="none" stroke="#000" stroke-width="1.5" stroke-linecap="round" stroke-linejoin="round" /><path d="M1053.7,815.0 L1057.5,817.0" fill="none" stroke="#000" stroke-width="1.5" stroke-linecap="round" stroke-linejoin="round" /><path d="M1027.7,833.0 L1020.4,844.0 L1025.7,846.5 L1033.2,838.0 Z" fill="#fff" stroke="#000" stroke-width="2.0" stroke-linecap="round" stroke-linejoin="round" /><path d="M1022.2,826.0 L1029.2,832.0" fill="none" stroke="#000" stroke-width="2.2" stroke-linecap="round" stroke-linejoin="round" /><path d="M1126.7,742.0 L1127.7,745.4 L1134.9,749.4" fill="none" stroke="#000" stroke-width="2.0" stroke-linecap="round" stroke-linejoin="round" />
<path d="M1135.5,750.5 C1135.0,751.9 1133.5,756.2 1132.3,759.0 C1131.0,761.8 1129.5,764.2 1128.0,767.0 C1126.5,769.8 1124.8,773.2 1123.0,776.0 C1121.2,778.8 1119.3,781.4 1117.5,784.0 C1115.7,786.6 1113.9,789.0 1112.0,791.5 C1110.1,794.0 1108.2,796.6 1106.0,799.0 C1103.8,801.4 1101.3,803.8 1099.0,806.0 C1096.7,808.2 1094.5,810.4 1092.0,812.5 C1089.5,814.6 1086.7,816.6 1084.0,818.5 C1081.3,820.4 1078.8,822.2 1076.0,824.0 C1073.2,825.8 1070.0,827.4 1067.0,829.0 C1064.0,830.6 1061.2,831.8 1058.0,833.5 C1054.8,835.2 1049.7,838.5 1048.0,839.5 L1047.0,844.0 L1039.7,855.0 L1045.0,857.5 L1045.5,857.2 C1046.7,856.5 1050.2,854.4 1052.5,853.0 C1054.8,851.6 1055.5,851.0 1059.5,849.0 C1063.5,847.0 1069.7,844.2 1076.5,841.0 C1083.3,837.8 1093.8,833.5 1100.5,830.0 C1107.2,826.5 1112.4,823.3 1116.5,820.0 C1120.6,816.7 1122.8,812.9 1125.3,810.0 C1127.8,807.1 1129.4,805.0 1131.3,802.5 C1133.2,800.0 1135.0,797.6 1136.8,795.0 C1138.6,792.4 1140.5,789.8 1142.3,787.0 C1144.0,784.2 1145.8,780.8 1147.3,778.0 C1148.8,775.2 1150.3,772.8 1151.6,770.0 C1152.8,767.2 1154.3,762.9 1154.8,761.5 Z" fill="#fff" stroke="none" stroke-width="0" stroke-linecap="round" stroke-linejoin="round" /><path d="M1094.5,807.8 C1093.3,807.1 1089.2,804.7 1087.5,803.8 C1085.8,802.9 1085.0,802.4 1084.2,802.6 C1083.4,802.8 1083.0,804.1 1082.4,805.2 C1081.8,806.3 1081.2,807.9 1080.8,809.0 C1080.4,810.1 1079.7,811.1 1080.0,811.8 C1080.3,812.5 1081.3,812.7 1082.5,813.4 C1083.7,814.1 1086.4,815.5 1087.2,815.9" fill="#fff" stroke="#000" stroke-width="2.2" stroke-linecap="round" stroke-linejoin="round" /><path d="M1135.5,750.5 C1135.0,751.9 1133.5,756.2 1132.3,759.0 C1131.0,761.8 1129.5,764.2 1128.0,767.0 C1126.5,769.8 1124.8,773.2 1123.0,776.0 C1121.2,778.8 1119.3,781.4 1117.5,784.0 C1115.7,786.6 1113.9,789.0 1112.0,791.5 C1110.1,794.0 1108.2,796.6 1106.0,799.0 C1103.8,801.4 1101.3,803.8 1099.0,806.0 C1096.7,808.2 1094.5,810.4 1092.0,812.5 C1089.5,814.6 1086.7,816.6 1084.0,818.5 C1081.3,820.4 1078.8,822.2 1076.0,824.0 C1073.2,825.8 1070.0,827.4 1067.0,829.0 C1064.0,830.6 1061.2,831.8 1058.0,833.5 C1054.8,835.2 1049.7,838.5 1048.0,839.5" fill="none" stroke="#000" stroke-width="2.9" stroke-linecap="round" stroke-linejoin="round" /><path d="M1083.7,818.0 C1082.4,818.9 1078.5,821.8 1075.7,823.5 C1072.9,825.2 1069.7,826.9 1066.7,828.5 C1063.7,830.1 1060.9,831.2 1057.7,833.0 C1054.5,834.8 1049.4,838.0 1047.7,839.0" fill="none" stroke="#000" stroke-width="3.0" stroke-linecap="round" stroke-linejoin="round" /><path d="M1142.0,749.8 C1141.5,751.3 1140.1,755.8 1138.8,758.7 C1137.5,761.6 1135.8,764.4 1134.2,767.4 C1132.6,770.4 1130.7,774.0 1128.9,777.0 C1127.1,780.0 1125.2,782.8 1123.2,785.6 C1121.2,788.4 1119.2,791.1 1117.2,793.7 C1115.2,796.3 1113.2,798.8 1110.9,801.3 C1108.7,803.8 1106.1,806.5 1103.7,808.9 C1101.3,811.3 1099.0,813.3 1096.5,815.5 C1094.0,817.7 1091.1,819.9 1088.4,821.9 C1085.7,823.9 1083.1,825.6 1080.2,827.4 C1077.3,829.2 1074.2,830.9 1071.2,832.5 C1068.2,834.1 1065.4,835.1 1062.2,837.0 C1059.0,838.9 1054.0,842.7 1052.3,843.8" fill="none" stroke="#000" stroke-width="2.0" stroke-linecap="round" stroke-linejoin="round" /><path d="M1125.3,810.0 C1123.8,811.7 1120.6,816.7 1116.5,820.0 C1112.4,823.3 1107.2,826.5 1100.5,830.0 C1093.8,833.5 1083.3,837.8 1076.5,841.0 C1069.7,844.2 1063.5,847.0 1059.5,849.0 C1055.5,851.0 1054.8,851.6 1052.5,853.0 C1050.2,854.4 1046.7,856.5 1045.5,857.2" fill="none" stroke="#000" stroke-width="2.0" stroke-linecap="round" stroke-linejoin="round" /><path d="M1109.2,795.2 L1113.3,797.0" fill="none" stroke="#000" stroke-width="1.5" stroke-linecap="round" stroke-linejoin="round" /><path d="M1073.0,826.0 L1076.8,828.0" fill="none" stroke="#000" stroke-width="1.5" stroke-linecap="round" stroke-linejoin="round" /><path d="M1047.0,844.0 L1039.7,855.0 L1045.0,857.5 L1052.5,849.0 Z" fill="#fff" stroke="#000" stroke-width="2.0" stroke-linecap="round" stroke-linejoin="round" /><path d="M1041.5,837.0 L1048.5,843.0" fill="none" stroke="#000" stroke-width="2.2" stroke-linecap="round" stroke-linejoin="round" /><path d="M1146.0,753.0 L1147.0,756.4 L1154.2,760.4" fill="none" stroke="#000" stroke-width="2.0" stroke-linecap="round" stroke-linejoin="round" />
<path d="M1154.8,761.5 C1154.3,762.9 1152.8,767.2 1151.6,770.0 C1150.3,772.8 1148.8,775.2 1147.3,778.0 C1145.8,780.8 1144.0,784.2 1142.3,787.0 C1140.5,789.8 1138.6,792.4 1136.8,795.0 C1135.0,797.6 1133.2,800.0 1131.3,802.5 C1129.4,805.0 1127.5,807.6 1125.3,810.0 C1123.1,812.4 1120.6,814.8 1118.3,817.0 C1116.0,819.2 1113.8,821.4 1111.3,823.5 C1108.8,825.6 1106.0,827.6 1103.3,829.5 C1100.6,831.4 1098.1,833.2 1095.3,835.0 C1092.5,836.8 1089.3,838.4 1086.3,840.0 C1083.3,841.6 1080.5,842.8 1077.3,844.5 C1074.1,846.2 1069.0,849.5 1067.3,850.5 L1066.3,855.0 L1059.0,866.0 L1064.3,868.5 L1064.8,868.2 C1066.0,867.5 1069.5,865.4 1071.8,864.0 C1074.1,862.6 1074.8,862.0 1078.8,860.0 C1082.8,858.0 1089.0,855.2 1095.8,852.0 C1102.6,848.8 1113.1,844.5 1119.8,841.0 C1126.5,837.5 1131.7,834.3 1135.8,831.0 C1139.9,827.7 1142.1,823.9 1144.6,821.0 C1147.1,818.1 1148.7,816.0 1150.6,813.5 C1152.5,811.0 1154.3,808.6 1156.1,806.0 C1157.9,803.4 1159.8,800.8 1161.6,798.0 C1163.3,795.2 1165.0,791.8 1166.6,789.0 C1168.1,786.2 1169.7,783.8 1170.9,781.0 C1172.2,778.2 1173.6,773.9 1174.1,772.5 Z" fill="#fff" stroke="none" stroke-width="0" stroke-linecap="round" stroke-linejoin="round" /><path d="M1113.8,818.8 C1112.6,818.1 1108.5,815.7 1106.8,814.8 C1105.1,813.9 1104.3,813.4 1103.5,813.6 C1102.7,813.8 1102.3,815.1 1101.7,816.2 C1101.1,817.3 1100.5,818.9 1100.1,820.0 C1099.7,821.1 1099.0,822.1 1099.3,822.8 C1099.6,823.5 1100.6,823.7 1101.8,824.4 C1103.0,825.1 1105.7,826.5 1106.5,826.9" fill="#fff" stroke="#000" stroke-width="2.2" stroke-linecap="round" stroke-linejoin="round" /><path d="M1154.8,761.5 C1154.3,762.9 1152.8,767.2 1151.6,770.0 C1150.3,772.8 1148.8,775.2 1147.3,778.0 C1145.8,780.8 1144.0,784.2 1142.3,787.0 C1140.5,789.8 1138.6,792.4 1136.8,795.0 C1135.0,797.6 1133.2,800.0 1131.3,802.5 C1129.4,805.0 1127.5,807.6 1125.3,810.0 C1123.1,812.4 1120.6,814.8 1118.3,817.0 C1116.0,819.2 1113.8,821.4 1111.3,823.5 C1108.8,825.6 1106.0,827.6 1103.3,829.5 C1100.6,831.4 1098.1,833.2 1095.3,835.0 C1092.5,836.8 1089.3,838.4 1086.3,840.0 C1083.3,841.6 1080.5,842.8 1077.3,844.5 C1074.1,846.2 1069.0,849.5 1067.3,850.5" fill="none" stroke="#000" stroke-width="2.9" stroke-linecap="round" stroke-linejoin="round" /><path d="M1103.0,829.0 C1101.7,829.9 1097.8,832.8 1095.0,834.5 C1092.2,836.2 1089.0,837.9 1086.0,839.5 C1083.0,841.1 1080.2,842.2 1077.0,844.0 C1073.8,845.8 1068.7,849.0 1067.0,850.0" fill="none" stroke="#000" stroke-width="3.0" stroke-linecap="round" stroke-linejoin="round" /><path d="M1161.3,760.8 C1160.8,762.3 1159.4,766.8 1158.1,769.7 C1156.8,772.6 1155.2,775.4 1153.5,778.4 C1151.8,781.4 1150.0,785.0 1148.2,788.0 C1146.4,791.0 1144.5,793.8 1142.5,796.6 C1140.5,799.4 1138.5,802.1 1136.5,804.7 C1134.5,807.3 1132.5,809.8 1130.2,812.3 C1128.0,814.8 1125.4,817.5 1123.0,819.9 C1120.6,822.3 1118.3,824.3 1115.8,826.5 C1113.2,828.7 1110.4,830.9 1107.7,832.9 C1105.0,834.9 1102.4,836.6 1099.5,838.4 C1096.6,840.2 1093.5,841.9 1090.5,843.5 C1087.5,845.1 1084.7,846.1 1081.5,848.0 C1078.3,849.9 1073.2,853.7 1071.6,854.8" fill="none" stroke="#000" stroke-width="2.0" stroke-linecap="round" stroke-linejoin="round" /><path d="M1144.6,821.0 C1143.1,822.7 1139.9,827.7 1135.8,831.0 C1131.7,834.3 1126.5,837.5 1119.8,841.0 C1113.1,844.5 1102.6,848.8 1095.8,852.0 C1089.0,855.2 1082.8,858.0 1078.8,860.0 C1074.8,862.0 1074.1,862.6 1071.8,864.0 C1069.5,865.4 1066.0,867.5 1064.8,868.2" fill="none" stroke="#000" stroke-width="2.0" stroke-linecap="round" stroke-linejoin="round" /><path d="M1128.5,806.2 L1132.6,808.0" fill="none" stroke="#000" stroke-width="1.5" stroke-linecap="round" stroke-linejoin="round" /><path d="M1092.3,837.0 L1096.1,839.0" fill="none" stroke="#000" stroke-width="1.5" stroke-linecap="round" stroke-linejoin="round" /><path d="M1066.3,855.0 L1059.0,866.0 L1064.3,868.5 L1071.8,860.0 Z" fill="#fff" stroke="#000" stroke-width="2.0" stroke-linecap="round" stroke-linejoin="round" /><path d="M1060.8,848.0 L1067.8,854.0" fill="none" stroke="#000" stroke-width="2.2" stroke-linecap="round" stroke-linejoin="round" /><path d="M1165.3,764.0 L1166.3,767.4 L1173.5,771.4" fill="none" stroke="#000" stroke-width="2.0" stroke-linecap="round" stroke-linejoin="round" />
<path d="M1174.1,772.5 C1173.6,773.9 1172.2,778.2 1170.9,781.0 C1169.7,783.8 1168.1,786.2 1166.6,789.0 C1165.0,791.8 1163.3,795.2 1161.6,798.0 C1159.8,800.8 1157.9,803.4 1156.1,806.0 C1154.3,808.6 1152.5,811.0 1150.6,813.5 C1148.7,816.0 1146.8,818.6 1144.6,821.0 C1142.4,823.4 1139.9,825.8 1137.6,828.0 C1135.3,830.2 1133.1,832.4 1130.6,834.5 C1128.1,836.6 1125.3,838.6 1122.6,840.5 C1119.9,842.4 1117.4,844.2 1114.6,846.0 C1111.8,847.8 1108.6,849.4 1105.6,851.0 C1102.6,852.6 1099.8,853.8 1096.6,855.5 C1093.4,857.2 1088.3,860.5 1086.6,861.5 L1085.6,866.0 L1078.3,877.0 L1083.6,879.5 L1084.1,879.2 C1085.3,878.5 1088.8,876.4 1091.1,875.0 C1093.4,873.6 1094.1,873.0 1098.1,871.0 C1102.1,869.0 1108.3,866.2 1115.1,863.0 C1121.9,859.8 1132.4,855.5 1139.1,852.0 C1145.8,848.5 1151.0,845.3 1155.1,842.0 C1159.2,838.7 1161.4,834.9 1163.9,832.0 C1166.4,829.1 1168.0,827.0 1169.9,824.5 C1171.8,822.0 1173.6,819.6 1175.4,817.0 C1177.2,814.4 1179.2,811.8 1180.9,809.0 C1182.7,806.2 1184.4,802.8 1185.9,800.0 C1187.5,797.2 1189.0,794.8 1190.2,792.0 C1191.5,789.2 1192.9,784.9 1193.4,783.5 Z" fill="#fff" stroke="none" stroke-width="0" stroke-linecap="round" stroke-linejoin="round" /><path d="M1133.1,829.8 C1131.9,829.1 1127.8,826.7 1126.1,825.8 C1124.4,824.9 1123.7,824.4 1122.8,824.6 C1122.0,824.8 1121.6,826.1 1121.0,827.2 C1120.4,828.3 1119.8,829.9 1119.4,831.0 C1119.0,832.1 1118.3,833.1 1118.6,833.8 C1118.9,834.5 1119.9,834.7 1121.1,835.4 C1122.3,836.1 1125.0,837.5 1125.8,837.9" fill="#fff" stroke="#000" stroke-width="2.2" stroke-linecap="round" stroke-linejoin="round" /><path d="M1174.1,772.5 C1173.6,773.9 1172.2,778.2 1170.9,781.0 C1169.7,783.8 1168.1,786.2 1166.6,789.0 C1165.0,791.8 1163.3,795.2 1161.6,798.0 C1159.8,800.8 1157.9,803.4 1156.1,806.0 C1154.3,808.6 1152.5,811.0 1150.6,813.5 C1148.7,816.0 1146.8,818.6 1144.6,821.0 C1142.4,823.4 1139.9,825.8 1137.6,828.0 C1135.3,830.2 1133.1,832.4 1130.6,834.5 C1128.1,836.6 1125.3,838.6 1122.6,840.5 C1119.9,842.4 1117.4,844.2 1114.6,846.0 C1111.8,847.8 1108.6,849.4 1105.6,851.0 C1102.6,852.6 1099.8,853.8 1096.6,855.5 C1093.4,857.2 1088.3,860.5 1086.6,861.5" fill="none" stroke="#000" stroke-width="2.9" stroke-linecap="round" stroke-linejoin="round" /><path d="M1122.3,840.0 C1121.0,840.9 1117.1,843.8 1114.3,845.5 C1111.5,847.2 1108.3,848.9 1105.3,850.5 C1102.3,852.1 1099.5,853.2 1096.3,855.0 C1093.1,856.8 1088.0,860.0 1086.3,861.0" fill="none" stroke="#000" stroke-width="3.0" stroke-linecap="round" stroke-linejoin="round" /><path d="M1180.6,771.8 C1180.1,773.3 1178.7,777.8 1177.4,780.7 C1176.1,783.6 1174.5,786.4 1172.8,789.4 C1171.2,792.4 1169.3,796.0 1167.5,799.0 C1165.7,802.0 1163.8,804.8 1161.8,807.6 C1159.9,810.4 1157.9,813.1 1155.8,815.7 C1153.8,818.3 1151.8,820.8 1149.5,823.3 C1147.2,825.8 1144.7,828.5 1142.3,830.9 C1139.9,833.3 1137.6,835.3 1135.1,837.5 C1132.5,839.7 1129.7,841.9 1127.0,843.9 C1124.3,845.9 1121.7,847.6 1118.8,849.4 C1115.9,851.2 1112.8,852.9 1109.8,854.5 C1106.8,856.1 1104.0,857.1 1100.8,859.0 C1097.7,860.9 1092.6,864.7 1090.9,865.8" fill="none" stroke="#000" stroke-width="2.0" stroke-linecap="round" stroke-linejoin="round" /><path d="M1163.9,832.0 C1162.4,833.7 1159.2,838.7 1155.1,842.0 C1151.0,845.3 1145.8,848.5 1139.1,852.0 C1132.4,855.5 1121.9,859.8 1115.1,863.0 C1108.3,866.2 1102.1,869.0 1098.1,871.0 C1094.1,873.0 1093.4,873.6 1091.1,875.0 C1088.8,876.4 1085.3,878.5 1084.1,879.2" fill="none" stroke="#000" stroke-width="2.0" stroke-linecap="round" stroke-linejoin="round" /><path d="M1147.8,817.2 L1151.9,819.0" fill="none" stroke="#000" stroke-width="1.5" stroke-linecap="round" stroke-linejoin="round" /><path d="M1111.6,848.0 L1115.4,850.0" fill="none" stroke="#000" stroke-width="1.5" stroke-linecap="round" stroke-linejoin="round" /><path d="M1085.6,866.0 L1078.3,877.0 L1083.6,879.5 L1091.1,871.0 Z" fill="#fff" stroke="#000" stroke-width="2.0" stroke-linecap="round" stroke-linejoin="round" /><path d="M1080.1,859.0 L1087.1,865.0" fill="none" stroke="#000" stroke-width="2.2" stroke-linecap="round" stroke-linejoin="round" /><path d="M1184.6,775.0 L1185.6,778.4 L1192.8,782.4" fill="none" stroke="#000" stroke-width="2.0" stroke-linecap="round" stroke-linejoin="round" />
<path d="M934.0,633.0 L1125.0,738.5" fill="none" stroke="#000" stroke-width="3.4" stroke-linecap="round" stroke-linejoin="round" />
<path d="M818.0,786.0 L831.0,776.0 L1060.0,904.0 L1045.0,912.0 Z" fill="#fff" stroke="none" stroke-width="0" stroke-linecap="round" stroke-linejoin="round" /><path d="M831.0,776.0 L1058.0,903.0" fill="none" stroke="#000" stroke-width="2.0" stroke-linecap="round" stroke-linejoin="round" /><path d="M818.0,786.0 L1040.0,909.5" fill="none" stroke="#000" stroke-width="3.4" stroke-linecap="round" stroke-linejoin="round" />
<path d="M915.0,630.6 C916.1,624.7 920.2,602.6 921.9,595.0 C923.5,587.4 923.4,588.5 925.0,585.0 C926.6,581.5 928.8,576.8 931.2,573.8 C933.8,570.7 937.3,568.2 940.0,566.9 C942.7,565.5 945.2,565.5 947.5,565.6 C949.8,565.7 951.7,567.0 953.8,567.5 C955.8,568.0 957.9,568.7 960.0,568.8 C962.1,568.8 964.2,568.4 966.2,567.8 C968.3,567.1 971.5,565.5 972.5,565.0 M972.5,565.0 L1030.0,543.5 M1030.0,543.5 C1030.9,542.9 1033.8,541.5 1035.6,540.0 C1037.5,538.5 1039.4,536.5 1041.2,534.4 C1043.1,532.3 1044.8,529.3 1046.9,527.5 C1049.0,525.7 1051.4,524.1 1053.8,523.5 C1056.1,522.9 1058.9,523.0 1061.2,524.0 C1063.6,525.0 1066.5,527.2 1068.1,529.4 C1069.8,531.5 1070.5,535.0 1071.0,536.9 C1071.5,538.8 1071.2,540.0 1071.2,540.6 L1071.2,562.5 L987.5,597.5 L945.0,635.0 L924.4,638.1 Z" fill="#fff" stroke="none" stroke-width="0" stroke-linecap="round" stroke-linejoin="round" /><path d="M915.0,630.6 C916.1,624.7 920.2,602.6 921.9,595.0 C923.5,587.4 923.4,588.5 925.0,585.0 C926.6,581.5 928.8,576.8 931.2,573.8 C933.8,570.7 937.3,568.2 940.0,566.9 C942.7,565.5 945.2,565.5 947.5,565.6 C949.8,565.7 951.7,567.0 953.8,567.5 C955.8,568.0 957.9,568.7 960.0,568.8 C962.1,568.8 964.2,568.4 966.2,567.8 C968.3,567.1 971.5,565.5 972.5,565.0 M972.5,565.0 L1030.0,543.5 M1030.0,543.5 C1030.9,542.9 1033.8,541.5 1035.6,540.0 C1037.5,538.5 1039.4,536.5 1041.2,534.4 C1043.1,532.3 1044.8,529.3 1046.9,527.5 C1049.0,525.7 1051.4,524.1 1053.8,523.5 C1056.1,522.9 1058.9,523.0 1061.2,524.0 C1063.6,525.0 1066.5,527.2 1068.1,529.4 C1069.8,531.5 1070.5,535.0 1071.0,536.9 C1071.5,538.8 1071.2,540.0 1071.2,540.6" fill="none" stroke="#000" stroke-width="2.2" stroke-linecap="round" stroke-linejoin="round" /><path d="M924.6,637.8 C925.6,631.5 929.3,607.8 930.6,600.0 C932.0,592.2 931.6,594.3 932.8,591.2 C933.9,588.2 935.7,584.3 937.5,581.5 C939.3,578.7 941.7,576.1 943.8,574.4 C945.8,572.6 947.9,571.4 950.0,570.9 C952.1,570.4 954.2,571.1 956.2,571.2 C958.3,571.4 960.5,572.0 962.5,571.9 C964.5,571.7 966.5,570.9 968.5,570.2 C970.5,569.6 973.4,568.2 974.4,567.8 M974.4,567.8 L1031.2,546.4 M1031.2,546.4 C1032.3,545.8 1035.5,544.2 1037.5,542.8 C1039.5,541.3 1041.1,539.8 1043.1,537.8 C1045.1,535.7 1047.2,532.4 1049.4,530.6 C1051.6,528.8 1055.1,527.5 1056.2,526.9" fill="none" stroke="#000" stroke-width="2.0" stroke-linecap="round" stroke-linejoin="round" /><path d="M915.0,630.6 L924.6,637.8" fill="none" stroke="#000" stroke-width="2.2" stroke-linecap="round" stroke-linejoin="round" /><path d="M915.6,633.1 L923.8,639.0 L926.9,637.5" fill="none" stroke="#000" stroke-width="1.8" stroke-linecap="round" stroke-linejoin="round" /><path d="M925.0,590.0 L930.9,592.8" fill="none" stroke="#000" stroke-width="1.6" stroke-linecap="round" stroke-linejoin="round" /><path d="M1030.0,543.5 L1032.2,546.5" fill="none" stroke="#000" stroke-width="1.6" stroke-linecap="round" stroke-linejoin="round" /><path d="M1040.2,535.4 L1043.2,538.2" fill="none" stroke="#000" stroke-width="1.6" stroke-linecap="round" stroke-linejoin="round" /><path d="M1048.1,526.9 L1050.0,530.6" fill="none" stroke="#000" stroke-width="1.6" stroke-linecap="round" stroke-linejoin="round" /><path d="M966.0,567.8 L967.5,570.5" fill="none" stroke="#000" stroke-width="1.6" stroke-linecap="round" stroke-linejoin="round" /><path d="M924.6,637.8 C925.3,637.4 927.3,637.5 928.5,635.6 C929.7,633.7 930.8,629.4 931.9,626.2 C933.0,623.1 934.1,618.9 935.0,616.9 C935.9,614.8 936.7,614.3 937.5,614.0 C938.3,613.7 939.3,613.6 940.0,615.0 C940.7,616.4 941.1,619.4 941.9,622.5 C942.6,625.6 944.0,631.9 944.4,633.8" fill="none" stroke="#000" stroke-width="2.2" stroke-linecap="round" stroke-linejoin="round" /><path d="M937.0,618.8 L941.2,633.1" fill="none" stroke="#000" stroke-width="1.8" stroke-linecap="round" stroke-linejoin="round" /><path d="M932.8,625.6 L936.2,633.8" fill="none" stroke="#000" stroke-width="1.8" stroke-linecap="round" stroke-linejoin="round" />
<path d="M1057.8,535.6 C1056.6,536.1 1052.5,536.5 1050.6,538.5 C1048.8,540.5 1047.0,544.8 1046.5,547.5 C1046.0,550.2 1046.5,553.1 1047.5,555.0 C1048.5,556.9 1051.5,558.3 1052.2,559.0 L1126.0,596.7 L1142.6,581.0 Z" fill="#fff" stroke="#000" stroke-width="2.2" stroke-linecap="round" stroke-linejoin="round" /><path d="M1061.2,566.5 L1112.0,597.6" fill="none" stroke="#000" stroke-width="2.0" stroke-linecap="round" stroke-linejoin="round" />
<path d="M946.9,619.0 L957.5,614.0 L990.0,600.6 L1048.1,579.4 L1091.2,604.4 L1100.0,608.8 L1100.0,660.0 L1012.5,660.0 Z" fill="#fff" stroke="none" stroke-width="0" stroke-linecap="round" stroke-linejoin="round" /><path d="M990.0,600.6 L1048.1,579.4" fill="none" stroke="#000" stroke-width="2.2" stroke-linecap="round" stroke-linejoin="round" /><path d="M1048.1,579.4 L1091.9,604.6" fill="none" stroke="#000" stroke-width="3.0" stroke-linecap="round" stroke-linejoin="round" /><path d="M1055.0,580.0 L1061.2,566.5" fill="none" stroke="#000" stroke-width="2.0" stroke-linecap="round" stroke-linejoin="round" /><path d="M957.5,614.0 L946.9,619.0 L1010.6,655.6" fill="none" stroke="#000" stroke-width="2.2" stroke-linecap="round" stroke-linejoin="round" /><path d="M950.0,623.5 L1009.4,657.8" fill="none" stroke="#000" stroke-width="2.0" stroke-linecap="round" stroke-linejoin="round" /><path d="M950.0,623.5 L950.0,635.0" fill="none" stroke="#000" stroke-width="2.0" stroke-linecap="round" stroke-linejoin="round" /><path d="M950.0,635.0 L1007.5,667.8" fill="none" stroke="#000" stroke-width="3.2" stroke-linecap="round" stroke-linejoin="round" />
<path d="M948.1,578.5 C947.1,578.8 943.7,578.4 941.9,580.2 C940.1,582.1 938.2,586.5 937.2,589.4 C936.3,592.2 936.0,595.4 936.2,597.5 C936.5,599.6 938.3,601.1 938.8,601.9 L1012.5,644.8 L1025.0,624.0 Z" fill="#fff" stroke="#000" stroke-width="2.2" stroke-linecap="round" stroke-linejoin="round" />
<path d="M1007.9,681.6 C1009.0,675.6 1012.7,654.5 1014.9,645.7 C1017.1,637.0 1017.6,633.4 1021.0,629.1 C1024.4,624.8 1030.8,621.3 1035.0,619.8 C1039.2,618.4 1043.5,619.9 1046.4,620.4 C1049.3,620.8 1050.3,622.6 1052.5,622.6 C1054.7,622.6 1058.3,620.8 1059.5,620.4 M1059.5,620.4 L1120.7,595.9 M1120.7,595.9 C1122.2,595.1 1126.6,594.0 1129.5,591.5 C1132.4,589.0 1135.0,583.4 1138.2,581.0 C1141.5,578.5 1145.2,576.8 1148.7,576.8 C1152.2,576.8 1156.8,578.7 1159.2,581.0 C1161.7,583.3 1163.0,587.4 1163.6,590.6 C1164.2,593.8 1163.6,596.6 1162.7,600.2 C1161.9,603.9 1159.1,610.5 1158.4,612.5 M1158.4,612.5 L1148.7,633.5 L1037.6,671.1 L1034.1,679.0 L1016.6,689.5 Z" fill="#fff" stroke="none" stroke-width="0" stroke-linecap="round" stroke-linejoin="round" /><path d="M1007.9,681.6 C1009.0,675.6 1012.7,654.5 1014.9,645.7 C1017.1,637.0 1017.6,633.4 1021.0,629.1 C1024.4,624.8 1030.8,621.3 1035.0,619.8 C1039.2,618.4 1043.5,619.9 1046.4,620.4 C1049.3,620.8 1050.3,622.6 1052.5,622.6 C1054.7,622.6 1058.3,620.8 1059.5,620.4 M1059.5,620.4 L1120.7,595.9 M1120.7,595.9 C1122.2,595.1 1126.6,594.0 1129.5,591.5 C1132.4,589.0 1135.0,583.4 1138.2,581.0 C1141.5,578.5 1145.2,576.8 1148.7,576.8 C1152.2,576.8 1156.8,578.7 1159.2,581.0 C1161.7,583.3 1163.0,587.4 1163.6,590.6 C1164.2,593.8 1163.6,596.6 1162.7,600.2 C1161.9,603.9 1159.1,610.5 1158.4,612.5 M1158.4,612.5 L1148.7,633.5" fill="none" stroke="#000" stroke-width="2.2" stroke-linecap="round" stroke-linejoin="round" /><path d="M1017.0,689.1 C1018.1,682.8 1021.6,660.0 1023.6,651.0 C1025.6,642.0 1026.2,639.2 1028.9,635.2 C1031.5,631.3 1036.0,628.9 1039.4,627.4 C1042.7,625.9 1046.2,626.5 1049.0,626.1 C1051.8,625.8 1053.9,625.6 1056.0,625.1 C1058.1,624.6 1060.7,623.6 1061.6,623.3 M1061.6,623.3 L1122.5,599.4 M1122.5,599.4 C1124.1,598.6 1129.1,597.2 1132.1,595.0 C1135.2,592.8 1138.1,588.4 1140.9,586.2 C1143.6,584.1 1147.4,582.6 1148.7,581.9" fill="none" stroke="#000" stroke-width="2.0" stroke-linecap="round" stroke-linejoin="round" /><path d="M1007.9,681.6 L1017.0,689.1" fill="none" stroke="#000" stroke-width="2.2" stroke-linecap="round" stroke-linejoin="round" /><path d="M1008.7,684.6 L1016.1,690.9 L1019.2,689.1" fill="none" stroke="#000" stroke-width="1.8" stroke-linecap="round" stroke-linejoin="round" /><path d="M1017.0,689.1 C1017.6,688.8 1019.5,688.9 1020.6,686.9 C1021.8,684.8 1023.1,679.9 1024.1,676.9 C1025.2,673.9 1026.2,670.5 1027.1,668.8 C1028.1,667.2 1029.0,667.1 1029.7,667.1 C1030.5,667.1 1031.2,667.2 1031.8,668.8 C1032.5,670.5 1032.9,673.7 1033.6,676.9 C1034.3,680.0 1035.5,685.9 1035.9,687.7" fill="none" stroke="#000" stroke-width="2.2" stroke-linecap="round" stroke-linejoin="round" /><path d="M1026.6,672.9 L1031.1,686.9" fill="none" stroke="#000" stroke-width="1.8" stroke-linecap="round" stroke-linejoin="round" /><ellipse cx="1037.6" cy="642.2" rx="9.6" ry="11.6" transform="rotate(22 1037.6 642.2)" fill="#fff" stroke="#000" stroke-width="2.4"/><ellipse cx="1039.2" cy="642.8" rx="7" ry="9.4" transform="rotate(22 1037.6 642.2)" fill="#fff" stroke="#000" stroke-width="2.2"/><ellipse cx="1148.7" cy="598.8" rx="9.6" ry="11.6" transform="rotate(22 1148.7 598.8)" fill="#fff" stroke="#000" stroke-width="2.4"/><ellipse cx="1150.3" cy="599.4" rx="7" ry="9.4" transform="rotate(22 1148.7 598.8)" fill="#fff" stroke="#000" stroke-width="2.2"/>
<path d="M1037.6,671.1 L1139.1,632.6 L1216.1,675.1 L1123.4,718.0 L1120.7,736.4 L1043.7,693.5 Z" fill="#fff" stroke="none" stroke-width="0" stroke-linecap="round" stroke-linejoin="round" /><path d="M1123.4,718.0 L1037.6,671.1 L1139.1,632.6" fill="none" stroke="#000" stroke-width="2.2" stroke-linecap="round" stroke-linejoin="round" /><path d="M1139.1,632.6 L1216.1,675.1" fill="none" stroke="#000" stroke-width="3.0" stroke-linecap="round" stroke-linejoin="round" /><path d="M1042.9,678.6 L1120.7,721.9" fill="none" stroke="#000" stroke-width="2.0" stroke-linecap="round" stroke-linejoin="round" /><path d="M1043.7,679.9 L1043.7,693.0" fill="none" stroke="#000" stroke-width="2.0" stroke-linecap="round" stroke-linejoin="round" />
<path d="M1122.5,745.5 L1122.5,718.4 M1122.5,718.4 C1122.9,717.4 1123.5,714.1 1125.1,712.6 C1126.7,711.1 1131.0,709.7 1132.1,709.1 M1132.1,709.1 L1228.4,672.0 M1228.4,672.0 C1229.4,672.0 1233.0,671.2 1234.5,672.0 C1236.0,672.8 1237.1,676.1 1237.6,676.9 M1237.6,676.9 L1238.0,726.2 L1238.0,726.2 C1237.0,730.2 1234.7,740.2 1232.0,750.0 C1229.2,759.8 1225.9,772.7 1221.5,785.0 C1217.1,797.2 1212.5,812.1 1205.7,823.5 C1199.0,834.9 1189.7,845.4 1181.2,853.2 C1172.8,861.1 1164.9,865.2 1155.0,870.7 C1145.1,876.3 1127.3,883.9 1121.7,886.5 L1069.2,907.5 L1069.2,907.5 C1070.7,903.4 1075.1,889.4 1078.0,883.0 C1080.9,876.6 1082.7,873.4 1086.7,869.0 C1090.8,864.6 1097.0,861.4 1102.5,856.7 C1108.0,852.1 1114.2,847.1 1120.0,841.0 C1125.8,834.9 1133.3,828.5 1137.5,820.0 C1141.7,811.5 1144.8,799.0 1145.4,790.2 C1146.0,781.5 1143.8,774.2 1141.0,767.5 C1138.2,760.8 1130.8,752.9 1128.7,750.0 Z" fill="#fff" stroke="none" stroke-width="0" stroke-linecap="round" stroke-linejoin="round" /><path d="M1122.5,745.5 L1122.5,718.4 M1122.5,718.4 C1122.9,717.4 1123.5,714.1 1125.1,712.6 C1126.7,711.1 1131.0,709.7 1132.1,709.1 M1132.1,709.1 L1228.4,672.0 M1228.4,672.0 C1229.4,672.0 1233.0,671.2 1234.5,672.0 C1236.0,672.8 1237.1,676.1 1237.6,676.9 M1237.6,676.9 L1238.0,726.2" fill="none" stroke="#000" stroke-width="2.2" stroke-linecap="round" stroke-linejoin="round" /><path d="M1238.0,726.2 C1237.0,730.2 1234.7,740.2 1232.0,750.0 C1229.2,759.8 1225.9,772.7 1221.5,785.0 C1217.1,797.2 1212.5,812.1 1205.7,823.5 C1199.0,834.9 1189.7,845.4 1181.2,853.2 C1172.8,861.1 1164.9,865.2 1155.0,870.7 C1145.1,876.3 1127.3,883.9 1121.7,886.5" fill="none" stroke="#000" stroke-width="1.7" stroke-linecap="round" stroke-linejoin="round" /><path d="M1122.5,745.5 C1123.5,746.2 1125.7,746.3 1128.7,750.0 C1131.8,753.7 1138.2,760.8 1141.0,767.5 C1143.8,774.2 1146.0,781.5 1145.4,790.2 C1144.8,799.0 1141.7,811.5 1137.5,820.0 C1133.3,828.5 1125.8,834.9 1120.0,841.0 C1114.2,847.1 1108.0,852.1 1102.5,856.7 C1097.0,861.4 1090.8,864.6 1086.7,869.0 C1082.7,873.4 1080.9,876.6 1078.0,883.0 C1075.1,889.4 1070.7,903.4 1069.2,907.5" fill="none" stroke="#000" stroke-width="2.2" stroke-linecap="round" stroke-linejoin="round" /><path d="M1128.6,716.1 L1227.5,676.9" fill="none" stroke="#000" stroke-width="2.0" stroke-linecap="round" stroke-linejoin="round" /><path d="M1126.0,718.4 L1126.0,743.7 L1124.5,751.2 C1126.6,754.1 1134.0,762.0 1136.8,768.7 C1139.6,775.4 1141.8,782.7 1141.2,791.4 C1140.6,800.2 1137.5,812.7 1133.3,821.2 C1129.1,829.7 1121.6,836.1 1115.8,842.2 C1110.0,848.3 1103.8,853.3 1098.3,857.9 C1092.8,862.6 1085.2,868.2 1082.5,870.2" fill="none" stroke="#000" stroke-width="1.8" stroke-linecap="round" stroke-linejoin="round" />
<path d="M1067.0,904.0 L1118.0,881.5 L1123.0,885.0 L1123.0,890.5 L1066.5,925.5 L1055.0,920.0 L1055.0,912.0 Z" fill="#fff" stroke="#000" stroke-width="2.2" stroke-linecap="round" stroke-linejoin="round" /><path d="M1055.0,912.0 L1066.0,918.0 L1070.5,909.5 L1120.5,885.5" fill="none" stroke="#000" stroke-width="2.0" stroke-linecap="round" stroke-linejoin="round" /><path d="M1066.0,918.0 L1066.5,925.5" fill="none" stroke="#000" stroke-width="2.0" stroke-linecap="round" stroke-linejoin="round" /><path d="M1067.0,904.0 L1070.5,909.5" fill="none" stroke="#000" stroke-width="2.0" stroke-linecap="round" stroke-linejoin="round" />
<path d="M782.5,757.5 L791.0,750.0 L799.0,749.0 L804.0,751.5" fill="none" stroke="#000" stroke-width="2.2" stroke-linecap="round" stroke-linejoin="round" /><path d="M782.5,757.5 L790.0,762.0 L796.0,756.0 L791.0,750.0" fill="none" stroke="#000" stroke-width="2.0" stroke-linecap="round" stroke-linejoin="round" /><path d="M804,751.5 L840,743 Q850,744.5 859,753 L859.5,756.5 L855,761 L827,772.5 L806,756 Z" fill="#fff" stroke="#000" stroke-width="2.4" stroke-linecap="round" stroke-linejoin="round" /><path d="M812.0,750.0 L828.0,763.5" fill="none" stroke="#000" stroke-width="1.8" stroke-linecap="round" stroke-linejoin="round" /><path d="M813.0,755.5 L853.0,749.0" fill="none" stroke="#000" stroke-width="1.8" stroke-linecap="round" stroke-linejoin="round" /><path d="M822.0,763.0 L857.0,754.5" fill="none" stroke="#000" stroke-width="1.8" stroke-linecap="round" stroke-linejoin="round" /><path d="M827.0,772.5 L855.0,761.0" fill="none" stroke="#000" stroke-width="3.0" stroke-linecap="round" stroke-linejoin="round" /><path d="M744.5,799.0 L763.0,815.5 L804.0,777.0 L804.0,751.5 L791.0,750.0 L782.5,757.5 L782.0,765.0 Z" fill="#fff" stroke="#000" stroke-width="2.9" stroke-linecap="round" stroke-linejoin="round" /><path d="M763.0,815.5 L805.0,804.0 L814.0,800.0 L817.0,798.0 L814.0,774.0 L804.0,777.0 Z" fill="#fff" stroke="#000" stroke-width="2.2" stroke-linecap="round" stroke-linejoin="round" /><path d="M763.0,815.5 L804.0,792.0" fill="none" stroke="#000" stroke-width="1.8" stroke-linecap="round" stroke-linejoin="round" /><path d="M763.0,815.5 L804.0,798.0" fill="none" stroke="#000" stroke-width="1.6" stroke-linecap="round" stroke-linejoin="round" /><path d="M763.0,815.5 L804.0,777.0" fill="none" stroke="#000" stroke-width="3.2" stroke-linecap="round" stroke-linejoin="round" /><path d="M769.0,781.0 L782.0,794.0" fill="none" stroke="#000" stroke-width="2.0" stroke-linecap="round" stroke-linejoin="round" /><path d="M774.0,777.0 L787.0,790.0" fill="none" stroke="#000" stroke-width="2.0" stroke-linecap="round" stroke-linejoin="round" /><path d="M804.0,776.0 L807.0,802.5" fill="none" stroke="#000" stroke-width="4.4" stroke-linecap="round" stroke-linejoin="round" /><path d="M809.4,775.0 L812.4,800.5" fill="none" stroke="#000" stroke-width="4.0" stroke-linecap="round" stroke-linejoin="round" /><path d="M814.6,772.0 L817.6,798.0" fill="none" stroke="#000" stroke-width="3.0" stroke-linecap="round" stroke-linejoin="round" /><path d="M788.0,759.0 L800.0,754.0 L808.0,765.0 L804.0,777.0 L792.0,775.0 L784.0,766.0 Z" fill="#000" stroke="#000" stroke-width="1.5" stroke-linecap="round" stroke-linejoin="round" /><path d="M790.0,761.0 L794.5,759.0 L796.5,762.5 L792.0,764.5 Z" fill="#fff" stroke="none" stroke-width="0" stroke-linecap="round" stroke-linejoin="round" /><path d="M793.5,769.0 L798.0,767.0 L800.0,771.5 L795.5,773.5 Z" fill="#fff" stroke="none" stroke-width="0" stroke-linecap="round" stroke-linejoin="round" /><ellipse cx="805" cy="764" rx="10" ry="10.5" fill="#000"/><path d="M800.5,761.0 l3,-3.5 M803.5,767.5 l3.5,1 M808.0,759.0 l1.5,2" stroke="#fff" stroke-width="1.1" fill="none"/><path d="M744.5,799.0 L763.0,815.5" fill="none" stroke="#000" stroke-width="5" stroke-linecap="round" stroke-linejoin="round" />
<path d="M876.0,795.0 L908.0,784.5 Q915.0,783.5 920.0,788.0 L928.0,795.5 L928.0,798.5 L902.0,811.0 L879.0,798.5 Z" fill="#fff" stroke="#000" stroke-width="2.4" stroke-linecap="round" stroke-linejoin="round" /><path d="M879.0,798.5 L902.0,811.0" fill="none" stroke="#000" stroke-width="2.0" stroke-linecap="round" stroke-linejoin="round" /><path d="M884.0,795.0 L913.0,786.0" fill="none" stroke="#000" stroke-width="1.8" stroke-linecap="round" stroke-linejoin="round" /><path d="M894.0,801.0 L924.0,791.5" fill="none" stroke="#000" stroke-width="1.8" stroke-linecap="round" stroke-linejoin="round" /><path d="M902.0,811.0 L927.0,799.0" fill="none" stroke="#000" stroke-width="3.0" stroke-linecap="round" stroke-linejoin="round" /><path d="M823.5,850.0 L846.5,865.0 L879.0,827.0 L876.0,795.0 L863.0,803.5 L857.0,810.0 Z" fill="#fff" stroke="#000" stroke-width="2.9" stroke-linecap="round" stroke-linejoin="round" /><path d="M846.5,865.0 L871.0,854.0 L883.0,849.5 L890.0,845.0 L894.0,842.0 L890.0,820.0 L879.0,827.0 Z" fill="#fff" stroke="#000" stroke-width="2.2" stroke-linecap="round" stroke-linejoin="round" /><path d="M846.5,865.0 L881.0,841.0" fill="none" stroke="#000" stroke-width="1.8" stroke-linecap="round" stroke-linejoin="round" /><path d="M846.5,865.0 L880.0,848.0" fill="none" stroke="#000" stroke-width="1.6" stroke-linecap="round" stroke-linejoin="round" /><path d="M846.5,865.0 L879.0,827.0" fill="none" stroke="#000" stroke-width="3.2" stroke-linecap="round" stroke-linejoin="round" /><path d="M846.0,827.0 L865.0,839.0" fill="none" stroke="#000" stroke-width="2.0" stroke-linecap="round" stroke-linejoin="round" /><path d="M850.0,823.0 L868.5,835.0" fill="none" stroke="#000" stroke-width="2.0" stroke-linecap="round" stroke-linejoin="round" /><path d="M880.0,825.0 L885.0,848.0" fill="none" stroke="#000" stroke-width="4.4" stroke-linecap="round" stroke-linejoin="round" /><path d="M885.4,822.0 L890.4,845.5" fill="none" stroke="#000" stroke-width="4.0" stroke-linecap="round" stroke-linejoin="round" /><path d="M890.5,819.0 L895.0,842.0" fill="none" stroke="#000" stroke-width="3.0" stroke-linecap="round" stroke-linejoin="round" /><path d="M862.0,806.0 L874.0,801.0 L882.0,812.0 L878.0,824.0 L866.0,822.0 L858.0,813.0 Z" fill="#000" stroke="#000" stroke-width="1.5" stroke-linecap="round" stroke-linejoin="round" /><path d="M864.0,808.0 L868.5,806.0 L870.5,809.5 L866.0,811.5 Z" fill="#fff" stroke="none" stroke-width="0" stroke-linecap="round" stroke-linejoin="round" /><path d="M867.5,816.0 L872.0,814.0 L874.0,818.5 L869.5,820.5 Z" fill="#fff" stroke="none" stroke-width="0" stroke-linecap="round" stroke-linejoin="round" /><ellipse cx="879" cy="811" rx="10" ry="10.5" fill="#000"/><path d="M874.5,808.0 l3,-3.5 M877.5,814.5 l3.5,1 M882.0,806.0 l1.5,2" stroke="#fff" stroke-width="1.1" fill="none"/><path d="M823.5,850.0 L846.5,865.0" fill="none" stroke="#000" stroke-width="5" stroke-linecap="round" stroke-linejoin="round" />
<path d="M955.0,839.2 L987.0,828.7 Q994.0,827.7 999.0,832.2 L1007.0,839.7 L1007.0,842.7 L981.0,855.2 L958.0,842.7 Z" fill="#fff" stroke="#000" stroke-width="2.4" stroke-linecap="round" stroke-linejoin="round" /><path d="M958.0,842.7 L981.0,855.2" fill="none" stroke="#000" stroke-width="2.0" stroke-linecap="round" stroke-linejoin="round" /><path d="M963.0,839.2 L992.0,830.2" fill="none" stroke="#000" stroke-width="1.8" stroke-linecap="round" stroke-linejoin="round" /><path d="M973.0,845.2 L1003.0,835.7" fill="none" stroke="#000" stroke-width="1.8" stroke-linecap="round" stroke-linejoin="round" /><path d="M981.0,855.2 L1006.0,843.2" fill="none" stroke="#000" stroke-width="3.0" stroke-linecap="round" stroke-linejoin="round" /><path d="M902.5,894.2 L925.5,909.2 L958.0,871.2 L955.0,839.2 L942.0,847.7 L936.0,854.2 Z" fill="#fff" stroke="#000" stroke-width="2.9" stroke-linecap="round" stroke-linejoin="round" /><path d="M925.5,909.2 L950.0,898.2 L962.0,893.7 L969.0,889.2 L973.0,886.2 L969.0,864.2 L958.0,871.2 Z" fill="#fff" stroke="#000" stroke-width="2.2" stroke-linecap="round" stroke-linejoin="round" /><path d="M925.5,909.2 L960.0,885.2" fill="none" stroke="#000" stroke-width="1.8" stroke-linecap="round" stroke-linejoin="round" /><path d="M925.5,909.2 L959.0,892.2" fill="none" stroke="#000" stroke-width="1.6" stroke-linecap="round" stroke-linejoin="round" /><path d="M925.5,909.2 L958.0,871.2" fill="none" stroke="#000" stroke-width="3.2" stroke-linecap="round" stroke-linejoin="round" /><path d="M925.0,871.2 L944.0,883.2" fill="none" stroke="#000" stroke-width="2.0" stroke-linecap="round" stroke-linejoin="round" /><path d="M929.0,867.2 L947.5,879.2" fill="none" stroke="#000" stroke-width="2.0" stroke-linecap="round" stroke-linejoin="round" /><path d="M959.0,869.2 L964.0,892.2" fill="none" stroke="#000" stroke-width="4.4" stroke-linecap="round" stroke-linejoin="round" /><path d="M964.4,866.2 L969.4,889.7" fill="none" stroke="#000" stroke-width="4.0" stroke-linecap="round" stroke-linejoin="round" /><path d="M969.5,863.2 L974.0,886.2" fill="none" stroke="#000" stroke-width="3.0" stroke-linecap="round" stroke-linejoin="round" /><path d="M941.0,850.2 L953.0,845.2 L961.0,856.2 L957.0,868.2 L945.0,866.2 L937.0,857.2 Z" fill="#000" stroke="#000" stroke-width="1.5" stroke-linecap="round" stroke-linejoin="round" /><path d="M943.0,852.2 L947.5,850.2 L949.5,853.7 L945.0,855.7 Z" fill="#fff" stroke="none" stroke-width="0" stroke-linecap="round" stroke-linejoin="round" /><path d="M946.5,860.2 L951.0,858.2 L953.0,862.7 L948.5,864.7 Z" fill="#fff" stroke="none" stroke-width="0" stroke-linecap="round" stroke-linejoin="round" /><ellipse cx="958" cy="855.2" rx="10" ry="10.5" fill="#000"/><path d="M953.5,852.2 l3,-3.5 M956.5,858.7 l3.5,1 M961.0,850.2 l1.5,2" stroke="#fff" stroke-width="1.1" fill="none"/><path d="M902.5,894.2 L925.5,909.2" fill="none" stroke="#000" stroke-width="5" stroke-linecap="round" stroke-linejoin="round" />
<path d="M1031.0,884.0 L1055.0,870.0 L1081.0,876.0 L1075.0,873.0 L1045.0,889.0 Z" fill="#fff" stroke="#000" stroke-width="2.4" stroke-linecap="round" stroke-linejoin="round" /><path d="M1031.0,884.0 L1055.0,870.0 L1062.0,871.0 L1078.0,874.0 L1077.0,877.0 L1045.0,889.5 Z" fill="#fff" stroke="#000" stroke-width="2.4" stroke-linecap="round" stroke-linejoin="round" /><path d="M1050.0,885.0 L1070.0,873.5" fill="none" stroke="#000" stroke-width="1.8" stroke-linecap="round" stroke-linejoin="round" /><path d="M1035.0,886.0 L1045.0,889.5" fill="none" stroke="#000" stroke-width="2" stroke-linecap="round" stroke-linejoin="round" /><path d="M988.0,943.5 L1014.5,956.0 L1043.0,913.0 L1045.0,889.5 L1031.0,884.0 L1020.0,894.0 L1015.0,901.5 Z" fill="#fff" stroke="#000" stroke-width="2.9" stroke-linecap="round" stroke-linejoin="round" /><path d="M1014.5,956.0 L1045.0,937.0 L1051.0,932.0 L1054.0,928.0 L1051.0,907.0 L1043.0,913.0 Z" fill="#fff" stroke="#000" stroke-width="2.2" stroke-linecap="round" stroke-linejoin="round" /><path d="M1014.5,956.0 L1043.0,921.0" fill="none" stroke="#000" stroke-width="1.8" stroke-linecap="round" stroke-linejoin="round" /><path d="M1014.5,956.0 L1044.0,929.0" fill="none" stroke="#000" stroke-width="1.6" stroke-linecap="round" stroke-linejoin="round" /><path d="M1014.5,956.0 L1043.0,913.0" fill="none" stroke="#000" stroke-width="3.4" stroke-linecap="round" stroke-linejoin="round" /><path d="M1007.0,917.0 L1031.0,925.5" fill="none" stroke="#000" stroke-width="2.0" stroke-linecap="round" stroke-linejoin="round" /><path d="M1005.0,921.0 L1029.0,930.0" fill="none" stroke="#000" stroke-width="2.0" stroke-linecap="round" stroke-linejoin="round" /><path d="M1043.0,912.0 L1045.5,936.5" fill="none" stroke="#000" stroke-width="4.4" stroke-linecap="round" stroke-linejoin="round" /><path d="M1048.3,908.0 L1051.3,932.5" fill="none" stroke="#000" stroke-width="4.0" stroke-linecap="round" stroke-linejoin="round" /><path d="M1052.6,905.0 L1055.6,928.0" fill="none" stroke="#000" stroke-width="3.0" stroke-linecap="round" stroke-linejoin="round" /><path d="M1019.0,895.0 L1031.0,890.0 L1039.0,901.0 L1035.0,913.0 L1023.0,911.0 L1015.0,902.0 Z" fill="#000" stroke="#000" stroke-width="1.5" stroke-linecap="round" stroke-linejoin="round" /><path d="M1021.0,897.0 L1025.5,895.0 L1027.5,898.5 L1023.0,900.5 Z" fill="#fff" stroke="none" stroke-width="0" stroke-linecap="round" stroke-linejoin="round" /><path d="M1024.5,905.0 L1029.0,903.0 L1031.0,907.5 L1026.5,909.5 Z" fill="#fff" stroke="none" stroke-width="0" stroke-linecap="round" stroke-linejoin="round" /><ellipse cx="1036" cy="900" rx="10.5" ry="11" fill="#000"/><path d="M1031.5,897.0 l3,-3.5 M1034.5,903.5 l3.5,1 M1039.0,895.0 l1.5,2" stroke="#fff" stroke-width="1.1" fill="none"/><path d="M988.0,943.5 L1014.5,956.0" fill="none" stroke="#000" stroke-width="5.4" stroke-linecap="round" stroke-linejoin="round" />
<!-- v5 -->
<path d="M1418.8,832.9 C1419.3,832.4 1420.4,830.4 1421.6,829.8 C1422.8,829.2 1424.6,829.1 1426.2,829.4 C1427.7,829.8 1430.0,831.6 1430.8,832.0 M1430.8,832.0 L1528.0,908.0 M1528.0,908.0 C1528.8,908.9 1531.6,911.3 1532.7,913.3 C1533.7,915.3 1534.1,918.9 1534.4,920.0 M1534.4,920.0 L1534.4,966.7 M1534.4,966.7 C1533.9,968.6 1533.1,974.7 1531.3,978.0 C1529.6,981.3 1525.2,985.2 1524.0,986.7 M1524.0,986.7 C1521.8,990.2 1514.7,1002.4 1510.7,1008.0 C1506.7,1013.6 1504.4,1016.9 1500.0,1020.0 C1495.6,1023.1 1488.4,1025.1 1484.0,1026.7 C1479.6,1028.2 1475.1,1028.9 1473.3,1029.3" fill="none" stroke="#000" stroke-width="2.3" stroke-linecap="round" stroke-linejoin="round" />
<path d="M1422.9,833.8 L1524.7,911.3" fill="none" stroke="#000" stroke-width="1.8" stroke-linecap="round" stroke-linejoin="round" />
<path d="M1417.9,837.5 L1517.3,914.4" fill="none" stroke="#000" stroke-width="2.1" stroke-linecap="round" stroke-linejoin="round" />
<path d="M1524.7,911.3 C1525.3,912.1 1527.5,914.2 1528.3,915.7 C1529.0,917.3 1529.2,919.8 1529.3,920.7" fill="none" stroke="#000" stroke-width="1.8" stroke-linecap="round" stroke-linejoin="round" />
<path d="M1529.3,920.7 L1529.3,966.7" fill="none" stroke="#000" stroke-width="1.8" stroke-linecap="round" stroke-linejoin="round" />
<path d="M1529.3,966.7 C1528.9,968.4 1528.0,974.2 1526.7,977.3 C1525.3,980.4 1522.2,984.0 1521.3,985.3" fill="none" stroke="#000" stroke-width="1.8" stroke-linecap="round" stroke-linejoin="round" />
<path d="M1517.3,914.4 C1518.0,914.9 1520.5,916.2 1521.6,917.6 C1522.7,919.0 1523.4,922.0 1523.7,922.9" fill="none" stroke="#000" stroke-width="2.0" stroke-linecap="round" stroke-linejoin="round" />
<path d="M1521.3,985.3 L1508.7,1006.0 L1498.7,1018.0" fill="none" stroke="#000" stroke-width="1.8" stroke-linecap="round" stroke-linejoin="round" />
<path d="M1530.0,966.7 L1534.7,966.7" fill="none" stroke="#000" stroke-width="1.6" stroke-linecap="round" stroke-linejoin="round" />
<path d="M1418.8,832.9 L1417.9,837.5" fill="none" stroke="#000" stroke-width="1.8" stroke-linecap="round" stroke-linejoin="round" />
<path d="M1364.8,865.9 L1417.9,837.5" fill="none" stroke="#000" stroke-width="2.2" stroke-linecap="round" stroke-linejoin="round" />
<path d="M1507.3,950.0 C1507.4,951.6 1507.8,956.2 1508.0,959.5 C1508.2,962.8 1508.5,966.8 1508.5,969.8 C1508.5,972.9 1508.3,975.0 1508.0,977.8 C1507.6,980.7 1507.3,983.8 1506.6,986.8 C1505.9,989.8 1504.9,993.0 1503.8,995.8 C1502.6,998.7 1501.3,1001.2 1499.8,1003.8 C1498.3,1006.5 1496.3,1009.1 1494.8,1011.8 C1493.3,1014.6 1491.4,1018.9 1490.8,1020.3 L1490.8,1020.3 C1491.8,1020.0 1495.0,1019.3 1497.3,1018.3 C1499.5,1017.3 1502.1,1015.8 1504.3,1014.3 C1506.4,1012.9 1509.0,1010.3 1510.0,1009.5 L1510.0,1009.5 C1510.4,1008.4 1511.4,1005.1 1512.6,1002.5 C1513.7,999.9 1515.6,996.9 1517.0,994.0 C1518.3,991.2 1519.7,988.4 1520.8,985.5 C1521.8,982.6 1522.6,979.5 1523.2,976.5 C1523.7,973.5 1524.0,970.4 1524.3,967.5 C1524.5,964.7 1524.5,962.2 1524.5,959.5 C1524.4,956.9 1524.2,954.4 1524.0,951.5 C1523.8,948.7 1523.4,944.0 1523.3,942.5 Z" fill="#fff" stroke="none" stroke-width="0" stroke-linecap="round" stroke-linejoin="round" /><path d="M1507.3,950.0 C1507.4,951.6 1507.8,956.2 1508.0,959.5 C1508.2,962.8 1508.5,966.8 1508.5,969.8 C1508.5,972.9 1508.3,975.0 1508.0,977.8 C1507.6,980.7 1507.3,983.8 1506.6,986.8 C1505.9,989.8 1504.9,993.0 1503.8,995.8 C1502.6,998.7 1501.3,1001.2 1499.8,1003.8 C1498.3,1006.5 1496.3,1009.1 1494.8,1011.8 C1493.3,1014.6 1491.4,1018.9 1490.8,1020.3" fill="none" stroke="#000" stroke-width="2.3" stroke-linecap="round" stroke-linejoin="round" /><path d="M1523.3,942.5 C1523.4,944.0 1523.8,948.7 1524.0,951.5 C1524.2,954.4 1524.4,956.9 1524.5,959.5 C1524.5,962.2 1524.5,964.7 1524.3,967.5 C1524.0,970.4 1523.7,973.5 1523.2,976.5 C1522.6,979.5 1521.8,982.6 1520.8,985.5 C1519.7,988.4 1518.3,991.2 1517.0,994.0 C1515.6,996.9 1513.7,999.9 1512.6,1002.5 C1511.4,1005.1 1510.4,1008.4 1510.0,1009.5" fill="none" stroke="#000" stroke-width="2.3" stroke-linecap="round" stroke-linejoin="round" /><path d="M1490.8,1020.3 C1491.8,1020.0 1495.0,1019.3 1497.3,1018.3 C1499.5,1017.3 1502.1,1015.8 1504.3,1014.3 C1506.4,1012.9 1509.0,1010.3 1510.0,1009.5" fill="none" stroke="#000" stroke-width="2.4" stroke-linecap="round" stroke-linejoin="round" /><path d="M1507.3,950.0 L1523.3,942.5" fill="none" stroke="#000" stroke-width="2.4" stroke-linecap="round" stroke-linejoin="round" /><path d="M1524.3,957.5 L1527.6,957.2" fill="none" stroke="#000" stroke-width="1.8" stroke-linecap="round" stroke-linejoin="round" />
<path d="M1488.0,961.1 C1488.1,962.6 1488.5,967.3 1488.7,970.6 C1488.9,973.9 1489.2,977.8 1489.2,980.9 C1489.2,983.9 1489.0,986.0 1488.7,988.9 C1488.4,991.7 1488.0,994.9 1487.3,997.9 C1486.6,1000.9 1485.7,1004.0 1484.5,1006.9 C1483.4,1009.7 1482.0,1012.2 1480.5,1014.9 C1479.0,1017.5 1477.0,1020.1 1475.5,1022.9 C1474.0,1025.6 1472.2,1029.9 1471.5,1031.4 L1471.5,1031.4 C1472.6,1031.0 1475.8,1030.4 1478.0,1029.4 C1480.3,1028.4 1482.9,1026.8 1485.0,1025.4 C1487.1,1023.9 1489.8,1021.4 1490.7,1020.6 L1490.7,1020.6 C1491.2,1019.4 1492.2,1016.1 1493.3,1013.6 C1494.5,1011.0 1496.4,1007.9 1497.7,1005.1 C1499.1,1002.2 1500.5,999.5 1501.5,996.6 C1502.6,993.6 1503.3,990.6 1503.9,987.6 C1504.5,984.6 1504.8,981.4 1505.0,978.6 C1505.2,975.7 1505.3,973.2 1505.2,970.6 C1505.2,967.9 1504.9,965.4 1504.7,962.6 C1504.5,959.7 1504.1,955.1 1504.0,953.6 Z" fill="#fff" stroke="none" stroke-width="0" stroke-linecap="round" stroke-linejoin="round" /><path d="M1488.0,961.1 C1488.1,962.6 1488.5,967.3 1488.7,970.6 C1488.9,973.9 1489.2,977.8 1489.2,980.9 C1489.2,983.9 1489.0,986.0 1488.7,988.9 C1488.4,991.7 1488.0,994.9 1487.3,997.9 C1486.6,1000.9 1485.7,1004.0 1484.5,1006.9 C1483.4,1009.7 1482.0,1012.2 1480.5,1014.9 C1479.0,1017.5 1477.0,1020.1 1475.5,1022.9 C1474.0,1025.6 1472.2,1029.9 1471.5,1031.4" fill="none" stroke="#000" stroke-width="2.3" stroke-linecap="round" stroke-linejoin="round" /><path d="M1504.0,953.6 C1504.1,955.1 1504.5,959.7 1504.7,962.6 C1504.9,965.4 1505.2,967.9 1505.2,970.6 C1505.3,973.2 1505.2,975.7 1505.0,978.6 C1504.8,981.4 1504.5,984.6 1503.9,987.6 C1503.3,990.6 1502.6,993.6 1501.5,996.6 C1500.5,999.5 1499.1,1002.2 1497.7,1005.1 C1496.4,1007.9 1494.5,1011.0 1493.3,1013.6 C1492.2,1016.1 1491.2,1019.4 1490.7,1020.6" fill="none" stroke="#000" stroke-width="2.3" stroke-linecap="round" stroke-linejoin="round" /><path d="M1471.5,1031.4 C1472.6,1031.0 1475.8,1030.4 1478.0,1029.4 C1480.3,1028.4 1482.9,1026.8 1485.0,1025.4 C1487.1,1023.9 1489.8,1021.4 1490.7,1020.6" fill="none" stroke="#000" stroke-width="2.4" stroke-linecap="round" stroke-linejoin="round" /><path d="M1488.0,961.1 L1504.0,953.6" fill="none" stroke="#000" stroke-width="2.4" stroke-linecap="round" stroke-linejoin="round" /><path d="M1505.0,968.6 L1508.3,968.3" fill="none" stroke="#000" stroke-width="1.8" stroke-linecap="round" stroke-linejoin="round" />
<path d="M1468.8,972.1 C1468.9,973.7 1469.3,978.3 1469.5,981.6 C1469.7,984.9 1470.0,988.9 1470.0,991.9 C1470.0,994.9 1469.8,997.1 1469.5,999.9 C1469.2,1002.7 1468.8,1005.9 1468.1,1008.9 C1467.4,1011.9 1466.4,1015.1 1465.3,1017.9 C1464.2,1020.7 1462.8,1023.2 1461.3,1025.9 C1459.8,1028.6 1457.8,1031.1 1456.3,1033.9 C1454.8,1036.6 1453.0,1041.0 1452.3,1042.4 L1452.3,1042.4 C1453.4,1042.1 1456.5,1041.4 1458.8,1040.4 C1461.0,1039.4 1463.7,1037.9 1465.8,1036.4 C1467.9,1034.9 1470.5,1032.4 1471.5,1031.6 L1471.5,1031.6 C1471.9,1030.4 1472.9,1027.2 1474.1,1024.6 C1475.3,1022.0 1477.1,1018.9 1478.5,1016.1 C1479.9,1013.3 1481.3,1010.5 1482.3,1007.6 C1483.3,1004.7 1484.1,1001.6 1484.7,998.6 C1485.3,995.6 1485.6,992.4 1485.8,989.6 C1486.0,986.8 1486.0,984.3 1486.0,981.6 C1486.0,978.9 1485.7,976.4 1485.5,973.6 C1485.3,970.8 1484.9,966.1 1484.8,964.6 Z" fill="#fff" stroke="none" stroke-width="0" stroke-linecap="round" stroke-linejoin="round" /><path d="M1468.8,972.1 C1468.9,973.7 1469.3,978.3 1469.5,981.6 C1469.7,984.9 1470.0,988.9 1470.0,991.9 C1470.0,994.9 1469.8,997.1 1469.5,999.9 C1469.2,1002.7 1468.8,1005.9 1468.1,1008.9 C1467.4,1011.9 1466.4,1015.1 1465.3,1017.9 C1464.2,1020.7 1462.8,1023.2 1461.3,1025.9 C1459.8,1028.6 1457.8,1031.1 1456.3,1033.9 C1454.8,1036.6 1453.0,1041.0 1452.3,1042.4" fill="none" stroke="#000" stroke-width="2.3" stroke-linecap="round" stroke-linejoin="round" /><path d="M1484.8,964.6 C1484.9,966.1 1485.3,970.8 1485.5,973.6 C1485.7,976.4 1486.0,978.9 1486.0,981.6 C1486.0,984.3 1486.0,986.8 1485.8,989.6 C1485.6,992.4 1485.3,995.6 1484.7,998.6 C1484.1,1001.6 1483.3,1004.7 1482.3,1007.6 C1481.3,1010.5 1479.9,1013.3 1478.5,1016.1 C1477.1,1018.9 1475.3,1022.0 1474.1,1024.6 C1472.9,1027.2 1471.9,1030.4 1471.5,1031.6" fill="none" stroke="#000" stroke-width="2.3" stroke-linecap="round" stroke-linejoin="round" /><path d="M1452.3,1042.4 C1453.4,1042.1 1456.5,1041.4 1458.8,1040.4 C1461.0,1039.4 1463.7,1037.9 1465.8,1036.4 C1467.9,1034.9 1470.5,1032.4 1471.5,1031.6" fill="none" stroke="#000" stroke-width="2.4" stroke-linecap="round" stroke-linejoin="round" /><path d="M1468.8,972.1 L1484.8,964.6" fill="none" stroke="#000" stroke-width="2.4" stroke-linecap="round" stroke-linejoin="round" /><path d="M1485.8,979.6 L1489.1,979.3" fill="none" stroke="#000" stroke-width="1.8" stroke-linecap="round" stroke-linejoin="round" />
<path d="M1449.6,983.1 C1449.7,984.7 1450.1,989.3 1450.3,992.6 C1450.5,995.9 1450.8,999.9 1450.8,1002.9 C1450.8,1006.0 1450.6,1008.1 1450.3,1010.9 C1450.0,1013.8 1449.6,1016.9 1448.9,1019.9 C1448.2,1022.9 1447.2,1026.1 1446.1,1028.9 C1444.9,1031.8 1443.6,1034.3 1442.1,1036.9 C1440.6,1039.6 1438.6,1042.2 1437.1,1044.9 C1435.6,1047.7 1433.7,1052.0 1433.1,1053.4 L1433.1,1053.4 C1434.2,1053.1 1437.3,1052.4 1439.6,1051.4 C1441.8,1050.4 1444.5,1048.9 1446.6,1047.4 C1448.7,1046.0 1451.3,1043.4 1452.3,1042.6 L1452.3,1042.6 C1452.7,1041.5 1453.7,1038.2 1454.9,1035.6 C1456.0,1033.1 1457.9,1030.0 1459.3,1027.1 C1460.6,1024.3 1462.0,1021.6 1463.1,1018.6 C1464.1,1015.7 1464.9,1012.6 1465.5,1009.6 C1466.1,1006.6 1466.4,1003.5 1466.6,1000.6 C1466.8,997.8 1466.8,995.3 1466.8,992.6 C1466.7,990.0 1466.5,987.5 1466.3,984.6 C1466.1,981.8 1465.7,977.1 1465.6,975.6 Z" fill="#fff" stroke="none" stroke-width="0" stroke-linecap="round" stroke-linejoin="round" /><path d="M1449.6,983.1 C1449.7,984.7 1450.1,989.3 1450.3,992.6 C1450.5,995.9 1450.8,999.9 1450.8,1002.9 C1450.8,1006.0 1450.6,1008.1 1450.3,1010.9 C1450.0,1013.8 1449.6,1016.9 1448.9,1019.9 C1448.2,1022.9 1447.2,1026.1 1446.1,1028.9 C1444.9,1031.8 1443.6,1034.3 1442.1,1036.9 C1440.6,1039.6 1438.6,1042.2 1437.1,1044.9 C1435.6,1047.7 1433.7,1052.0 1433.1,1053.4" fill="none" stroke="#000" stroke-width="2.3" stroke-linecap="round" stroke-linejoin="round" /><path d="M1465.6,975.6 C1465.7,977.1 1466.1,981.8 1466.3,984.6 C1466.5,987.5 1466.7,990.0 1466.8,992.6 C1466.8,995.3 1466.8,997.8 1466.6,1000.6 C1466.4,1003.5 1466.1,1006.6 1465.5,1009.6 C1464.9,1012.6 1464.1,1015.7 1463.1,1018.6 C1462.0,1021.6 1460.6,1024.3 1459.3,1027.1 C1457.9,1030.0 1456.0,1033.1 1454.9,1035.6 C1453.7,1038.2 1452.7,1041.5 1452.3,1042.6" fill="none" stroke="#000" stroke-width="2.3" stroke-linecap="round" stroke-linejoin="round" /><path d="M1433.1,1053.4 C1434.2,1053.1 1437.3,1052.4 1439.6,1051.4 C1441.8,1050.4 1444.5,1048.9 1446.6,1047.4 C1448.7,1046.0 1451.3,1043.4 1452.3,1042.6" fill="none" stroke="#000" stroke-width="2.4" stroke-linecap="round" stroke-linejoin="round" /><path d="M1449.6,983.1 L1465.6,975.6" fill="none" stroke="#000" stroke-width="2.4" stroke-linecap="round" stroke-linejoin="round" /><path d="M1466.6,990.6 L1469.9,990.3" fill="none" stroke="#000" stroke-width="1.8" stroke-linecap="round" stroke-linejoin="round" />
<path d="M1430.3,994.2 C1430.5,995.8 1430.8,1000.4 1431.0,1003.7 C1431.2,1007.0 1431.5,1010.9 1431.5,1014.0 C1431.5,1017.0 1431.4,1019.1 1431.0,1022.0 C1430.7,1024.8 1430.3,1028.0 1429.6,1031.0 C1428.9,1034.0 1428.0,1037.1 1426.8,1040.0 C1425.7,1042.8 1424.3,1045.3 1422.8,1048.0 C1421.3,1050.6 1419.3,1053.2 1417.8,1056.0 C1416.3,1058.7 1414.5,1063.1 1413.8,1064.5 L1413.8,1064.5 C1414.9,1064.1 1418.1,1063.5 1420.3,1062.5 C1422.6,1061.5 1425.2,1059.9 1427.3,1058.5 C1429.5,1057.0 1432.1,1054.5 1433.0,1053.7 L1433.0,1053.7 C1433.5,1052.5 1434.5,1049.3 1435.6,1046.7 C1436.8,1044.1 1438.7,1041.0 1440.0,1038.2 C1441.4,1035.3 1442.8,1032.6 1443.8,1029.7 C1444.9,1026.8 1445.7,1023.7 1446.2,1020.7 C1446.8,1017.7 1447.1,1014.5 1447.3,1011.7 C1447.6,1008.8 1447.6,1006.3 1447.5,1003.7 C1447.5,1001.0 1447.2,998.5 1447.0,995.7 C1446.8,992.8 1446.5,988.2 1446.3,986.7 Z" fill="#fff" stroke="none" stroke-width="0" stroke-linecap="round" stroke-linejoin="round" /><path d="M1430.3,994.2 C1430.5,995.8 1430.8,1000.4 1431.0,1003.7 C1431.2,1007.0 1431.5,1010.9 1431.5,1014.0 C1431.5,1017.0 1431.4,1019.1 1431.0,1022.0 C1430.7,1024.8 1430.3,1028.0 1429.6,1031.0 C1428.9,1034.0 1428.0,1037.1 1426.8,1040.0 C1425.7,1042.8 1424.3,1045.3 1422.8,1048.0 C1421.3,1050.6 1419.3,1053.2 1417.8,1056.0 C1416.3,1058.7 1414.5,1063.1 1413.8,1064.5" fill="none" stroke="#000" stroke-width="2.3" stroke-linecap="round" stroke-linejoin="round" /><path d="M1446.3,986.7 C1446.5,988.2 1446.8,992.8 1447.0,995.7 C1447.2,998.5 1447.5,1001.0 1447.5,1003.7 C1447.6,1006.3 1447.6,1008.8 1447.3,1011.7 C1447.1,1014.5 1446.8,1017.7 1446.2,1020.7 C1445.7,1023.7 1444.9,1026.8 1443.8,1029.7 C1442.8,1032.6 1441.4,1035.3 1440.0,1038.2 C1438.7,1041.0 1436.8,1044.1 1435.6,1046.7 C1434.5,1049.3 1433.5,1052.5 1433.0,1053.7" fill="none" stroke="#000" stroke-width="2.3" stroke-linecap="round" stroke-linejoin="round" /><path d="M1413.8,1064.5 C1414.9,1064.1 1418.1,1063.5 1420.3,1062.5 C1422.6,1061.5 1425.2,1059.9 1427.3,1058.5 C1429.5,1057.0 1432.1,1054.5 1433.0,1053.7" fill="none" stroke="#000" stroke-width="2.4" stroke-linecap="round" stroke-linejoin="round" /><path d="M1430.3,994.2 L1446.3,986.7" fill="none" stroke="#000" stroke-width="2.4" stroke-linecap="round" stroke-linejoin="round" /><path d="M1447.3,1001.7 L1450.6,1001.4" fill="none" stroke="#000" stroke-width="1.8" stroke-linecap="round" stroke-linejoin="round" />
<path d="M1411.1,1005.2 C1411.2,1006.8 1411.6,1011.4 1411.8,1014.7 C1412.0,1018.0 1412.3,1022.0 1412.3,1025.0 C1412.3,1028.1 1412.1,1030.2 1411.8,1033.0 C1411.5,1035.9 1411.1,1039.0 1410.4,1042.0 C1409.7,1045.0 1408.7,1048.2 1407.6,1051.0 C1406.5,1053.9 1405.1,1056.4 1403.6,1059.0 C1402.1,1061.7 1400.1,1064.3 1398.6,1067.0 C1397.1,1069.8 1395.3,1074.1 1394.6,1075.5 L1394.6,1075.5 C1395.7,1075.2 1398.9,1074.5 1401.1,1073.5 C1403.4,1072.5 1406.0,1071.0 1408.1,1069.5 C1410.2,1068.1 1412.9,1065.5 1413.8,1064.7 L1413.8,1064.7 C1414.2,1063.6 1415.2,1060.3 1416.4,1057.7 C1417.6,1055.1 1419.4,1052.1 1420.8,1049.2 C1422.2,1046.4 1423.6,1043.6 1424.6,1040.7 C1425.6,1037.8 1426.4,1034.7 1427.0,1031.7 C1427.6,1028.7 1427.9,1025.6 1428.1,1022.7 C1428.3,1019.9 1428.4,1017.4 1428.3,1014.7 C1428.3,1012.1 1428.0,1009.6 1427.8,1006.7 C1427.6,1003.9 1427.2,999.2 1427.1,997.7 Z" fill="#fff" stroke="none" stroke-width="0" stroke-linecap="round" stroke-linejoin="round" /><path d="M1411.1,1005.2 C1411.2,1006.8 1411.6,1011.4 1411.8,1014.7 C1412.0,1018.0 1412.3,1022.0 1412.3,1025.0 C1412.3,1028.1 1412.1,1030.2 1411.8,1033.0 C1411.5,1035.9 1411.1,1039.0 1410.4,1042.0 C1409.7,1045.0 1408.7,1048.2 1407.6,1051.0 C1406.5,1053.9 1405.1,1056.4 1403.6,1059.0 C1402.1,1061.7 1400.1,1064.3 1398.6,1067.0 C1397.1,1069.8 1395.3,1074.1 1394.6,1075.5" fill="none" stroke="#000" stroke-width="2.3" stroke-linecap="round" stroke-linejoin="round" /><path d="M1427.1,997.7 C1427.2,999.2 1427.6,1003.9 1427.8,1006.7 C1428.0,1009.6 1428.3,1012.1 1428.3,1014.7 C1428.4,1017.4 1428.3,1019.9 1428.1,1022.7 C1427.9,1025.6 1427.6,1028.7 1427.0,1031.7 C1426.4,1034.7 1425.6,1037.8 1424.6,1040.7 C1423.6,1043.6 1422.2,1046.4 1420.8,1049.2 C1419.4,1052.1 1417.6,1055.1 1416.4,1057.7 C1415.2,1060.3 1414.2,1063.6 1413.8,1064.7" fill="none" stroke="#000" stroke-width="2.3" stroke-linecap="round" stroke-linejoin="round" /><path d="M1394.6,1075.5 C1395.7,1075.2 1398.9,1074.5 1401.1,1073.5 C1403.4,1072.5 1406.0,1071.0 1408.1,1069.5 C1410.2,1068.1 1412.9,1065.5 1413.8,1064.7" fill="none" stroke="#000" stroke-width="2.4" stroke-linecap="round" stroke-linejoin="round" /><path d="M1411.1,1005.2 L1427.1,997.7" fill="none" stroke="#000" stroke-width="2.4" stroke-linecap="round" stroke-linejoin="round" /><path d="M1428.1,1012.7 L1431.4,1012.4" fill="none" stroke="#000" stroke-width="1.8" stroke-linecap="round" stroke-linejoin="round" />
<path d="M1391.9,1016.3 C1392.0,1017.8 1392.4,1022.5 1392.6,1025.8 C1392.8,1029.1 1393.1,1033.0 1393.1,1036.1 C1393.1,1039.1 1392.9,1041.2 1392.6,1044.1 C1392.3,1046.9 1391.9,1050.1 1391.2,1053.1 C1390.5,1056.1 1389.5,1059.2 1388.4,1062.1 C1387.2,1064.9 1385.9,1067.4 1384.4,1070.1 C1382.9,1072.7 1380.9,1075.3 1379.4,1078.1 C1377.9,1080.8 1376.0,1085.1 1375.4,1086.6 L1375.4,1086.6 C1376.5,1086.2 1379.6,1085.6 1381.9,1084.6 C1384.1,1083.6 1386.8,1082.0 1388.9,1080.6 C1391.0,1079.1 1393.6,1076.6 1394.6,1075.8 L1394.6,1075.8 C1395.0,1074.6 1396.0,1071.3 1397.2,1068.8 C1398.3,1066.2 1400.2,1063.1 1401.6,1060.3 C1402.9,1057.4 1404.3,1054.7 1405.4,1051.8 C1406.4,1048.8 1407.2,1045.8 1407.8,1042.8 C1408.4,1039.8 1408.7,1036.6 1408.9,1033.8 C1409.1,1030.9 1409.1,1028.4 1409.1,1025.8 C1409.0,1023.1 1408.8,1020.6 1408.6,1017.8 C1408.4,1014.9 1408.0,1010.3 1407.9,1008.8 Z" fill="#fff" stroke="none" stroke-width="0" stroke-linecap="round" stroke-linejoin="round" /><path d="M1391.9,1016.3 C1392.0,1017.8 1392.4,1022.5 1392.6,1025.8 C1392.8,1029.1 1393.1,1033.0 1393.1,1036.1 C1393.1,1039.1 1392.9,1041.2 1392.6,1044.1 C1392.3,1046.9 1391.9,1050.1 1391.2,1053.1 C1390.5,1056.1 1389.5,1059.2 1388.4,1062.1 C1387.2,1064.9 1385.9,1067.4 1384.4,1070.1 C1382.9,1072.7 1380.9,1075.3 1379.4,1078.1 C1377.9,1080.8 1376.0,1085.1 1375.4,1086.6" fill="none" stroke="#000" stroke-width="2.3" stroke-linecap="round" stroke-linejoin="round" /><path d="M1407.9,1008.8 C1408.0,1010.3 1408.4,1014.9 1408.6,1017.8 C1408.8,1020.6 1409.0,1023.1 1409.1,1025.8 C1409.1,1028.4 1409.1,1030.9 1408.9,1033.8 C1408.7,1036.6 1408.4,1039.8 1407.8,1042.8 C1407.2,1045.8 1406.4,1048.8 1405.4,1051.8 C1404.3,1054.7 1402.9,1057.4 1401.6,1060.3 C1400.2,1063.1 1398.3,1066.2 1397.2,1068.8 C1396.0,1071.3 1395.0,1074.6 1394.6,1075.8" fill="none" stroke="#000" stroke-width="2.3" stroke-linecap="round" stroke-linejoin="round" /><path d="M1375.4,1086.6 C1376.5,1086.2 1379.6,1085.6 1381.9,1084.6 C1384.1,1083.6 1386.8,1082.0 1388.9,1080.6 C1391.0,1079.1 1393.6,1076.6 1394.6,1075.8" fill="none" stroke="#000" stroke-width="2.4" stroke-linecap="round" stroke-linejoin="round" /><path d="M1391.9,1016.3 L1407.9,1008.8" fill="none" stroke="#000" stroke-width="2.4" stroke-linecap="round" stroke-linejoin="round" /><path d="M1408.9,1023.8 L1412.2,1023.5" fill="none" stroke="#000" stroke-width="1.8" stroke-linecap="round" stroke-linejoin="round" />
<path d="M1372.7,1027.3 C1372.8,1028.9 1373.2,1033.5 1373.4,1036.8 C1373.6,1040.1 1373.9,1044.0 1373.9,1047.1 C1373.9,1050.1 1373.7,1052.3 1373.4,1055.1 C1373.0,1057.9 1372.7,1061.1 1372.0,1064.1 C1371.2,1067.1 1370.3,1070.3 1369.2,1073.1 C1368.0,1075.9 1366.7,1078.4 1365.2,1081.1 C1363.7,1083.8 1361.7,1086.3 1360.2,1089.1 C1358.7,1091.8 1356.8,1096.2 1356.2,1097.6 L1356.2,1097.6 C1357.2,1097.3 1360.4,1096.6 1362.7,1095.6 C1364.9,1094.6 1367.5,1093.1 1369.7,1091.6 C1371.8,1090.1 1374.4,1087.6 1375.4,1086.8 L1375.4,1086.8 C1375.8,1085.6 1376.8,1082.4 1378.0,1079.8 C1379.1,1077.2 1381.0,1074.1 1382.4,1071.3 C1383.7,1068.5 1385.1,1065.7 1386.2,1062.8 C1387.2,1059.9 1388.0,1056.8 1388.6,1053.8 C1389.1,1050.8 1389.4,1047.6 1389.7,1044.8 C1389.9,1042.0 1389.9,1039.5 1389.9,1036.8 C1389.8,1034.1 1389.6,1031.6 1389.4,1028.8 C1389.2,1026.0 1388.8,1021.3 1388.7,1019.8 Z" fill="#fff" stroke="none" stroke-width="0" stroke-linecap="round" stroke-linejoin="round" /><path d="M1372.7,1027.3 C1372.8,1028.9 1373.2,1033.5 1373.4,1036.8 C1373.6,1040.1 1373.9,1044.0 1373.9,1047.1 C1373.9,1050.1 1373.7,1052.3 1373.4,1055.1 C1373.0,1057.9 1372.7,1061.1 1372.0,1064.1 C1371.2,1067.1 1370.3,1070.3 1369.2,1073.1 C1368.0,1075.9 1366.7,1078.4 1365.2,1081.1 C1363.7,1083.8 1361.7,1086.3 1360.2,1089.1 C1358.7,1091.8 1356.8,1096.2 1356.2,1097.6" fill="none" stroke="#000" stroke-width="2.3" stroke-linecap="round" stroke-linejoin="round" /><path d="M1388.7,1019.8 C1388.8,1021.3 1389.2,1026.0 1389.4,1028.8 C1389.6,1031.6 1389.8,1034.1 1389.9,1036.8 C1389.9,1039.5 1389.9,1042.0 1389.7,1044.8 C1389.4,1047.6 1389.1,1050.8 1388.6,1053.8 C1388.0,1056.8 1387.2,1059.9 1386.2,1062.8 C1385.1,1065.7 1383.7,1068.5 1382.4,1071.3 C1381.0,1074.1 1379.1,1077.2 1378.0,1079.8 C1376.8,1082.4 1375.8,1085.6 1375.4,1086.8" fill="none" stroke="#000" stroke-width="2.3" stroke-linecap="round" stroke-linejoin="round" /><path d="M1356.2,1097.6 C1357.2,1097.3 1360.4,1096.6 1362.7,1095.6 C1364.9,1094.6 1367.5,1093.1 1369.7,1091.6 C1371.8,1090.1 1374.4,1087.6 1375.4,1086.8" fill="none" stroke="#000" stroke-width="2.4" stroke-linecap="round" stroke-linejoin="round" /><path d="M1372.7,1027.3 L1388.7,1019.8" fill="none" stroke="#000" stroke-width="2.4" stroke-linecap="round" stroke-linejoin="round" /><path d="M1389.7,1034.8 L1393.0,1034.5" fill="none" stroke="#000" stroke-width="1.8" stroke-linecap="round" stroke-linejoin="round" />
<path d="M1353.4,1038.3 C1353.5,1039.9 1353.9,1044.5 1354.1,1047.8 C1354.3,1051.1 1354.6,1055.1 1354.6,1058.1 C1354.6,1061.2 1354.4,1063.3 1354.1,1066.1 C1353.8,1069.0 1353.4,1072.1 1352.7,1075.1 C1352.0,1078.1 1351.1,1081.3 1349.9,1084.1 C1348.8,1087.0 1347.4,1089.5 1345.9,1092.1 C1344.4,1094.8 1342.4,1097.4 1340.9,1100.1 C1339.4,1102.9 1337.6,1107.2 1336.9,1108.6 L1336.9,1108.6 C1338.0,1108.3 1341.2,1107.6 1343.4,1106.6 C1345.7,1105.6 1348.3,1104.1 1350.4,1102.6 C1352.5,1101.2 1355.2,1098.6 1356.1,1097.8 L1356.1,1097.8 C1356.6,1096.7 1357.6,1093.4 1358.7,1090.8 C1359.9,1088.3 1361.8,1085.2 1363.1,1082.3 C1364.5,1079.5 1365.9,1076.8 1366.9,1073.8 C1368.0,1070.9 1368.7,1067.8 1369.3,1064.8 C1369.9,1061.8 1370.2,1058.7 1370.4,1055.8 C1370.6,1053.0 1370.7,1050.5 1370.6,1047.8 C1370.6,1045.2 1370.3,1042.7 1370.1,1039.8 C1369.9,1037.0 1369.5,1032.3 1369.4,1030.8 Z" fill="#fff" stroke="none" stroke-width="0" stroke-linecap="round" stroke-linejoin="round" /><path d="M1353.4,1038.3 C1353.5,1039.9 1353.9,1044.5 1354.1,1047.8 C1354.3,1051.1 1354.6,1055.1 1354.6,1058.1 C1354.6,1061.2 1354.4,1063.3 1354.1,1066.1 C1353.8,1069.0 1353.4,1072.1 1352.7,1075.1 C1352.0,1078.1 1351.1,1081.3 1349.9,1084.1 C1348.8,1087.0 1347.4,1089.5 1345.9,1092.1 C1344.4,1094.8 1342.4,1097.4 1340.9,1100.1 C1339.4,1102.9 1337.6,1107.2 1336.9,1108.6" fill="none" stroke="#000" stroke-width="2.3" stroke-linecap="round" stroke-linejoin="round" /><path d="M1369.4,1030.8 C1369.5,1032.3 1369.9,1037.0 1370.1,1039.8 C1370.3,1042.7 1370.6,1045.2 1370.6,1047.8 C1370.7,1050.5 1370.6,1053.0 1370.4,1055.8 C1370.2,1058.7 1369.9,1061.8 1369.3,1064.8 C1368.7,1067.8 1368.0,1070.9 1366.9,1073.8 C1365.9,1076.8 1364.5,1079.5 1363.1,1082.3 C1361.8,1085.2 1359.9,1088.3 1358.7,1090.8 C1357.6,1093.4 1356.6,1096.7 1356.1,1097.8" fill="none" stroke="#000" stroke-width="2.3" stroke-linecap="round" stroke-linejoin="round" /><path d="M1336.9,1108.6 C1338.0,1108.3 1341.2,1107.6 1343.4,1106.6 C1345.7,1105.6 1348.3,1104.1 1350.4,1102.6 C1352.5,1101.2 1355.2,1098.6 1356.1,1097.8" fill="none" stroke="#000" stroke-width="2.4" stroke-linecap="round" stroke-linejoin="round" /><path d="M1353.4,1038.3 L1369.4,1030.8" fill="none" stroke="#000" stroke-width="2.4" stroke-linecap="round" stroke-linejoin="round" /><path d="M1370.4,1045.8 L1373.7,1045.5" fill="none" stroke="#000" stroke-width="1.8" stroke-linecap="round" stroke-linejoin="round" />
<path d="M1334.2,1049.4 C1334.3,1051.0 1334.7,1055.6 1334.9,1058.9 C1335.1,1062.2 1335.4,1066.1 1335.4,1069.2 C1335.4,1072.2 1335.2,1074.3 1334.9,1077.2 C1334.6,1080.0 1334.2,1083.2 1333.5,1086.2 C1332.8,1089.2 1331.8,1092.3 1330.7,1095.2 C1329.6,1098.0 1328.2,1100.5 1326.7,1103.2 C1325.2,1105.8 1323.2,1108.4 1321.7,1111.2 C1320.2,1113.9 1318.4,1118.3 1317.7,1119.7 L1317.7,1119.7 C1318.8,1119.3 1321.9,1118.7 1324.2,1117.7 C1326.4,1116.7 1329.1,1115.1 1331.2,1113.7 C1333.3,1112.2 1335.9,1109.7 1336.9,1108.9 L1336.9,1108.9 C1337.3,1107.7 1338.3,1104.5 1339.5,1101.9 C1340.7,1099.3 1342.5,1096.2 1343.9,1093.4 C1345.3,1090.5 1346.7,1087.8 1347.7,1084.9 C1348.7,1082.0 1349.5,1078.9 1350.1,1075.9 C1350.7,1072.9 1351.0,1069.7 1351.2,1066.9 C1351.4,1064.0 1351.4,1061.5 1351.4,1058.9 C1351.3,1056.2 1351.1,1053.7 1350.9,1050.9 C1350.7,1048.0 1350.3,1043.4 1350.2,1041.9 Z" fill="#fff" stroke="none" stroke-width="0" stroke-linecap="round" stroke-linejoin="round" /><path d="M1334.2,1049.4 C1334.3,1051.0 1334.7,1055.6 1334.9,1058.9 C1335.1,1062.2 1335.4,1066.1 1335.4,1069.2 C1335.4,1072.2 1335.2,1074.3 1334.9,1077.2 C1334.6,1080.0 1334.2,1083.2 1333.5,1086.2 C1332.8,1089.2 1331.8,1092.3 1330.7,1095.2 C1329.6,1098.0 1328.2,1100.5 1326.7,1103.2 C1325.2,1105.8 1323.2,1108.4 1321.7,1111.2 C1320.2,1113.9 1318.4,1118.3 1317.7,1119.7" fill="none" stroke="#000" stroke-width="2.3" stroke-linecap="round" stroke-linejoin="round" /><path d="M1350.2,1041.9 C1350.3,1043.4 1350.7,1048.0 1350.9,1050.9 C1351.1,1053.7 1351.3,1056.2 1351.4,1058.9 C1351.4,1061.5 1351.4,1064.0 1351.2,1066.9 C1351.0,1069.7 1350.7,1072.9 1350.1,1075.9 C1349.5,1078.9 1348.7,1082.0 1347.7,1084.9 C1346.7,1087.8 1345.3,1090.5 1343.9,1093.4 C1342.5,1096.2 1340.7,1099.3 1339.5,1101.9 C1338.3,1104.5 1337.3,1107.7 1336.9,1108.9" fill="none" stroke="#000" stroke-width="2.3" stroke-linecap="round" stroke-linejoin="round" /><path d="M1317.7,1119.7 C1318.8,1119.3 1321.9,1118.7 1324.2,1117.7 C1326.4,1116.7 1329.1,1115.1 1331.2,1113.7 C1333.3,1112.2 1335.9,1109.7 1336.9,1108.9" fill="none" stroke="#000" stroke-width="2.4" stroke-linecap="round" stroke-linejoin="round" /><path d="M1334.2,1049.4 L1350.2,1041.9" fill="none" stroke="#000" stroke-width="2.4" stroke-linecap="round" stroke-linejoin="round" /><path d="M1351.2,1056.9 L1354.5,1056.6" fill="none" stroke="#000" stroke-width="1.8" stroke-linecap="round" stroke-linejoin="round" />
<path d="M1315.0,1060.4 C1315.1,1062.0 1315.5,1066.6 1315.7,1069.9 C1315.9,1073.2 1316.2,1077.2 1316.2,1080.2 C1316.2,1083.3 1316.0,1085.4 1315.7,1088.2 C1315.3,1091.1 1315.0,1094.2 1314.3,1097.2 C1313.6,1100.2 1312.6,1103.4 1311.5,1106.2 C1310.3,1109.1 1309.0,1111.6 1307.5,1114.2 C1306.0,1116.9 1304.0,1119.5 1302.5,1122.2 C1301.0,1125.0 1299.1,1129.3 1298.5,1130.7 L1298.5,1130.7 C1299.5,1130.4 1302.7,1129.7 1305.0,1128.7 C1307.2,1127.7 1309.8,1126.2 1312.0,1124.7 C1314.1,1123.3 1316.7,1120.7 1317.7,1119.9 L1317.7,1119.9 C1318.1,1118.8 1319.1,1115.5 1320.3,1112.9 C1321.4,1110.3 1323.3,1107.3 1324.7,1104.4 C1326.0,1101.6 1327.4,1098.8 1328.5,1095.9 C1329.5,1093.0 1330.3,1089.9 1330.9,1086.9 C1331.4,1083.9 1331.7,1080.8 1332.0,1077.9 C1332.2,1075.1 1332.2,1072.6 1332.2,1069.9 C1332.1,1067.3 1331.9,1064.8 1331.7,1061.9 C1331.5,1059.1 1331.1,1054.4 1331.0,1052.9 Z" fill="#fff" stroke="none" stroke-width="0" stroke-linecap="round" stroke-linejoin="round" /><path d="M1315.0,1060.4 C1315.1,1062.0 1315.5,1066.6 1315.7,1069.9 C1315.9,1073.2 1316.2,1077.2 1316.2,1080.2 C1316.2,1083.3 1316.0,1085.4 1315.7,1088.2 C1315.3,1091.1 1315.0,1094.2 1314.3,1097.2 C1313.6,1100.2 1312.6,1103.4 1311.5,1106.2 C1310.3,1109.1 1309.0,1111.6 1307.5,1114.2 C1306.0,1116.9 1304.0,1119.5 1302.5,1122.2 C1301.0,1125.0 1299.1,1129.3 1298.5,1130.7" fill="none" stroke="#000" stroke-width="2.3" stroke-linecap="round" stroke-linejoin="round" /><path d="M1331.0,1052.9 C1331.1,1054.4 1331.5,1059.1 1331.7,1061.9 C1331.9,1064.8 1332.1,1067.3 1332.2,1069.9 C1332.2,1072.6 1332.2,1075.1 1332.0,1077.9 C1331.7,1080.8 1331.4,1083.9 1330.9,1086.9 C1330.3,1089.9 1329.5,1093.0 1328.5,1095.9 C1327.4,1098.8 1326.0,1101.6 1324.7,1104.4 C1323.3,1107.3 1321.4,1110.3 1320.3,1112.9 C1319.1,1115.5 1318.1,1118.8 1317.7,1119.9" fill="none" stroke="#000" stroke-width="2.3" stroke-linecap="round" stroke-linejoin="round" /><path d="M1298.5,1130.7 C1299.5,1130.4 1302.7,1129.7 1305.0,1128.7 C1307.2,1127.7 1309.8,1126.2 1312.0,1124.7 C1314.1,1123.3 1316.7,1120.7 1317.7,1119.9" fill="none" stroke="#000" stroke-width="2.4" stroke-linecap="round" stroke-linejoin="round" /><path d="M1315.0,1060.4 L1331.0,1052.9" fill="none" stroke="#000" stroke-width="2.4" stroke-linecap="round" stroke-linejoin="round" /><path d="M1332.0,1067.9 L1335.3,1067.6" fill="none" stroke="#000" stroke-width="1.8" stroke-linecap="round" stroke-linejoin="round" />
<path d="M1295.7,1071.5 C1295.8,1073.0 1296.2,1077.7 1296.4,1081.0 C1296.6,1084.3 1296.9,1088.2 1296.9,1091.3 C1296.9,1094.3 1296.7,1096.4 1296.4,1099.3 C1296.1,1102.1 1295.7,1105.3 1295.0,1108.3 C1294.3,1111.3 1293.4,1114.4 1292.2,1117.3 C1291.1,1120.1 1289.7,1122.6 1288.2,1125.3 C1286.7,1127.9 1284.7,1130.5 1283.2,1133.3 C1281.7,1136.0 1279.9,1140.3 1279.2,1141.8 L1279.2,1141.8 C1280.3,1141.4 1283.5,1140.8 1285.7,1139.8 C1288.0,1138.8 1290.6,1137.2 1292.7,1135.8 C1294.8,1134.3 1297.5,1131.8 1298.4,1131.0 L1298.4,1131.0 C1298.9,1129.8 1299.9,1126.5 1301.0,1124.0 C1302.2,1121.4 1304.1,1118.3 1305.4,1115.5 C1306.8,1112.6 1308.2,1109.9 1309.2,1107.0 C1310.3,1104.0 1311.0,1101.0 1311.6,1098.0 C1312.2,1095.0 1312.5,1091.8 1312.7,1089.0 C1312.9,1086.1 1313.0,1083.6 1312.9,1081.0 C1312.9,1078.3 1312.6,1075.8 1312.4,1073.0 C1312.2,1070.1 1311.8,1065.5 1311.7,1064.0 Z" fill="#fff" stroke="none" stroke-width="0" stroke-linecap="round" stroke-linejoin="round" /><path d="M1295.7,1071.5 C1295.8,1073.0 1296.2,1077.7 1296.4,1081.0 C1296.6,1084.3 1296.9,1088.2 1296.9,1091.3 C1296.9,1094.3 1296.7,1096.4 1296.4,1099.3 C1296.1,1102.1 1295.7,1105.3 1295.0,1108.3 C1294.3,1111.3 1293.4,1114.4 1292.2,1117.3 C1291.1,1120.1 1289.7,1122.6 1288.2,1125.3 C1286.7,1127.9 1284.7,1130.5 1283.2,1133.3 C1281.7,1136.0 1279.9,1140.3 1279.2,1141.8" fill="none" stroke="#000" stroke-width="2.3" stroke-linecap="round" stroke-linejoin="round" /><path d="M1311.7,1064.0 C1311.8,1065.5 1312.2,1070.1 1312.4,1073.0 C1312.6,1075.8 1312.9,1078.3 1312.9,1081.0 C1313.0,1083.6 1312.9,1086.1 1312.7,1089.0 C1312.5,1091.8 1312.2,1095.0 1311.6,1098.0 C1311.0,1101.0 1310.3,1104.0 1309.2,1107.0 C1308.2,1109.9 1306.8,1112.6 1305.4,1115.5 C1304.1,1118.3 1302.2,1121.4 1301.0,1124.0 C1299.9,1126.5 1298.9,1129.8 1298.4,1131.0" fill="none" stroke="#000" stroke-width="2.3" stroke-linecap="round" stroke-linejoin="round" /><path d="M1279.2,1141.8 C1280.3,1141.4 1283.5,1140.8 1285.7,1139.8 C1288.0,1138.8 1290.6,1137.2 1292.7,1135.8 C1294.8,1134.3 1297.5,1131.8 1298.4,1131.0" fill="none" stroke="#000" stroke-width="2.4" stroke-linecap="round" stroke-linejoin="round" /><path d="M1295.7,1071.5 L1311.7,1064.0" fill="none" stroke="#000" stroke-width="2.4" stroke-linecap="round" stroke-linejoin="round" /><path d="M1312.7,1079.0 L1316.0,1078.7" fill="none" stroke="#000" stroke-width="1.8" stroke-linecap="round" stroke-linejoin="round" />
<path d="M1276.5,1082.5 C1276.6,1084.1 1277.0,1088.7 1277.2,1092.0 C1277.4,1095.3 1277.7,1099.2 1277.7,1102.3 C1277.7,1105.3 1277.5,1107.5 1277.2,1110.3 C1276.9,1113.1 1276.5,1116.3 1275.8,1119.3 C1275.1,1122.3 1274.1,1125.5 1273.0,1128.3 C1271.9,1131.1 1270.5,1133.6 1269.0,1136.3 C1267.5,1139.0 1265.5,1141.5 1264.0,1144.3 C1262.5,1147.0 1260.7,1151.4 1260.0,1152.8 L1260.0,1152.8 C1261.1,1152.5 1264.2,1151.8 1266.5,1150.8 C1268.8,1149.8 1271.4,1148.3 1273.5,1146.8 C1275.6,1145.3 1278.2,1142.8 1279.2,1142.0 L1279.2,1142.0 C1279.6,1140.8 1280.6,1137.6 1281.8,1135.0 C1283.0,1132.4 1284.8,1129.3 1286.2,1126.5 C1287.6,1123.7 1289.0,1120.9 1290.0,1118.0 C1291.0,1115.1 1291.8,1112.0 1292.4,1109.0 C1293.0,1106.0 1293.3,1102.8 1293.5,1100.0 C1293.7,1097.2 1293.8,1094.7 1293.7,1092.0 C1293.7,1089.3 1293.4,1086.8 1293.2,1084.0 C1293.0,1081.2 1292.6,1076.5 1292.5,1075.0 Z" fill="#fff" stroke="none" stroke-width="0" stroke-linecap="round" stroke-linejoin="round" /><path d="M1276.5,1082.5 C1276.6,1084.1 1277.0,1088.7 1277.2,1092.0 C1277.4,1095.3 1277.7,1099.2 1277.7,1102.3 C1277.7,1105.3 1277.5,1107.5 1277.2,1110.3 C1276.9,1113.1 1276.5,1116.3 1275.8,1119.3 C1275.1,1122.3 1274.1,1125.5 1273.0,1128.3 C1271.9,1131.1 1270.5,1133.6 1269.0,1136.3 C1267.5,1139.0 1265.5,1141.5 1264.0,1144.3 C1262.5,1147.0 1260.7,1151.4 1260.0,1152.8" fill="none" stroke="#000" stroke-width="2.3" stroke-linecap="round" stroke-linejoin="round" /><path d="M1292.5,1075.0 C1292.6,1076.5 1293.0,1081.2 1293.2,1084.0 C1293.4,1086.8 1293.7,1089.3 1293.7,1092.0 C1293.8,1094.7 1293.7,1097.2 1293.5,1100.0 C1293.3,1102.8 1293.0,1106.0 1292.4,1109.0 C1291.8,1112.0 1291.0,1115.1 1290.0,1118.0 C1289.0,1120.9 1287.6,1123.7 1286.2,1126.5 C1284.8,1129.3 1283.0,1132.4 1281.8,1135.0 C1280.6,1137.6 1279.6,1140.8 1279.2,1142.0" fill="none" stroke="#000" stroke-width="2.3" stroke-linecap="round" stroke-linejoin="round" /><path d="M1260.0,1152.8 C1261.1,1152.5 1264.2,1151.8 1266.5,1150.8 C1268.8,1149.8 1271.4,1148.3 1273.5,1146.8 C1275.6,1145.3 1278.2,1142.8 1279.2,1142.0" fill="none" stroke="#000" stroke-width="2.4" stroke-linecap="round" stroke-linejoin="round" /><path d="M1276.5,1082.5 L1292.5,1075.0" fill="none" stroke="#000" stroke-width="2.4" stroke-linecap="round" stroke-linejoin="round" /><path d="M1293.5,1090.0 L1296.8,1089.7" fill="none" stroke="#000" stroke-width="1.8" stroke-linecap="round" stroke-linejoin="round" />
<path d="M1257.3,1093.5 C1257.4,1095.1 1257.8,1099.7 1258.0,1103.0 C1258.2,1106.3 1258.5,1110.3 1258.5,1113.3 C1258.5,1116.4 1258.3,1118.5 1258.0,1121.3 C1257.7,1124.2 1257.3,1127.3 1256.6,1130.3 C1255.9,1133.3 1254.9,1136.5 1253.8,1139.3 C1252.6,1142.2 1251.3,1144.7 1249.8,1147.3 C1248.3,1150.0 1246.3,1152.6 1244.8,1155.3 C1243.3,1158.1 1241.4,1162.4 1240.8,1163.8 L1240.8,1163.8 C1241.9,1163.5 1245.0,1162.8 1247.3,1161.8 C1249.5,1160.8 1252.2,1159.3 1254.3,1157.8 C1256.4,1156.4 1259.0,1153.8 1260.0,1153.0 L1260.0,1153.0 C1260.4,1151.9 1261.4,1148.6 1262.6,1146.0 C1263.7,1143.5 1265.6,1140.4 1267.0,1137.5 C1268.3,1134.7 1269.7,1132.0 1270.8,1129.0 C1271.8,1126.1 1272.6,1123.0 1273.2,1120.0 C1273.8,1117.0 1274.1,1113.9 1274.3,1111.0 C1274.5,1108.2 1274.5,1105.7 1274.5,1103.0 C1274.4,1100.4 1274.2,1097.9 1274.0,1095.0 C1273.8,1092.2 1273.4,1087.5 1273.3,1086.0 Z" fill="#fff" stroke="none" stroke-width="0" stroke-linecap="round" stroke-linejoin="round" /><path d="M1257.3,1093.5 C1257.4,1095.1 1257.8,1099.7 1258.0,1103.0 C1258.2,1106.3 1258.5,1110.3 1258.5,1113.3 C1258.5,1116.4 1258.3,1118.5 1258.0,1121.3 C1257.7,1124.2 1257.3,1127.3 1256.6,1130.3 C1255.9,1133.3 1254.9,1136.5 1253.8,1139.3 C1252.6,1142.2 1251.3,1144.7 1249.8,1147.3 C1248.3,1150.0 1246.3,1152.6 1244.8,1155.3 C1243.3,1158.1 1241.4,1162.4 1240.8,1163.8" fill="none" stroke="#000" stroke-width="2.3" stroke-linecap="round" stroke-linejoin="round" /><path d="M1273.3,1086.0 C1273.4,1087.5 1273.8,1092.2 1274.0,1095.0 C1274.2,1097.9 1274.4,1100.4 1274.5,1103.0 C1274.5,1105.7 1274.5,1108.2 1274.3,1111.0 C1274.1,1113.9 1273.8,1117.0 1273.2,1120.0 C1272.6,1123.0 1271.8,1126.1 1270.8,1129.0 C1269.7,1132.0 1268.3,1134.7 1267.0,1137.5 C1265.6,1140.4 1263.7,1143.5 1262.6,1146.0 C1261.4,1148.6 1260.4,1151.9 1260.0,1153.0" fill="none" stroke="#000" stroke-width="2.3" stroke-linecap="round" stroke-linejoin="round" /><path d="M1240.8,1163.8 C1241.9,1163.5 1245.0,1162.8 1247.3,1161.8 C1249.5,1160.8 1252.2,1159.3 1254.3,1157.8 C1256.4,1156.4 1259.0,1153.8 1260.0,1153.0" fill="none" stroke="#000" stroke-width="2.4" stroke-linecap="round" stroke-linejoin="round" /><path d="M1257.3,1093.5 L1273.3,1086.0" fill="none" stroke="#000" stroke-width="2.4" stroke-linecap="round" stroke-linejoin="round" /><path d="M1274.3,1101.0 L1277.6,1100.7" fill="none" stroke="#000" stroke-width="1.8" stroke-linecap="round" stroke-linejoin="round" />
<path d="M1260.5,1062.2 L1516.7,914.9" fill="none" stroke="#000" stroke-width="2.3" stroke-linecap="round" stroke-linejoin="round" />
<path d="M1266.5,1070.5 L1522.7,922.7 L1523.3,941.3 L1507.3,950.0" fill="none" stroke="#000" stroke-width="2.3" stroke-linecap="round" stroke-linejoin="round" />
<path d="M1308.5,849.0 C1308.9,847.5 1309.6,842.5 1311.0,840.0 C1312.4,837.5 1314.7,835.3 1317.0,834.0 C1319.3,832.7 1322.5,831.8 1325.0,832.0 C1327.5,832.2 1329.7,833.5 1332.0,835.0 C1334.3,836.5 1336.8,838.7 1339.0,841.0 C1341.2,843.3 1342.8,846.2 1345.0,849.0 C1347.2,851.8 1349.5,855.3 1352.0,858.0 C1354.5,860.7 1357.7,863.2 1360.0,865.0 C1362.3,866.8 1365.0,868.3 1366.0,869.0 L1423.0,912.0 L1423.0,912.0 C1424.2,912.7 1427.2,914.8 1430.0,916.0 C1432.8,917.2 1437.0,917.7 1440.0,919.0 C1443.0,920.3 1445.7,922.0 1448.0,924.0 C1450.3,926.0 1452.3,928.3 1454.0,931.0 C1455.7,933.7 1457.1,936.9 1458.0,940.0 C1458.9,943.1 1459.4,946.7 1459.3,949.3 C1459.2,952.0 1459.1,953.3 1457.3,956.0 C1455.6,958.7 1451.6,961.7 1448.7,965.3 C1445.8,969.0 1441.4,975.9 1440.0,978.0 L1433.3,980.7 L1428.0,965.3 L1320.0,880.0 Z" fill="#fff" stroke="none" stroke-width="0" stroke-linecap="round" stroke-linejoin="round" />
<path d="M1308.5,849.0 C1308.9,847.5 1309.6,842.5 1311.0,840.0 C1312.4,837.5 1314.7,835.3 1317.0,834.0 C1319.3,832.7 1322.5,831.8 1325.0,832.0 C1327.5,832.2 1329.7,833.5 1332.0,835.0 C1334.3,836.5 1336.8,838.7 1339.0,841.0 C1341.2,843.3 1342.8,846.2 1345.0,849.0 C1347.2,851.8 1349.5,855.3 1352.0,858.0 C1354.5,860.7 1357.7,863.2 1360.0,865.0 C1362.3,866.8 1365.0,868.3 1366.0,869.0 L1423.0,912.0 L1423.0,912.0 C1424.2,912.7 1427.2,914.8 1430.0,916.0 C1432.8,917.2 1437.0,917.7 1440.0,919.0 C1443.0,920.3 1445.7,922.0 1448.0,924.0 C1450.3,926.0 1452.3,928.3 1454.0,931.0 C1455.7,933.7 1457.1,936.9 1458.0,940.0 C1458.9,943.1 1459.4,946.7 1459.3,949.3 C1459.2,952.0 1459.1,953.3 1457.3,956.0 C1455.6,958.7 1451.6,961.7 1448.7,965.3 C1445.8,969.0 1441.4,975.9 1440.0,978.0" fill="none" stroke="#000" stroke-width="2.3" stroke-linecap="round" stroke-linejoin="round" />
<path d="M1320.0,835.0 C1321.2,835.3 1324.7,835.7 1327.0,837.0 C1329.3,838.3 1331.8,840.7 1334.0,843.0 C1336.2,845.3 1338.0,848.3 1340.0,851.0 C1342.0,853.7 1343.8,856.5 1346.0,859.0 C1348.2,861.5 1350.7,863.8 1353.0,866.0 C1355.3,868.2 1358.8,871.0 1360.0,872.0 L1415.0,913.5 L1415.0,913.5 C1416.3,914.3 1420.0,917.2 1423.0,918.5 C1426.0,919.8 1430.2,920.3 1433.0,921.5 C1435.8,922.7 1438.0,923.8 1440.0,925.5 C1442.0,927.2 1443.7,929.6 1445.0,932.0 C1446.3,934.4 1446.6,936.7 1448.0,940.0 C1449.4,943.3 1453.2,948.7 1453.3,952.0 C1453.4,955.3 1449.4,958.7 1448.7,960.0" fill="none" stroke="#000" stroke-width="2.2" stroke-linecap="round" stroke-linejoin="round" />
<path d="M1334.0,843.5 L1337.5,841.5" fill="none" stroke="#000" stroke-width="1.6" stroke-linecap="round" stroke-linejoin="round" />
<path d="M1342.0,853.5 L1345.0,851.5" fill="none" stroke="#000" stroke-width="1.6" stroke-linecap="round" stroke-linejoin="round" />
<path d="M1353.0,866.5 L1355.5,864.5" fill="none" stroke="#000" stroke-width="1.6" stroke-linecap="round" stroke-linejoin="round" />
<path d="M1415.0,913.5 L1418.0,911.5" fill="none" stroke="#000" stroke-width="1.6" stroke-linecap="round" stroke-linejoin="round" />
<path d="M1427.0,920.0 L1429.0,918.0" fill="none" stroke="#000" stroke-width="1.6" stroke-linecap="round" stroke-linejoin="round" />
<path d="M1437.0,923.2 L1438.5,921.0" fill="none" stroke="#000" stroke-width="1.6" stroke-linecap="round" stroke-linejoin="round" />
<path d="M1448.7,965.3 L1440.0,978.0 L1433.3,980.7 L1432.7,976.0 L1428.7,965.6 L1426.0,963.3" fill="none" stroke="#000" stroke-width="2.3" stroke-linecap="round" stroke-linejoin="round" />
<path d="M1448.7,965.3 L1440.0,978.0" fill="none" stroke="#000" stroke-width="3.6" stroke-linecap="round" stroke-linejoin="round" />
<path d="M1274.5,919.7 L1327.9,887.0 L1404.9,946.0" fill="none" stroke="#000" stroke-width="2.2" stroke-linecap="round" stroke-linejoin="round" />
<path d="M1320.9,877.4 L1323.8,887.0" fill="none" stroke="#000" stroke-width="2.0" stroke-linecap="round" stroke-linejoin="round" />
<path d="M1308.6,880.0 C1309.4,879.2 1311.2,876.0 1313.0,875.1 C1314.7,874.2 1318.0,873.9 1319.1,874.4 C1320.3,874.9 1320.9,876.4 1320.0,877.9 C1319.1,879.4 1315.8,882.7 1313.9,883.5 C1312.0,884.3 1309.5,882.8 1308.6,882.6" fill="none" stroke="#000" stroke-width="1.8" stroke-linecap="round" stroke-linejoin="round" />
<path d="M1244.7,887.0 L1318.2,845.9 L1318.2,845.9 C1320.0,845.9 1325.9,844.4 1328.7,845.9 C1331.6,847.3 1334.5,851.5 1335.4,854.6 C1336.3,857.7 1334.2,862.9 1334.0,864.6 L1258.7,907.5 Z" fill="#fff" stroke="#000" stroke-width="2.2" stroke-linecap="round" stroke-linejoin="round" />
<path d="M1355.0,973.6 L1432.0,931.6 L1432.0,931.6 C1433.7,931.5 1439.8,929.2 1442.5,931.1 C1445.2,933.0 1447.7,938.6 1448.1,943.0 C1448.4,947.4 1445.2,955.0 1444.6,957.3 L1368.1,998.6 Z" fill="#fff" stroke="#000" stroke-width="2.2" stroke-linecap="round" stroke-linejoin="round" />
<path d="M1369.3,995.1 L1432.0,962.6" fill="none" stroke="#000" stroke-width="1.8" stroke-linecap="round" stroke-linejoin="round" />
<path d="M1432.0,962.6 L1433.7,968.4 L1437.2,972.7" fill="none" stroke="#000" stroke-width="1.8" stroke-linecap="round" stroke-linejoin="round" />
<path d="M1210.5,927.0 L1218.0,895.0 M1218.0,895.0 C1218.6,894.1 1219.8,891.0 1221.5,889.5 C1223.2,888.0 1226.2,886.8 1228.0,886.0 C1229.8,885.2 1230.0,884.8 1232.0,885.0 C1234.0,885.2 1237.7,886.0 1240.0,887.5 C1242.3,889.0 1244.0,891.4 1246.0,894.0 C1248.0,896.6 1249.8,900.3 1252.0,903.0 C1254.2,905.7 1256.8,907.8 1259.0,910.0 C1261.2,912.2 1264.0,915.0 1265.0,916.0 L1327.0,964.0 L1327.0,964.0 C1328.3,964.8 1332.0,967.2 1335.0,968.5 C1338.0,969.8 1342.2,970.2 1345.0,971.5 C1347.8,972.8 1349.8,974.3 1352.0,976.0 C1354.2,977.7 1356.2,978.8 1358.5,981.5 C1360.7,984.2 1364.2,988.5 1365.5,992.0 C1366.8,995.5 1367.2,997.8 1366.4,1002.5 C1365.5,1007.2 1361.3,1017.1 1360.2,1020.0 L1344.0,1033.5 L1341.4,1028.2 L1236.5,941.2 L1232.0,941.0 C1231.8,939.5 1231.0,934.2 1230.5,932.0 C1230.0,929.8 1229.7,928.6 1229.0,927.5 C1228.3,926.4 1227.2,925.7 1226.5,925.5 C1225.8,925.3 1225.2,925.4 1224.5,926.5 C1223.8,927.6 1223.2,930.4 1222.5,932.0 C1221.8,933.6 1221.1,935.2 1220.0,936.0 C1218.9,936.8 1217.3,937.2 1216.0,936.5 C1214.7,935.8 1212.9,933.6 1212.0,932.0 C1211.1,930.4 1210.8,927.8 1210.5,927.0 Z" fill="#fff" stroke="none" stroke-width="0" stroke-linecap="round" stroke-linejoin="round" />
<path d="M1210.5,927.0 L1218.0,895.0 M1218.0,895.0 C1218.6,894.1 1219.8,891.0 1221.5,889.5 C1223.2,888.0 1226.2,886.8 1228.0,886.0 C1229.8,885.2 1230.0,884.8 1232.0,885.0 C1234.0,885.2 1237.7,886.0 1240.0,887.5 C1242.3,889.0 1244.0,891.4 1246.0,894.0 C1248.0,896.6 1249.8,900.3 1252.0,903.0 C1254.2,905.7 1256.8,907.8 1259.0,910.0 C1261.2,912.2 1264.0,915.0 1265.0,916.0 L1327.0,964.0 L1327.0,964.0 C1328.3,964.8 1332.0,967.2 1335.0,968.5 C1338.0,969.8 1342.2,970.2 1345.0,971.5 C1347.8,972.8 1349.8,974.3 1352.0,976.0 C1354.2,977.7 1356.2,978.8 1358.5,981.5 C1360.7,984.2 1364.2,988.5 1365.5,992.0 C1366.8,995.5 1367.2,997.8 1366.4,1002.5 C1365.5,1007.2 1361.3,1017.1 1360.2,1020.0" fill="none" stroke="#000" stroke-width="2.3" stroke-linecap="round" stroke-linejoin="round" />
<path d="M1210.5,927.0 C1210.8,927.8 1211.1,930.4 1212.0,932.0 C1212.9,933.6 1214.7,935.8 1216.0,936.5 C1217.3,937.2 1218.9,936.8 1220.0,936.0 C1221.1,935.2 1221.8,933.6 1222.5,932.0 C1223.2,930.4 1223.8,927.6 1224.5,926.5 C1225.2,925.4 1225.8,925.3 1226.5,925.5 C1227.2,925.7 1228.3,926.4 1229.0,927.5 C1229.7,928.6 1230.0,929.8 1230.5,932.0 C1231.0,934.2 1231.8,939.5 1232.0,941.0" fill="none" stroke="#000" stroke-width="2.3" stroke-linecap="round" stroke-linejoin="round" />
<path d="M1230.0,888.5 C1231.3,889.2 1235.7,891.1 1238.0,893.0 C1240.3,894.9 1242.0,897.3 1244.0,900.0 C1246.0,902.7 1248.0,906.7 1250.0,909.0 C1252.0,911.3 1254.0,912.2 1256.0,914.0 C1258.0,915.8 1261.0,919.0 1262.0,920.0 L1323.0,966.0 L1323.0,966.0 C1324.5,966.8 1329.2,969.7 1332.0,971.0 C1334.8,972.3 1337.5,972.8 1340.0,974.0 C1342.5,975.2 1345.0,976.7 1347.0,978.5 C1349.0,980.3 1350.8,982.6 1352.0,985.0 C1353.2,987.4 1353.7,991.7 1354.0,993.0" fill="none" stroke="#000" stroke-width="2.2" stroke-linecap="round" stroke-linejoin="round" />
<path d="M1243.0,896.8 L1246.2,894.6" fill="none" stroke="#000" stroke-width="1.6" stroke-linecap="round" stroke-linejoin="round" />
<path d="M1249.5,907.2 L1252.8,904.8" fill="none" stroke="#000" stroke-width="1.6" stroke-linecap="round" stroke-linejoin="round" />
<path d="M1260.0,918.0 L1262.8,915.2" fill="none" stroke="#000" stroke-width="1.6" stroke-linecap="round" stroke-linejoin="round" />
<path d="M1323.0,966.0 L1325.8,963.5" fill="none" stroke="#000" stroke-width="1.6" stroke-linecap="round" stroke-linejoin="round" />
<path d="M1333.5,971.5 L1335.2,969.0" fill="none" stroke="#000" stroke-width="1.6" stroke-linecap="round" stroke-linejoin="round" />
<path d="M1342.0,974.8 L1344.0,971.8" fill="none" stroke="#000" stroke-width="1.6" stroke-linecap="round" stroke-linejoin="round" />
<ellipse cx="1232.2" cy="909.5" rx="10" ry="12.2" transform="rotate(-22 1232.2 909.5)" fill="#fff" stroke="#000" stroke-width="2.4"/>
<ellipse cx="1230.0" cy="908.9" rx="7.2" ry="10" transform="rotate(-22 1232.2 909.5)" fill="#fff" stroke="#000" stroke-width="2.4"/>
<ellipse cx="1344.5" cy="996.4" rx="10" ry="12.2" transform="rotate(-22 1344.5 996.4)" fill="#fff" stroke="#000" stroke-width="2.4"/>
<ellipse cx="1342.3" cy="995.8" rx="7.2" ry="10" transform="rotate(-22 1344.5 996.4)" fill="#fff" stroke="#000" stroke-width="2.4"/>
<path d="M1180.0,973.6 L1236.5,941.0 L1328.7,1020.0" fill="none" stroke="#000" stroke-width="2.3" stroke-linecap="round" stroke-linejoin="round" />
<path d="M1333.5,1017.7 L1341.4,1028.6 L1344.0,1033.5 L1354.5,1019.5 L1365.0,1003.7" fill="none" stroke="#000" stroke-width="2.2" stroke-linecap="round" stroke-linejoin="round" />
<path d="M1128.0,1084.0 L1163.0,1066.0" fill="none" stroke="#000" stroke-width="2.2" stroke-linecap="round" stroke-linejoin="round" />
<path d="M1134.0,1088.2 L1165.0,1071.2" fill="none" stroke="#000" stroke-width="2.2" stroke-linecap="round" stroke-linejoin="round" />
<path d="M1119.5,1043.5 L1142.0,1030.0 L1151.5,1030.8 L1138.0,1044.0 Z" fill="#fff" stroke="#000" stroke-width="2.4" stroke-linecap="round" stroke-linejoin="round" />
<path d="M1119.5,1044.5 L1140.0,1046.8 L1152.5,1042.8" fill="none" stroke="#000" stroke-width="5" stroke-linecap="round" stroke-linejoin="round" />
<path d="M1138.0,1044.0 L1154.0,1036.0" fill="none" stroke="#000" stroke-width="3" stroke-linecap="round" stroke-linejoin="round" />
<path d="M1120.0,1046.2 L1136.0,1058.0 L1150.0,1068.2 L1154.0,1068.5" fill="none" stroke="#000" stroke-width="2.6" stroke-linecap="round" stroke-linejoin="round" />
<path d="M1126.0,1049.0 L1152.5,1060.0" fill="none" stroke="#000" stroke-width="2.0" stroke-linecap="round" stroke-linejoin="round" />
<path d="M1152.2,1043.2 L1154.0,1068.2" fill="none" stroke="#000" stroke-width="4" stroke-linecap="round" stroke-linejoin="round" />
<path d="M1155.8,1040.0 L1158.2,1064.0" fill="none" stroke="#000" stroke-width="3" stroke-linecap="round" stroke-linejoin="round" />
<path d="M1040.0,1095.5 L1058.5,1079.7 L1086.0,1079.0 L1063.0,1094.5 Z" fill="#fff" stroke="#000" stroke-width="2.4" stroke-linecap="round" stroke-linejoin="round" />
<path d="M1040.0,1096.2 L1065.0,1097.2 L1078.0,1095.0 L1090.0,1089.0" fill="none" stroke="#000" stroke-width="5.5" stroke-linecap="round" stroke-linejoin="round" />
<path d="M1072.0,1092.5 L1086.0,1080.5" fill="none" stroke="#000" stroke-width="3" stroke-linecap="round" stroke-linejoin="round" />
<path d="M1066.0,1094.0 L1080.0,1082.5" fill="none" stroke="#000" stroke-width="2" stroke-linecap="round" stroke-linejoin="round" />
<path d="M1040.0,1098.0 L1065.0,1110.0 L1078.0,1119.0" fill="none" stroke="#000" stroke-width="2.4" stroke-linecap="round" stroke-linejoin="round" />
<path d="M1050.0,1101.5 L1078.0,1107.2" fill="none" stroke="#000" stroke-width="2.0" stroke-linecap="round" stroke-linejoin="round" />
<path d="M1079.0,1096.2 L1080.0,1119.0" fill="none" stroke="#000" stroke-width="4" stroke-linecap="round" stroke-linejoin="round" />
<path d="M1082.2,1097.0 L1083.2,1114.0" fill="none" stroke="#000" stroke-width="3.4" stroke-linecap="round" stroke-linejoin="round" />
<path d="M1086.0,1098.0 L1087.5,1112.0" fill="none" stroke="#000" stroke-width="2.6" stroke-linecap="round" stroke-linejoin="round" />
<path d="M1108.0,1079.0 C1110.0,1079.5 1112.5,1078.5 1120.0,1082.2 C1127.5,1085.9 1147.1,1097.2 1153.0,1101.0 C1158.9,1104.8 1155.7,1103.8 1155.2,1105.0 C1154.7,1106.2 1156.4,1109.2 1150.0,1108.5 C1143.6,1107.8 1127.0,1100.7 1117.0,1100.5 C1107.0,1100.3 1094.5,1106.1 1090.0,1107.2" fill="#fff" stroke="#000" stroke-width="2.6" stroke-linecap="round" stroke-linejoin="round" />
<path d="M1103.0,1097.0 L1118.0,1084.0" fill="none" stroke="#000" stroke-width="3" stroke-linecap="round" stroke-linejoin="round" />
<path d="M1106.0,1099.0 L1121.0,1085.5" fill="none" stroke="#000" stroke-width="2" stroke-linecap="round" stroke-linejoin="round" />
<path d="M1116.0,1092.2 L1149.0,1109.0" fill="none" stroke="#000" stroke-width="2.0" stroke-linecap="round" stroke-linejoin="round" />
<path d="M1117.0,1100.5 L1130.0,1106.2 L1148.0,1110.2" fill="none" stroke="#000" stroke-width="3" stroke-linecap="round" stroke-linejoin="round" />
<path d="M1084.0,1080.0 L1108.0,1079.0" fill="none" stroke="#000" stroke-width="3.5" stroke-linecap="round" stroke-linejoin="round" />
<path d="M1086.5,1081.2 L1094.0,1079.0 L1099.0,1080.0 L1100.0,1092.0 L1090.0,1094.5 L1086.0,1090.0 Z" fill="#000" stroke="#000" stroke-width="1.5" stroke-linecap="round" stroke-linejoin="round" />
<ellipse cx="1097.6" cy="1085.5" rx="9.5" ry="8.8" fill="#000"/>
<path d="M1094.6,1083.5 l3,-2.5 M1096.6,1089.0 l4,0.5 M1089.1,1083.5 l2,3" stroke="#fff" stroke-width="1.1" fill="none"/>
<path d="M1090.0,1107.2 L1100.0,1105.0 L1108.0,1100.0" fill="none" stroke="#000" stroke-width="4" stroke-linecap="round" stroke-linejoin="round" />
<path d="M1146.9,1014.2 L1146.9,994.1 M1146.9,994.1 C1147.3,993.2 1147.8,989.7 1149.1,988.3 C1150.5,987.0 1154.1,986.6 1155.1,986.2 M1155.1,986.2 L1256.2,1064.1 M1256.2,1064.1 C1257.0,1064.7 1259.6,1066.0 1260.6,1067.6 C1261.6,1069.2 1262.1,1072.7 1262.4,1073.7 M1262.4,1073.7 L1262.4,1122.7 L1262.5,1122.8 C1262.3,1124.4 1263.8,1127.1 1261.2,1132.5 C1258.8,1137.9 1251.5,1149.2 1247.5,1155.0 C1243.5,1160.8 1240.6,1164.2 1237.5,1167.5 C1234.4,1170.8 1231.7,1172.8 1228.8,1175.0 C1225.8,1177.2 1223.1,1179.2 1220.0,1180.6 C1216.9,1182.1 1213.3,1183.4 1210.0,1183.8 C1206.7,1184.1 1203.3,1183.3 1200.0,1182.5 C1196.7,1181.7 1194.2,1180.8 1190.0,1178.8 C1185.8,1176.7 1177.5,1171.5 1175.0,1170.0 L1140.0,1150.0 L1140.0,1142.5 L1100.0,1120.0 L1106.0,1103.0 C1108.3,1103.7 1115.2,1105.8 1120.0,1107.2 C1124.8,1108.6 1130.3,1110.4 1135.0,1111.2 C1139.7,1112.0 1144.2,1112.9 1148.0,1112.0 C1151.8,1111.1 1155.3,1108.8 1158.0,1106.0 C1160.7,1103.2 1162.5,1099.3 1164.0,1095.0 C1165.5,1090.7 1166.8,1085.0 1167.0,1080.0 C1167.2,1075.0 1166.2,1070.0 1165.0,1065.0 C1163.8,1060.0 1162.0,1055.8 1160.0,1050.0 C1158.0,1044.2 1154.8,1035.0 1153.0,1030.0 C1151.2,1025.0 1149.7,1021.7 1149.0,1020.0 L1146.9,1014.2 Z" fill="#fff" stroke="none" stroke-width="0" stroke-linecap="round" stroke-linejoin="round" />
<path d="M1146.9,1014.2 L1146.9,994.1 M1146.9,994.1 C1147.3,993.2 1147.8,989.7 1149.1,988.3 C1150.5,987.0 1154.1,986.6 1155.1,986.2 M1155.1,986.2 L1256.2,1064.1 M1256.2,1064.1 C1257.0,1064.7 1259.6,1066.0 1260.6,1067.6 C1261.6,1069.2 1262.1,1072.7 1262.4,1073.7 M1262.4,1073.7 L1262.4,1122.7" fill="none" stroke="#000" stroke-width="2.3" stroke-linecap="round" stroke-linejoin="round" />
<path d="M1146.9,1014.2 C1147.2,1015.2 1148.0,1017.4 1149.0,1020.0 C1150.0,1022.6 1151.2,1025.0 1153.0,1030.0 C1154.8,1035.0 1158.0,1044.2 1160.0,1050.0 C1162.0,1055.8 1163.8,1060.0 1165.0,1065.0 C1166.2,1070.0 1167.2,1075.0 1167.0,1080.0 C1166.8,1085.0 1165.5,1090.7 1164.0,1095.0 C1162.5,1099.3 1160.7,1103.2 1158.0,1106.0 C1155.3,1108.8 1151.8,1111.1 1148.0,1112.0 C1144.2,1112.9 1139.7,1112.0 1135.0,1111.2 C1130.3,1110.4 1122.5,1107.9 1120.0,1107.2" fill="none" stroke="#000" stroke-width="2.6" stroke-linecap="round" stroke-linejoin="round" />
<path d="M1262.5,1122.8 C1262.3,1124.4 1263.8,1127.1 1261.2,1132.5 C1258.8,1137.9 1251.5,1149.2 1247.5,1155.0 C1243.5,1160.8 1240.6,1164.2 1237.5,1167.5 C1234.4,1170.8 1231.7,1172.8 1228.8,1175.0 C1225.8,1177.2 1223.1,1179.2 1220.0,1180.6 C1216.9,1182.1 1213.3,1183.4 1210.0,1183.8 C1206.7,1184.1 1203.3,1183.3 1200.0,1182.5 C1196.7,1181.7 1194.2,1180.8 1190.0,1178.8 C1185.8,1176.7 1177.5,1171.5 1175.0,1170.0 L1140.0,1150.0" fill="none" stroke="#000" stroke-width="1.8" stroke-linecap="round" stroke-linejoin="round" />
<path d="M1159.1,991.8 L1255.4,1067.1" fill="none" stroke="#000" stroke-width="1.8" stroke-linecap="round" stroke-linejoin="round" />
<path d="M1255.4,1067.1 C1255.8,1067.9 1257.5,1070.0 1258.0,1072.0 C1258.5,1074.0 1258.3,1077.8 1258.3,1079.0" fill="none" stroke="#000" stroke-width="1.8" stroke-linecap="round" stroke-linejoin="round" />
<path d="M1258.3,1079.0 L1258.1,1123.8" fill="none" stroke="#000" stroke-width="1.8" stroke-linecap="round" stroke-linejoin="round" />
<path d="M1258.1,1123.8 C1257.8,1125.4 1258.6,1128.8 1256.2,1133.8 C1253.9,1138.8 1246.9,1148.3 1243.8,1153.8 C1240.6,1159.2 1238.5,1164.2 1237.5,1166.2" fill="none" stroke="#000" stroke-width="1.8" stroke-linecap="round" stroke-linejoin="round" />
<path d="M1155.1,986.2 L1205.5,960.0" fill="none" stroke="#000" stroke-width="2.2" stroke-linecap="round" stroke-linejoin="round" />
<path d="M1084.8,1110.9 L1136.2,1141.2 L1140.0,1142.5 L1140.0,1150.0 L1135.0,1153.1 L1079.5,1116.6 Z" fill="#fff" stroke="#000" stroke-width="2.2" stroke-linecap="round" stroke-linejoin="round" />
<path d="M1081.2,1113.5 L1133.8,1143.8 L1136.2,1141.5" fill="none" stroke="#000" stroke-width="1.8" stroke-linecap="round" stroke-linejoin="round" />
<path d="M1133.8,1143.8 L1135.0,1153.1" fill="none" stroke="#000" stroke-width="1.8" stroke-linecap="round" stroke-linejoin="round" />
<path d="M1079.0,1114.0 L1078.0,1120.0" fill="none" stroke="#000" stroke-width="2.2" stroke-linecap="round" stroke-linejoin="round" />
</svg></body></html>
